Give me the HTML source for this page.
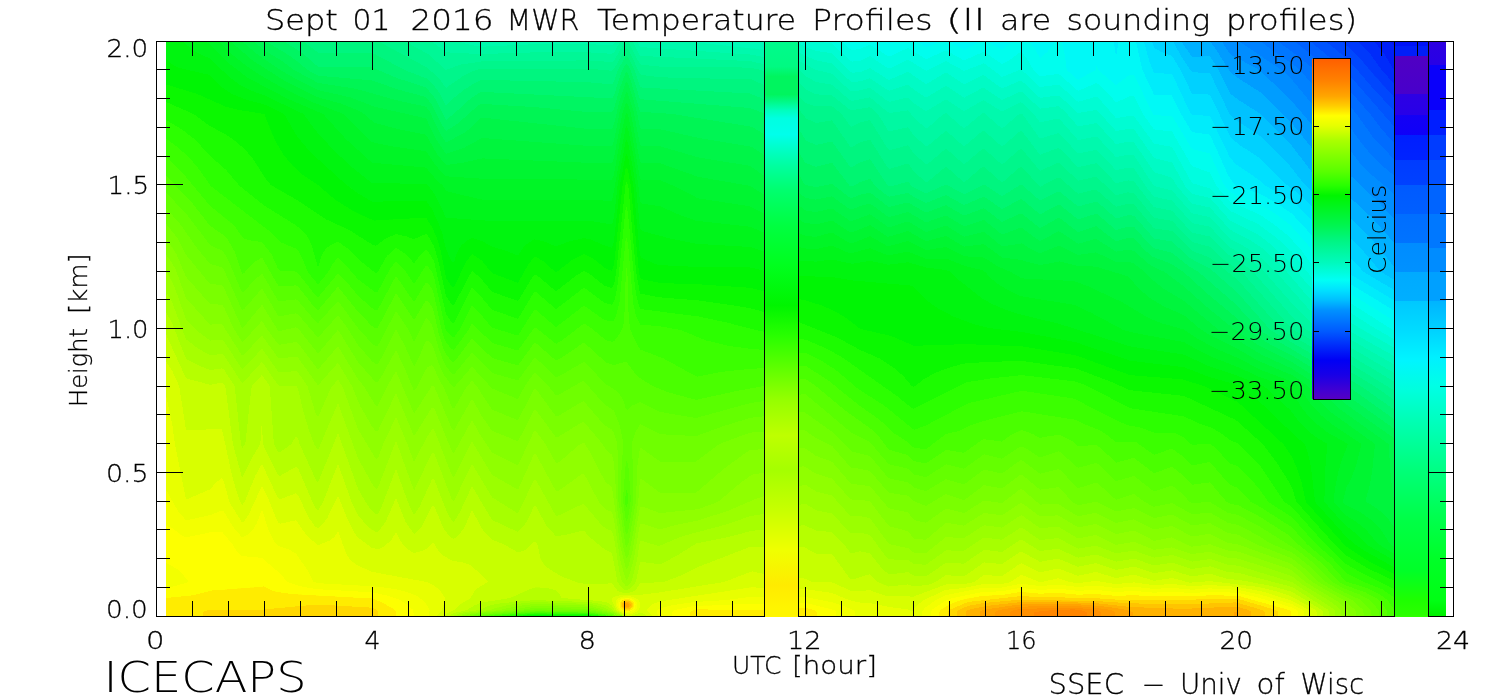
<!DOCTYPE html>
<html><head><meta charset="utf-8"><title>Sept 01 2016 MWR Temperature Profiles</title>
<style>
html,body{margin:0;padding:0;background:#fff;width:1500px;height:700px;overflow:hidden}
svg{display:block}
text{font-family:"DejaVu Sans","Liberation Sans",sans-serif;fill:#000}
</style></head><body>
<svg width="1500" height="700" viewBox="0 0 1500 700">
<defs>
<linearGradient id="g0" gradientUnits="userSpaceOnUse" x1="0" y1="42" x2="0" y2="616"><stop offset="0.0008711" stop-color="#00f50e"/><stop offset="0.08101" stop-color="#05f600"/><stop offset="0.2395" stop-color="#51ff00"/><stop offset="0.473" stop-color="#a9ff00"/><stop offset="0.6176" stop-color="#deff00"/><stop offset="0.8441" stop-color="#f8ff00"/><stop offset="0.8929" stop-color="#fcff00"/><stop offset="0.9469" stop-color="#f6ff00"/><stop offset="0.9678" stop-color="#fff800"/><stop offset="0.9991" stop-color="#ffe900"/></linearGradient>
<linearGradient id="g1" gradientUnits="userSpaceOnUse" x1="0" y1="42" x2="0" y2="616"><stop offset="0.0008711" stop-color="#00f512"/><stop offset="0.08449" stop-color="#05f600"/><stop offset="0.2535" stop-color="#51ff00"/><stop offset="0.574" stop-color="#c6ff00"/><stop offset="0.6333" stop-color="#d5ff00"/><stop offset="0.8389" stop-color="#f3ff00"/><stop offset="0.8929" stop-color="#fcff00"/><stop offset="0.9486" stop-color="#f9ff00"/><stop offset="0.9678" stop-color="#fff600"/><stop offset="0.9991" stop-color="#ffe700"/></linearGradient>
<linearGradient id="g2" gradientUnits="userSpaceOnUse" x1="0" y1="42" x2="0" y2="616"><stop offset="0.0008711" stop-color="#00f516"/><stop offset="0.08972" stop-color="#05f600"/><stop offset="0.2726" stop-color="#53ff00"/><stop offset="0.5758" stop-color="#b9ff00"/><stop offset="0.6298" stop-color="#c9ff00"/><stop offset="0.8214" stop-color="#e9ff00"/><stop offset="0.8911" stop-color="#fcff00"/><stop offset="0.9503" stop-color="#fcff00"/><stop offset="0.9991" stop-color="#ffe500"/></linearGradient>
<linearGradient id="g3" gradientUnits="userSpaceOnUse" x1="0" y1="42" x2="0" y2="616"><stop offset="0.0008711" stop-color="#00f51a"/><stop offset="0.09495" stop-color="#06f600"/><stop offset="0.2936" stop-color="#55ff00"/><stop offset="0.5688" stop-color="#b2ff00"/><stop offset="0.6193" stop-color="#c7ff00"/><stop offset="0.8214" stop-color="#eaff00"/><stop offset="0.8911" stop-color="#fdff00"/><stop offset="0.9591" stop-color="#fffb00"/><stop offset="0.9991" stop-color="#ffe400"/></linearGradient>
<linearGradient id="g4" gradientUnits="userSpaceOnUse" x1="0" y1="42" x2="0" y2="616"><stop offset="0.0008711" stop-color="#00f51e"/><stop offset="0.1002" stop-color="#05f600"/><stop offset="0.3197" stop-color="#59ff00"/><stop offset="0.5636" stop-color="#acff00"/><stop offset="0.6159" stop-color="#c5ff00"/><stop offset="0.8232" stop-color="#ecff00"/><stop offset="0.8911" stop-color="#feff00"/><stop offset="0.9573" stop-color="#fff900"/><stop offset="0.9991" stop-color="#ffe200"/></linearGradient>
<linearGradient id="g5" gradientUnits="userSpaceOnUse" x1="0" y1="42" x2="0" y2="616"><stop offset="0.0008711" stop-color="#00f521"/><stop offset="0.09669" stop-color="#01f500"/><stop offset="0.3249" stop-color="#53ff00"/><stop offset="0.5584" stop-color="#a6ff00"/><stop offset="0.6159" stop-color="#c4ff00"/><stop offset="0.8249" stop-color="#eeff00"/><stop offset="0.8929" stop-color="#ffff00"/><stop offset="0.9521" stop-color="#fff900"/><stop offset="0.9991" stop-color="#ffe000"/></linearGradient>
<linearGradient id="g6" gradientUnits="userSpaceOnUse" x1="0" y1="42" x2="0" y2="616"><stop offset="0.0008711" stop-color="#00f529"/><stop offset="0.1071" stop-color="#02f600"/><stop offset="0.3197" stop-color="#4cff00"/><stop offset="0.5671" stop-color="#acff00"/><stop offset="0.6141" stop-color="#c5ff00"/><stop offset="0.8423" stop-color="#f5ff00"/><stop offset="0.9068" stop-color="#feff00"/><stop offset="0.9556" stop-color="#fff700"/><stop offset="0.9991" stop-color="#ffe000"/></linearGradient>
<linearGradient id="g7" gradientUnits="userSpaceOnUse" x1="0" y1="42" x2="0" y2="616"><stop offset="0.0008711" stop-color="#00f531"/><stop offset="0.1159" stop-color="#04f600"/><stop offset="0.311" stop-color="#44ff00"/><stop offset="0.5723" stop-color="#abff00"/><stop offset="0.6141" stop-color="#c0ff00"/><stop offset="0.8179" stop-color="#ebff00"/><stop offset="0.9051" stop-color="#fdff00"/><stop offset="0.9573" stop-color="#fff600"/><stop offset="0.9991" stop-color="#ffe000"/></linearGradient>
<linearGradient id="g8" gradientUnits="userSpaceOnUse" x1="0" y1="42" x2="0" y2="616"><stop offset="0.0008711" stop-color="#00f539"/><stop offset="0.1193" stop-color="#05f600"/><stop offset="0.3005" stop-color="#3bff00"/><stop offset="0.5497" stop-color="#96ff00"/><stop offset="0.6176" stop-color="#b2ff00"/><stop offset="0.7517" stop-color="#cbff00"/><stop offset="0.9033" stop-color="#fcff00"/><stop offset="0.9573" stop-color="#fff500"/><stop offset="0.9991" stop-color="#ffe000"/></linearGradient>
<linearGradient id="g9" gradientUnits="userSpaceOnUse" x1="0" y1="42" x2="0" y2="616"><stop offset="0.0008711" stop-color="#00f541"/><stop offset="0.1211" stop-color="#04f600"/><stop offset="0.2883" stop-color="#32ff00"/><stop offset="0.473" stop-color="#6bff00"/><stop offset="0.6141" stop-color="#a5ff00"/><stop offset="0.7239" stop-color="#b3ff00"/><stop offset="0.8336" stop-color="#deff00"/><stop offset="0.9155" stop-color="#fcff00"/><stop offset="0.9747" stop-color="#ffec00"/><stop offset="0.9991" stop-color="#ffe000"/></linearGradient>
<linearGradient id="g10" gradientUnits="userSpaceOnUse" x1="0" y1="42" x2="0" y2="616"><stop offset="0.0008711" stop-color="#00f549"/><stop offset="0.1246" stop-color="#05f600"/><stop offset="0.2761" stop-color="#29ff00"/><stop offset="0.5549" stop-color="#95ff00"/><stop offset="0.6159" stop-color="#acff00"/><stop offset="0.7204" stop-color="#baff00"/><stop offset="0.8946" stop-color="#f8ff00"/><stop offset="0.9503" stop-color="#fff700"/><stop offset="0.9991" stop-color="#ffe000"/></linearGradient>
<linearGradient id="g11" gradientUnits="userSpaceOnUse" x1="0" y1="42" x2="0" y2="616"><stop offset="0.0008711" stop-color="#00f552"/><stop offset="0.128" stop-color="#04f600"/><stop offset="0.2726" stop-color="#23fe00"/><stop offset="0.5845" stop-color="#abff00"/><stop offset="0.6124" stop-color="#b8ff00"/><stop offset="0.7152" stop-color="#c2ff00"/><stop offset="0.8319" stop-color="#edff00"/><stop offset="0.9434" stop-color="#fffa00"/><stop offset="0.9991" stop-color="#ffe000"/></linearGradient>
<linearGradient id="g12" gradientUnits="userSpaceOnUse" x1="0" y1="42" x2="0" y2="616"><stop offset="0.0008711" stop-color="#00f55b"/><stop offset="0.1298" stop-color="#02f600"/><stop offset="0.2726" stop-color="#1efd00"/><stop offset="0.588" stop-color="#acff00"/><stop offset="0.6159" stop-color="#b6ff00"/><stop offset="0.7134" stop-color="#bfff00"/><stop offset="0.8249" stop-color="#ebff00"/><stop offset="0.9434" stop-color="#fffa00"/><stop offset="0.9991" stop-color="#ffe000"/></linearGradient>
<linearGradient id="g13" gradientUnits="userSpaceOnUse" x1="0" y1="42" x2="0" y2="616"><stop offset="0.0008711" stop-color="#00f561"/><stop offset="0.1315" stop-color="#00f503"/><stop offset="0.2744" stop-color="#1cfc00"/><stop offset="0.5148" stop-color="#7eff00"/><stop offset="0.6124" stop-color="#a8ff00"/><stop offset="0.7152" stop-color="#b4ff00"/><stop offset="0.8667" stop-color="#edff00"/><stop offset="0.9538" stop-color="#fff900"/><stop offset="0.9991" stop-color="#ffde00"/></linearGradient>
<linearGradient id="g14" gradientUnits="userSpaceOnUse" x1="0" y1="42" x2="0" y2="616"><stop offset="0.0008711" stop-color="#00f567"/><stop offset="0.1315" stop-color="#00f507"/><stop offset="0.2221" stop-color="#09f700"/><stop offset="0.4225" stop-color="#4fff00"/><stop offset="0.6141" stop-color="#a2ff00"/><stop offset="0.7204" stop-color="#b1ff00"/><stop offset="0.8929" stop-color="#f0ff00"/><stop offset="0.9573" stop-color="#fffa00"/><stop offset="0.9974" stop-color="#ffdd00"/><stop offset="0.9991" stop-color="#ffdd00"/></linearGradient>
<linearGradient id="g15" gradientUnits="userSpaceOnUse" x1="0" y1="42" x2="0" y2="616"><stop offset="0.0008711" stop-color="#00f56d"/><stop offset="0.1333" stop-color="#00f50c"/><stop offset="0.2274" stop-color="#07f700"/><stop offset="0.4207" stop-color="#4fff00"/><stop offset="0.6141" stop-color="#a3ff00"/><stop offset="0.7221" stop-color="#b5ff00"/><stop offset="0.8876" stop-color="#eeff00"/><stop offset="0.9591" stop-color="#fffa00"/><stop offset="0.9956" stop-color="#ffdc00"/><stop offset="0.9991" stop-color="#ffdc00"/></linearGradient>
<linearGradient id="g16" gradientUnits="userSpaceOnUse" x1="0" y1="42" x2="0" y2="616"><stop offset="0.0008711" stop-color="#00f573"/><stop offset="0.1333" stop-color="#00f510"/><stop offset="0.2361" stop-color="#06f600"/><stop offset="0.419" stop-color="#4dff00"/><stop offset="0.6159" stop-color="#a2ff00"/><stop offset="0.7326" stop-color="#bbff00"/><stop offset="0.8876" stop-color="#ecff00"/><stop offset="0.9503" stop-color="#faff00"/><stop offset="0.9643" stop-color="#fff500"/><stop offset="0.9956" stop-color="#ffdb00"/><stop offset="0.9991" stop-color="#ffdb00"/></linearGradient>
<linearGradient id="g17" gradientUnits="userSpaceOnUse" x1="0" y1="42" x2="0" y2="616"><stop offset="0.0008711" stop-color="#00f579"/><stop offset="0.07753" stop-color="#00f53f"/><stop offset="0.1333" stop-color="#00f515"/><stop offset="0.2448" stop-color="#05f600"/><stop offset="0.4172" stop-color="#40ff00"/><stop offset="0.5305" stop-color="#7aff00"/><stop offset="0.6246" stop-color="#9bff00"/><stop offset="0.7552" stop-color="#b8ff00"/><stop offset="0.8981" stop-color="#ebff00"/><stop offset="0.9486" stop-color="#f7ff00"/><stop offset="0.9625" stop-color="#fff900"/><stop offset="0.9922" stop-color="#ffd900"/><stop offset="0.9991" stop-color="#ffd900"/></linearGradient>
<linearGradient id="g18" gradientUnits="userSpaceOnUse" x1="0" y1="42" x2="0" y2="616"><stop offset="0.0008711" stop-color="#00f57f"/><stop offset="0.0601" stop-color="#00f556"/><stop offset="0.1315" stop-color="#00f51a"/><stop offset="0.2535" stop-color="#06f600"/><stop offset="0.4155" stop-color="#33ff00"/><stop offset="0.5148" stop-color="#6cff00"/><stop offset="0.6298" stop-color="#94ff00"/><stop offset="0.804" stop-color="#bdff00"/><stop offset="0.8981" stop-color="#e8ff00"/><stop offset="0.9469" stop-color="#f3ff00"/><stop offset="0.9625" stop-color="#fffa00"/><stop offset="0.9869" stop-color="#ffdc00"/><stop offset="0.9991" stop-color="#ffd800"/></linearGradient>
<linearGradient id="g19" gradientUnits="userSpaceOnUse" x1="0" y1="42" x2="0" y2="616"><stop offset="0.0008711" stop-color="#00f582"/><stop offset="0.0601" stop-color="#00f55b"/><stop offset="0.1315" stop-color="#00f51e"/><stop offset="0.2639" stop-color="#06f600"/><stop offset="0.4155" stop-color="#34ff00"/><stop offset="0.5148" stop-color="#6cff00"/><stop offset="0.6368" stop-color="#95ff00"/><stop offset="0.811" stop-color="#c1ff00"/><stop offset="0.8998" stop-color="#e7ff00"/><stop offset="0.9469" stop-color="#f1ff00"/><stop offset="0.9625" stop-color="#fffc00"/><stop offset="0.9817" stop-color="#ffe000"/><stop offset="0.9991" stop-color="#ffd800"/></linearGradient>
<linearGradient id="g20" gradientUnits="userSpaceOnUse" x1="0" y1="42" x2="0" y2="616"><stop offset="0.0008711" stop-color="#00f582"/><stop offset="0.06359" stop-color="#00f558"/><stop offset="0.1333" stop-color="#00f522"/><stop offset="0.2744" stop-color="#05f600"/><stop offset="0.4225" stop-color="#44ff00"/><stop offset="0.5375" stop-color="#7bff00"/><stop offset="0.6472" stop-color="#9eff00"/><stop offset="0.872" stop-color="#e2ff00"/><stop offset="0.9469" stop-color="#f0ff00"/><stop offset="0.9643" stop-color="#fffa00"/><stop offset="0.9904" stop-color="#ffd900"/><stop offset="0.9991" stop-color="#ffd800"/></linearGradient>
<linearGradient id="g21" gradientUnits="userSpaceOnUse" x1="0" y1="42" x2="0" y2="616"><stop offset="0.0008711" stop-color="#00f582"/><stop offset="0.06707" stop-color="#00f556"/><stop offset="0.135" stop-color="#00f526"/><stop offset="0.2848" stop-color="#05f600"/><stop offset="0.4486" stop-color="#5dff00"/><stop offset="0.6315" stop-color="#a1ff00"/><stop offset="0.8789" stop-color="#e5ff00"/><stop offset="0.9451" stop-color="#eeff00"/><stop offset="0.9643" stop-color="#fffb00"/><stop offset="0.9922" stop-color="#ffd900"/><stop offset="0.9991" stop-color="#ffd900"/></linearGradient>
<linearGradient id="g22" gradientUnits="userSpaceOnUse" x1="0" y1="42" x2="0" y2="616"><stop offset="0.0008711" stop-color="#00f582"/><stop offset="0.0723" stop-color="#00f552"/><stop offset="0.1385" stop-color="#00f529"/><stop offset="0.2936" stop-color="#05f600"/><stop offset="0.4608" stop-color="#5bff00"/><stop offset="0.6385" stop-color="#9aff00"/><stop offset="0.9207" stop-color="#e6ff00"/><stop offset="0.9486" stop-color="#f0ff00"/><stop offset="0.966" stop-color="#fff900"/><stop offset="0.9939" stop-color="#ffd900"/><stop offset="0.9991" stop-color="#ffd900"/></linearGradient>
<linearGradient id="g23" gradientUnits="userSpaceOnUse" x1="0" y1="42" x2="0" y2="616"><stop offset="0.0008711" stop-color="#00f582"/><stop offset="0.1402" stop-color="#00f52d"/><stop offset="0.3005" stop-color="#05f600"/><stop offset="0.4834" stop-color="#5cff00"/><stop offset="0.6507" stop-color="#94ff00"/><stop offset="0.8249" stop-color="#c4ff00"/><stop offset="0.9486" stop-color="#f0ff00"/><stop offset="0.966" stop-color="#fffb00"/><stop offset="0.9939" stop-color="#ffda00"/><stop offset="0.9991" stop-color="#ffda00"/></linearGradient>
<linearGradient id="g24" gradientUnits="userSpaceOnUse" x1="0" y1="42" x2="0" y2="616"><stop offset="0.0008711" stop-color="#00f582"/><stop offset="0.142" stop-color="#00f531"/><stop offset="0.3075" stop-color="#05f600"/><stop offset="0.5096" stop-color="#60ff00"/><stop offset="0.6768" stop-color="#93ff00"/><stop offset="0.8267" stop-color="#bbff00"/><stop offset="0.9486" stop-color="#efff00"/><stop offset="0.966" stop-color="#fffc00"/><stop offset="0.9939" stop-color="#ffda00"/><stop offset="0.9991" stop-color="#ffda00"/></linearGradient>
<linearGradient id="g25" gradientUnits="userSpaceOnUse" x1="0" y1="42" x2="0" y2="616"><stop offset="0.0008711" stop-color="#00f582"/><stop offset="0.142" stop-color="#00f535"/><stop offset="0.3145" stop-color="#05f600"/><stop offset="0.527" stop-color="#60ff00"/><stop offset="0.7117" stop-color="#96ff00"/><stop offset="0.8319" stop-color="#b7ff00"/><stop offset="0.9503" stop-color="#f0ff00"/><stop offset="0.9678" stop-color="#fffa00"/><stop offset="0.9939" stop-color="#ffdb00"/><stop offset="0.9991" stop-color="#ffdb00"/></linearGradient>
<linearGradient id="g26" gradientUnits="userSpaceOnUse" x1="0" y1="42" x2="0" y2="616"><stop offset="0.0008711" stop-color="#00f584"/><stop offset="0.1437" stop-color="#00f537"/><stop offset="0.3162" stop-color="#05f600"/><stop offset="0.5357" stop-color="#61ff00"/><stop offset="0.7866" stop-color="#a3ff00"/><stop offset="0.8615" stop-color="#c3ff00"/><stop offset="0.9521" stop-color="#f0ff00"/><stop offset="0.9713" stop-color="#fff900"/><stop offset="0.9956" stop-color="#ffe100"/><stop offset="0.9991" stop-color="#ffe100"/></linearGradient>
<linearGradient id="g27" gradientUnits="userSpaceOnUse" x1="0" y1="42" x2="0" y2="616"><stop offset="0.0008711" stop-color="#00f588"/><stop offset="0.1455" stop-color="#00f537"/><stop offset="0.3145" stop-color="#05f600"/><stop offset="0.4747" stop-color="#53ff00"/><stop offset="0.7152" stop-color="#9cff00"/><stop offset="0.8441" stop-color="#c2ff00"/><stop offset="0.9503" stop-color="#edff00"/><stop offset="0.9782" stop-color="#fff900"/><stop offset="0.9974" stop-color="#ffeb00"/><stop offset="0.9991" stop-color="#ffeb00"/></linearGradient>
<linearGradient id="g28" gradientUnits="userSpaceOnUse" x1="0" y1="42" x2="0" y2="616"><stop offset="0.0008711" stop-color="#00f68b"/><stop offset="0.1472" stop-color="#00f538"/><stop offset="0.3127" stop-color="#05f600"/><stop offset="0.4382" stop-color="#4eff00"/><stop offset="0.6803" stop-color="#9bff00"/><stop offset="0.9486" stop-color="#eaff00"/><stop offset="0.9852" stop-color="#fffa00"/><stop offset="0.9991" stop-color="#fff500"/></linearGradient>
<linearGradient id="g29" gradientUnits="userSpaceOnUse" x1="0" y1="42" x2="0" y2="616"><stop offset="0.0008711" stop-color="#00f68e"/><stop offset="0.08449" stop-color="#00f55c"/><stop offset="0.1524" stop-color="#00f537"/><stop offset="0.311" stop-color="#04f600"/><stop offset="0.4486" stop-color="#4fff00"/><stop offset="0.6768" stop-color="#95ff00"/><stop offset="0.9416" stop-color="#e4ff00"/><stop offset="0.9991" stop-color="#fffe00"/></linearGradient>
<linearGradient id="g30" gradientUnits="userSpaceOnUse" x1="0" y1="42" x2="0" y2="616"><stop offset="0.0008711" stop-color="#00f692"/><stop offset="0.07404" stop-color="#00f567"/><stop offset="0.1437" stop-color="#00f53c"/><stop offset="0.311" stop-color="#05f600"/><stop offset="0.4817" stop-color="#55ff00"/><stop offset="0.8371" stop-color="#b9ff00"/><stop offset="0.9991" stop-color="#faff00"/></linearGradient>
<linearGradient id="g31" gradientUnits="userSpaceOnUse" x1="0" y1="42" x2="0" y2="616"><stop offset="0.0008711" stop-color="#00f795"/><stop offset="0.06882" stop-color="#00f56f"/><stop offset="0.1385" stop-color="#00f53f"/><stop offset="0.311" stop-color="#05f600"/><stop offset="0.4834" stop-color="#56ff00"/><stop offset="0.8371" stop-color="#b7ff00"/><stop offset="0.9991" stop-color="#f6ff00"/></linearGradient>
<linearGradient id="g32" gradientUnits="userSpaceOnUse" x1="0" y1="42" x2="0" y2="616"><stop offset="0.0008711" stop-color="#00f799"/><stop offset="0.06707" stop-color="#00f574"/><stop offset="0.1368" stop-color="#00f541"/><stop offset="0.3092" stop-color="#05f600"/><stop offset="0.4451" stop-color="#4fff00"/><stop offset="0.5531" stop-color="#70ff00"/><stop offset="0.8406" stop-color="#c1ff00"/><stop offset="0.9991" stop-color="#f1ff00"/></linearGradient>
<linearGradient id="g33" gradientUnits="userSpaceOnUse" x1="0" y1="42" x2="0" y2="616"><stop offset="0.0008711" stop-color="#00f79c"/><stop offset="0.08624" stop-color="#00f570"/><stop offset="0.1838" stop-color="#00f538"/><stop offset="0.3267" stop-color="#01f500"/><stop offset="0.4556" stop-color="#4aff00"/><stop offset="0.7134" stop-color="#a0ff00"/><stop offset="0.9033" stop-color="#d5ff00"/><stop offset="0.9939" stop-color="#e9ff00"/><stop offset="0.9991" stop-color="#e7ff00"/></linearGradient>
<linearGradient id="g34" gradientUnits="userSpaceOnUse" x1="0" y1="42" x2="0" y2="616"><stop offset="0.0008711" stop-color="#00f8a0"/><stop offset="0.1315" stop-color="#00f564"/><stop offset="0.2674" stop-color="#00f51b"/><stop offset="0.3807" stop-color="#05f600"/><stop offset="0.5462" stop-color="#5cff00"/><stop offset="0.6559" stop-color="#86ff00"/><stop offset="0.858" stop-color="#c4ff00"/><stop offset="0.9834" stop-color="#e1ff00"/><stop offset="0.9991" stop-color="#d6ff00"/></linearGradient>
<linearGradient id="g35" gradientUnits="userSpaceOnUse" x1="0" y1="42" x2="0" y2="616"><stop offset="0.0008711" stop-color="#00f8a4"/><stop offset="0.1455" stop-color="#00f55f"/><stop offset="0.2674" stop-color="#00f51f"/><stop offset="0.426" stop-color="#05f600"/><stop offset="0.5444" stop-color="#4bff00"/><stop offset="0.6228" stop-color="#73ff00"/><stop offset="0.8458" stop-color="#b6ff00"/><stop offset="0.9416" stop-color="#daff00"/><stop offset="0.9834" stop-color="#d8ff00"/><stop offset="0.9922" stop-color="#d1ff00"/><stop offset="0.9991" stop-color="#bcff00"/></linearGradient>
<linearGradient id="g36" gradientUnits="userSpaceOnUse" x1="0" y1="42" x2="0" y2="616"><stop offset="0.0008711" stop-color="#00f8a6"/><stop offset="0.2622" stop-color="#00f521"/><stop offset="0.4172" stop-color="#05f600"/><stop offset="0.5566" stop-color="#56ff00"/><stop offset="0.6437" stop-color="#79ff00"/><stop offset="0.8476" stop-color="#b8ff00"/><stop offset="0.9434" stop-color="#d8ff00"/><stop offset="0.98" stop-color="#d1ff00"/><stop offset="0.9904" stop-color="#caff00"/><stop offset="0.9991" stop-color="#9fff00"/></linearGradient>
<linearGradient id="g37" gradientUnits="userSpaceOnUse" x1="0" y1="42" x2="0" y2="616"><stop offset="0.0008711" stop-color="#00f8a9"/><stop offset="0.1821" stop-color="#00f543"/><stop offset="0.3197" stop-color="#00f512"/><stop offset="0.3911" stop-color="#06f700"/><stop offset="0.5479" stop-color="#5bff00"/><stop offset="0.6681" stop-color="#87ff00"/><stop offset="0.9103" stop-color="#d0ff00"/><stop offset="0.9713" stop-color="#d2ff00"/><stop offset="0.9904" stop-color="#bfff00"/><stop offset="0.9991" stop-color="#89ff00"/></linearGradient>
<linearGradient id="g38" gradientUnits="userSpaceOnUse" x1="0" y1="42" x2="0" y2="616"><stop offset="0.0008711" stop-color="#00f8ac"/><stop offset="0.1263" stop-color="#00f556"/><stop offset="0.3754" stop-color="#05f600"/><stop offset="0.5218" stop-color="#53ff00"/><stop offset="0.6472" stop-color="#85ff00"/><stop offset="0.8859" stop-color="#cdff00"/><stop offset="0.9608" stop-color="#cfff00"/><stop offset="0.98" stop-color="#c1ff00"/><stop offset="0.9904" stop-color="#b4ff00"/><stop offset="0.9991" stop-color="#73ff00"/></linearGradient>
<linearGradient id="g39" gradientUnits="userSpaceOnUse" x1="0" y1="42" x2="0" y2="616"><stop offset="0.0008711" stop-color="#00f9ae"/><stop offset="0.09669" stop-color="#00f563"/><stop offset="0.1524" stop-color="#00f547"/><stop offset="0.3859" stop-color="#05f600"/><stop offset="0.5427" stop-color="#57ff00"/><stop offset="0.7099" stop-color="#90ff00"/><stop offset="0.9016" stop-color="#ccff00"/><stop offset="0.9556" stop-color="#ccff00"/><stop offset="0.9765" stop-color="#bfff00"/><stop offset="0.9904" stop-color="#a9ff00"/><stop offset="0.9991" stop-color="#5fff00"/></linearGradient>
<linearGradient id="g40" gradientUnits="userSpaceOnUse" x1="0" y1="42" x2="0" y2="616"><stop offset="0.0008711" stop-color="#00f9ad"/><stop offset="0.09843" stop-color="#00f562"/><stop offset="0.1577" stop-color="#00f546"/><stop offset="0.4016" stop-color="#04f600"/><stop offset="0.5566" stop-color="#56ff00"/><stop offset="0.7709" stop-color="#9cff00"/><stop offset="0.912" stop-color="#cbff00"/><stop offset="0.9573" stop-color="#c9ff00"/><stop offset="0.9747" stop-color="#bcff00"/><stop offset="0.9904" stop-color="#a0ff00"/><stop offset="0.9991" stop-color="#52ff00"/></linearGradient>
<linearGradient id="g41" gradientUnits="userSpaceOnUse" x1="0" y1="42" x2="0" y2="616"><stop offset="0.0008711" stop-color="#00f9ad"/><stop offset="0.1002" stop-color="#00f561"/><stop offset="0.1664" stop-color="#00f543"/><stop offset="0.4016" stop-color="#00f500"/><stop offset="0.5549" stop-color="#52ff00"/><stop offset="0.6838" stop-color="#80ff00"/><stop offset="0.858" stop-color="#b8ff00"/><stop offset="0.9416" stop-color="#ccff00"/><stop offset="0.973" stop-color="#bcff00"/><stop offset="0.9904" stop-color="#96ff00"/><stop offset="0.9974" stop-color="#59ff00"/><stop offset="0.9991" stop-color="#43ff00"/></linearGradient>
<linearGradient id="g42" gradientUnits="userSpaceOnUse" x1="0" y1="42" x2="0" y2="616"><stop offset="0.0008711" stop-color="#00f8ac"/><stop offset="0.1037" stop-color="#00f560"/><stop offset="0.1925" stop-color="#00f53b"/><stop offset="0.3929" stop-color="#00f504"/><stop offset="0.4434" stop-color="#13fa00"/><stop offset="0.6124" stop-color="#69ff00"/><stop offset="0.858" stop-color="#b5ff00"/><stop offset="0.9399" stop-color="#caff00"/><stop offset="0.9713" stop-color="#beff00"/><stop offset="0.9904" stop-color="#8dff00"/><stop offset="0.9974" stop-color="#4bff00"/><stop offset="0.9991" stop-color="#35ff00"/></linearGradient>
<linearGradient id="g43" gradientUnits="userSpaceOnUse" x1="0" y1="42" x2="0" y2="616"><stop offset="0.0008711" stop-color="#00f8ab"/><stop offset="0.1054" stop-color="#00f55f"/><stop offset="0.2274" stop-color="#00f52f"/><stop offset="0.4138" stop-color="#01f500"/><stop offset="0.5653" stop-color="#53ff00"/><stop offset="0.7343" stop-color="#8aff00"/><stop offset="0.8632" stop-color="#b5ff00"/><stop offset="0.9416" stop-color="#c8ff00"/><stop offset="0.9713" stop-color="#bbff00"/><stop offset="0.9904" stop-color="#84ff00"/><stop offset="0.9956" stop-color="#54ff00"/><stop offset="0.9991" stop-color="#26ff00"/></linearGradient>
<linearGradient id="g44" gradientUnits="userSpaceOnUse" x1="0" y1="42" x2="0" y2="616"><stop offset="0.0008711" stop-color="#00f8ab"/><stop offset="0.1089" stop-color="#00f55d"/><stop offset="0.3249" stop-color="#00f511"/><stop offset="0.4138" stop-color="#06f600"/><stop offset="0.5688" stop-color="#5aff00"/><stop offset="0.8667" stop-color="#b7ff00"/><stop offset="0.9469" stop-color="#c4ff00"/><stop offset="0.9713" stop-color="#b8ff00"/><stop offset="0.9904" stop-color="#7bff00"/><stop offset="0.9956" stop-color="#46ff00"/><stop offset="0.9991" stop-color="#16fb00"/></linearGradient>
<linearGradient id="g45" gradientUnits="userSpaceOnUse" x1="0" y1="42" x2="0" y2="616"><stop offset="0.0008711" stop-color="#00f8aa"/><stop offset="0.1124" stop-color="#00f55c"/><stop offset="0.3807" stop-color="#02f500"/><stop offset="0.5357" stop-color="#52ff00"/><stop offset="0.6629" stop-color="#81ff00"/><stop offset="0.9016" stop-color="#c0ff00"/><stop offset="0.9521" stop-color="#bfff00"/><stop offset="0.9713" stop-color="#b4ff00"/><stop offset="0.9904" stop-color="#72ff00"/><stop offset="0.9956" stop-color="#38ff00"/><stop offset="0.9991" stop-color="#06f600"/></linearGradient>
<linearGradient id="g46" gradientUnits="userSpaceOnUse" x1="0" y1="42" x2="0" y2="616"><stop offset="0.0008711" stop-color="#00f8aa"/><stop offset="0.1106" stop-color="#00f55d"/><stop offset="0.3789" stop-color="#04f600"/><stop offset="0.5322" stop-color="#54ff00"/><stop offset="0.6803" stop-color="#89ff00"/><stop offset="0.8981" stop-color="#bfff00"/><stop offset="0.9538" stop-color="#bdff00"/><stop offset="0.9713" stop-color="#b4ff00"/><stop offset="0.9904" stop-color="#6dff00"/><stop offset="0.9939" stop-color="#49ff00"/><stop offset="0.9991" stop-color="#00f502"/></linearGradient>
<linearGradient id="g47" gradientUnits="userSpaceOnUse" x1="0" y1="42" x2="0" y2="616"><stop offset="0.0008711" stop-color="#00f8aa"/><stop offset="0.1037" stop-color="#00f562"/><stop offset="0.2587" stop-color="#00f525"/><stop offset="0.3911" stop-color="#05f600"/><stop offset="0.5497" stop-color="#57ff00"/><stop offset="0.7517" stop-color="#96ff00"/><stop offset="0.912" stop-color="#beff00"/><stop offset="0.9643" stop-color="#bbff00"/><stop offset="0.9713" stop-color="#b7ff00"/><stop offset="0.9904" stop-color="#6fff00"/><stop offset="0.9939" stop-color="#4bff00"/><stop offset="0.9991" stop-color="#00f501"/></linearGradient>
<linearGradient id="g48" gradientUnits="userSpaceOnUse" x1="0" y1="42" x2="0" y2="616"><stop offset="0.0008711" stop-color="#00f8aa"/><stop offset="0.09669" stop-color="#00f567"/><stop offset="0.2152" stop-color="#00f534"/><stop offset="0.4033" stop-color="#05f600"/><stop offset="0.5601" stop-color="#55ff00"/><stop offset="0.7831" stop-color="#97ff00"/><stop offset="0.926" stop-color="#bfff00"/><stop offset="0.9713" stop-color="#b9ff00"/><stop offset="0.9904" stop-color="#70ff00"/><stop offset="0.9939" stop-color="#4cff00"/><stop offset="0.9991" stop-color="#01f500"/></linearGradient>
<linearGradient id="g49" gradientUnits="userSpaceOnUse" x1="0" y1="42" x2="0" y2="616"><stop offset="0.0008711" stop-color="#00f8aa"/><stop offset="0.09146" stop-color="#00f56b"/><stop offset="0.2082" stop-color="#00f537"/><stop offset="0.3998" stop-color="#05f600"/><stop offset="0.5566" stop-color="#55ff00"/><stop offset="0.7726" stop-color="#94ff00"/><stop offset="0.9312" stop-color="#beff00"/><stop offset="0.9713" stop-color="#bcff00"/><stop offset="0.9887" stop-color="#77ff00"/><stop offset="0.9922" stop-color="#63ff00"/><stop offset="0.9991" stop-color="#03f600"/></linearGradient>
<linearGradient id="g50" gradientUnits="userSpaceOnUse" x1="0" y1="42" x2="0" y2="616"><stop offset="0.0008711" stop-color="#00f8aa"/><stop offset="0.08798" stop-color="#00f56d"/><stop offset="0.2117" stop-color="#00f536"/><stop offset="0.3876" stop-color="#05f600"/><stop offset="0.5444" stop-color="#53ff00"/><stop offset="0.7622" stop-color="#94ff00"/><stop offset="0.9312" stop-color="#bdff00"/><stop offset="0.9713" stop-color="#bfff00"/><stop offset="0.9869" stop-color="#7fff00"/><stop offset="0.9904" stop-color="#73ff00"/><stop offset="0.9956" stop-color="#38ff00"/><stop offset="0.9991" stop-color="#05f600"/></linearGradient>
<linearGradient id="g51" gradientUnits="userSpaceOnUse" x1="0" y1="42" x2="0" y2="616"><stop offset="0.0008711" stop-color="#00f8aa"/><stop offset="0.08449" stop-color="#00f56f"/><stop offset="0.2152" stop-color="#00f535"/><stop offset="0.3772" stop-color="#05f600"/><stop offset="0.5287" stop-color="#50ff00"/><stop offset="0.7535" stop-color="#95ff00"/><stop offset="0.9312" stop-color="#bcff00"/><stop offset="0.9713" stop-color="#c2ff00"/><stop offset="0.9852" stop-color="#86ff00"/><stop offset="0.9904" stop-color="#74ff00"/><stop offset="0.9956" stop-color="#3aff00"/><stop offset="0.9991" stop-color="#07f700"/></linearGradient>
<linearGradient id="g52" gradientUnits="userSpaceOnUse" x1="0" y1="42" x2="0" y2="616"><stop offset="0.0008711" stop-color="#00f8aa"/><stop offset="0.08275" stop-color="#00f571"/><stop offset="0.2256" stop-color="#00f531"/><stop offset="0.3737" stop-color="#04f600"/><stop offset="0.52" stop-color="#4fff00"/><stop offset="0.75" stop-color="#94ff00"/><stop offset="0.9713" stop-color="#c5ff00"/><stop offset="0.9817" stop-color="#95ff00"/><stop offset="0.9904" stop-color="#75ff00"/><stop offset="0.9956" stop-color="#3cff00"/><stop offset="0.9991" stop-color="#09f700"/></linearGradient>
<linearGradient id="g53" gradientUnits="userSpaceOnUse" x1="0" y1="42" x2="0" y2="616"><stop offset="0.0008711" stop-color="#00f8aa"/><stop offset="0.08275" stop-color="#00f571"/><stop offset="0.2221" stop-color="#00f533"/><stop offset="0.3824" stop-color="#05f600"/><stop offset="0.534" stop-color="#4fff00"/><stop offset="0.7552" stop-color="#90ff00"/><stop offset="0.9713" stop-color="#c7ff00"/><stop offset="0.9852" stop-color="#91ff00"/><stop offset="0.9904" stop-color="#80ff00"/><stop offset="0.9956" stop-color="#4dff00"/><stop offset="0.9991" stop-color="#1efc00"/></linearGradient>
<linearGradient id="g54" gradientUnits="userSpaceOnUse" x1="0" y1="42" x2="0" y2="616"><stop offset="0.0008711" stop-color="#00f8ab"/><stop offset="0.08798" stop-color="#00f56f"/><stop offset="0.2221" stop-color="#00f533"/><stop offset="0.3946" stop-color="#05f600"/><stop offset="0.5444" stop-color="#4eff00"/><stop offset="0.757" stop-color="#8bff00"/><stop offset="0.9678" stop-color="#caff00"/><stop offset="0.973" stop-color="#c4ff00"/><stop offset="0.9904" stop-color="#91ff00"/><stop offset="0.9974" stop-color="#51ff00"/><stop offset="0.9991" stop-color="#3bff00"/></linearGradient>
<linearGradient id="g55" gradientUnits="userSpaceOnUse" x1="0" y1="42" x2="0" y2="616"><stop offset="0.0008711" stop-color="#00f8ab"/><stop offset="0.09321" stop-color="#00f56c"/><stop offset="0.2256" stop-color="#00f531"/><stop offset="0.4016" stop-color="#05f600"/><stop offset="0.5409" stop-color="#4aff00"/><stop offset="0.7552" stop-color="#87ff00"/><stop offset="0.9521" stop-color="#c3ff00"/><stop offset="0.973" stop-color="#cbff00"/><stop offset="0.9904" stop-color="#a3ff00"/><stop offset="0.9991" stop-color="#58ff00"/></linearGradient>
<linearGradient id="g56" gradientUnits="userSpaceOnUse" x1="0" y1="42" x2="0" y2="616"><stop offset="0.0008711" stop-color="#00f7a0"/><stop offset="0.1106" stop-color="#00f54e"/><stop offset="0.2848" stop-color="#00f509"/><stop offset="0.3423" stop-color="#08f700"/><stop offset="0.5723" stop-color="#54ff00"/><stop offset="0.7308" stop-color="#74ff00"/><stop offset="0.8179" stop-color="#7dff00"/><stop offset="0.9469" stop-color="#b2ff00"/><stop offset="0.9643" stop-color="#ceff00"/><stop offset="0.9747" stop-color="#efff00"/><stop offset="0.9834" stop-color="#f2ff00"/><stop offset="0.9904" stop-color="#daff00"/><stop offset="0.9974" stop-color="#95ff00"/><stop offset="0.9991" stop-color="#87ff00"/></linearGradient>
<linearGradient id="g57" gradientUnits="userSpaceOnUse" x1="0" y1="42" x2="0" y2="616"><stop offset="0.0008711" stop-color="#00f68d"/><stop offset="0.08101" stop-color="#00f546"/><stop offset="0.2134" stop-color="#00f500"/><stop offset="0.2709" stop-color="#20fd00"/><stop offset="0.419" stop-color="#45ff00"/><stop offset="0.534" stop-color="#4cff00"/><stop offset="0.7047" stop-color="#64ff00"/><stop offset="0.8057" stop-color="#4eff00"/><stop offset="0.9451" stop-color="#9dff00"/><stop offset="0.9573" stop-color="#b2ff00"/><stop offset="0.9643" stop-color="#d6ff00"/><stop offset="0.9695" stop-color="#fcff00"/><stop offset="0.9765" stop-color="#ffad00"/><stop offset="0.98" stop-color="#ff9f00"/><stop offset="0.9834" stop-color="#ffa200"/><stop offset="0.9887" stop-color="#ffcc00"/><stop offset="0.9922" stop-color="#fff900"/><stop offset="0.9991" stop-color="#d4ff00"/></linearGradient>
<linearGradient id="g58" gradientUnits="userSpaceOnUse" x1="0" y1="42" x2="0" y2="616"><stop offset="0.0008711" stop-color="#00f79e"/><stop offset="0.1263" stop-color="#00f541"/><stop offset="0.2814" stop-color="#00f505"/><stop offset="0.3476" stop-color="#0ef900"/><stop offset="0.6368" stop-color="#5fff00"/><stop offset="0.7413" stop-color="#6cff00"/><stop offset="0.8145" stop-color="#71ff00"/><stop offset="0.9469" stop-color="#afff00"/><stop offset="0.9625" stop-color="#ccff00"/><stop offset="0.9765" stop-color="#fffc00"/><stop offset="0.9817" stop-color="#fff000"/><stop offset="0.9887" stop-color="#f9ff00"/><stop offset="0.9991" stop-color="#cbff00"/></linearGradient>
<linearGradient id="g59" gradientUnits="userSpaceOnUse" x1="0" y1="42" x2="0" y2="616"><stop offset="0.0008711" stop-color="#00f9ad"/><stop offset="0.149" stop-color="#00f54f"/><stop offset="0.3023" stop-color="#00f51b"/><stop offset="0.4172" stop-color="#05f600"/><stop offset="0.5183" stop-color="#3dff00"/><stop offset="0.7709" stop-color="#81ff00"/><stop offset="0.9434" stop-color="#bfff00"/><stop offset="0.9817" stop-color="#ddff00"/><stop offset="0.9922" stop-color="#d7ff00"/><stop offset="0.9991" stop-color="#c3ff00"/></linearGradient>
<linearGradient id="g60" gradientUnits="userSpaceOnUse" x1="0" y1="42" x2="0" y2="616"><stop offset="0.0008711" stop-color="#00f9ae"/><stop offset="0.1524" stop-color="#00f54d"/><stop offset="0.297" stop-color="#00f51d"/><stop offset="0.419" stop-color="#04f600"/><stop offset="0.5166" stop-color="#3bff00"/><stop offset="0.7796" stop-color="#80ff00"/><stop offset="0.9416" stop-color="#beff00"/><stop offset="0.9922" stop-color="#e5ff00"/><stop offset="0.9991" stop-color="#dbff00"/></linearGradient>
<linearGradient id="g61" gradientUnits="userSpaceOnUse" x1="0" y1="42" x2="0" y2="616"><stop offset="0.0008711" stop-color="#00f9ae"/><stop offset="0.1507" stop-color="#00f54e"/><stop offset="0.2936" stop-color="#00f51e"/><stop offset="0.4225" stop-color="#05f600"/><stop offset="0.5148" stop-color="#3aff00"/><stop offset="0.7918" stop-color="#81ff00"/><stop offset="0.9416" stop-color="#beff00"/><stop offset="0.9939" stop-color="#efff00"/><stop offset="0.9991" stop-color="#eeff00"/></linearGradient>
<linearGradient id="g62" gradientUnits="userSpaceOnUse" x1="0" y1="42" x2="0" y2="616"><stop offset="0.0008711" stop-color="#00f9af"/><stop offset="0.1507" stop-color="#00f54f"/><stop offset="0.3023" stop-color="#00f51e"/><stop offset="0.4242" stop-color="#05f600"/><stop offset="0.5148" stop-color="#39ff00"/><stop offset="0.7831" stop-color="#7fff00"/><stop offset="0.9434" stop-color="#c2ff00"/><stop offset="0.9956" stop-color="#f4ff00"/><stop offset="0.9991" stop-color="#f4ff00"/></linearGradient>
<linearGradient id="g63" gradientUnits="userSpaceOnUse" x1="0" y1="42" x2="0" y2="616"><stop offset="0.0008711" stop-color="#00f9b0"/><stop offset="0.1507" stop-color="#00f550"/><stop offset="0.3214" stop-color="#00f51a"/><stop offset="0.4242" stop-color="#05f600"/><stop offset="0.5148" stop-color="#37ff00"/><stop offset="0.7744" stop-color="#7dff00"/><stop offset="0.8615" stop-color="#9fff00"/><stop offset="0.9503" stop-color="#cbff00"/><stop offset="0.9956" stop-color="#f9ff00"/><stop offset="0.9991" stop-color="#f9ff00"/></linearGradient>
<linearGradient id="g64" gradientUnits="userSpaceOnUse" x1="0" y1="42" x2="0" y2="616"><stop offset="0.0008711" stop-color="#00f9b1"/><stop offset="0.135" stop-color="#00f558"/><stop offset="0.3249" stop-color="#00f51b"/><stop offset="0.4242" stop-color="#05f600"/><stop offset="0.5148" stop-color="#36ff00"/><stop offset="0.6315" stop-color="#57ff00"/><stop offset="0.7866" stop-color="#7fff00"/><stop offset="0.9503" stop-color="#cdff00"/><stop offset="0.9939" stop-color="#feff00"/><stop offset="0.9991" stop-color="#feff00"/></linearGradient>
<linearGradient id="g65" gradientUnits="userSpaceOnUse" x1="0" y1="42" x2="0" y2="616"><stop offset="0.0008711" stop-color="#00f9b2"/><stop offset="0.1246" stop-color="#00f55e"/><stop offset="0.3441" stop-color="#00f516"/><stop offset="0.426" stop-color="#05f600"/><stop offset="0.5148" stop-color="#35ff00"/><stop offset="0.628" stop-color="#54ff00"/><stop offset="0.757" stop-color="#79ff00"/><stop offset="0.8214" stop-color="#8dff00"/><stop offset="0.9503" stop-color="#d0ff00"/><stop offset="0.9887" stop-color="#fffe00"/><stop offset="0.9991" stop-color="#fff800"/></linearGradient>
<linearGradient id="g66" gradientUnits="userSpaceOnUse" x1="0" y1="42" x2="0" y2="616"><stop offset="0.0008711" stop-color="#00f9b3"/><stop offset="0.08972" stop-color="#00f575"/><stop offset="0.1751" stop-color="#00f54b"/><stop offset="0.426" stop-color="#05f600"/><stop offset="0.5166" stop-color="#34ff00"/><stop offset="0.6246" stop-color="#52ff00"/><stop offset="0.7448" stop-color="#77ff00"/><stop offset="0.8162" stop-color="#8bff00"/><stop offset="0.9085" stop-color="#bcff00"/><stop offset="0.9503" stop-color="#d2ff00"/><stop offset="0.9834" stop-color="#fbff00"/><stop offset="0.9939" stop-color="#fff000"/><stop offset="0.9991" stop-color="#fff000"/></linearGradient>
<linearGradient id="g67" gradientUnits="userSpaceOnUse" x1="0" y1="42" x2="0" y2="616"><stop offset="0.0008711" stop-color="#00f9b4"/><stop offset="0.07404" stop-color="#00f57f"/><stop offset="0.1664" stop-color="#00f54f"/><stop offset="0.426" stop-color="#04f600"/><stop offset="0.52" stop-color="#33ff00"/><stop offset="0.6263" stop-color="#54ff00"/><stop offset="0.7465" stop-color="#7aff00"/><stop offset="0.8197" stop-color="#90ff00"/><stop offset="0.9138" stop-color="#c0ff00"/><stop offset="0.9521" stop-color="#d6ff00"/><stop offset="0.9869" stop-color="#fffc00"/><stop offset="0.9939" stop-color="#fff000"/><stop offset="0.9991" stop-color="#fff000"/></linearGradient>
<linearGradient id="g68" gradientUnits="userSpaceOnUse" x1="0" y1="42" x2="0" y2="616"><stop offset="0.0008711" stop-color="#00f9b6"/><stop offset="0.06707" stop-color="#00f583"/><stop offset="0.1681" stop-color="#00f54f"/><stop offset="0.4277" stop-color="#05f600"/><stop offset="0.5253" stop-color="#34ff00"/><stop offset="0.6298" stop-color="#58ff00"/><stop offset="0.7535" stop-color="#7eff00"/><stop offset="0.8232" stop-color="#94ff00"/><stop offset="0.919" stop-color="#c4ff00"/><stop offset="0.9538" stop-color="#daff00"/><stop offset="0.9869" stop-color="#fffc00"/><stop offset="0.9939" stop-color="#fff100"/><stop offset="0.9991" stop-color="#fff100"/></linearGradient>
<linearGradient id="g69" gradientUnits="userSpaceOnUse" x1="0" y1="42" x2="0" y2="616"><stop offset="0.0008711" stop-color="#00f9b7"/><stop offset="0.06533" stop-color="#00f584"/><stop offset="0.1716" stop-color="#00f54e"/><stop offset="0.4277" stop-color="#04f600"/><stop offset="0.5322" stop-color="#35ff00"/><stop offset="0.7378" stop-color="#7dff00"/><stop offset="0.8232" stop-color="#97ff00"/><stop offset="0.9225" stop-color="#c8ff00"/><stop offset="0.9556" stop-color="#deff00"/><stop offset="0.9869" stop-color="#fffc00"/><stop offset="0.9939" stop-color="#fff200"/><stop offset="0.9991" stop-color="#fff200"/></linearGradient>
<linearGradient id="g70" gradientUnits="userSpaceOnUse" x1="0" y1="42" x2="0" y2="616"><stop offset="0.0008711" stop-color="#00fab9"/><stop offset="0.06359" stop-color="#00f585"/><stop offset="0.1768" stop-color="#00f54d"/><stop offset="0.4294" stop-color="#05f600"/><stop offset="0.5497" stop-color="#3aff00"/><stop offset="0.7343" stop-color="#7fff00"/><stop offset="0.8267" stop-color="#9bff00"/><stop offset="0.9294" stop-color="#cdff00"/><stop offset="0.9782" stop-color="#f6ff00"/><stop offset="0.9887" stop-color="#fff800"/><stop offset="0.9991" stop-color="#fff300"/></linearGradient>
<linearGradient id="g71" gradientUnits="userSpaceOnUse" x1="0" y1="42" x2="0" y2="616"><stop offset="0.0008711" stop-color="#00faba"/><stop offset="0.06185" stop-color="#00f586"/><stop offset="0.1821" stop-color="#00f54c"/><stop offset="0.4312" stop-color="#05f600"/><stop offset="0.5967" stop-color="#4cff00"/><stop offset="0.7308" stop-color="#80ff00"/><stop offset="0.8319" stop-color="#a0ff00"/><stop offset="0.9364" stop-color="#d2ff00"/><stop offset="0.9869" stop-color="#fffc00"/><stop offset="0.9974" stop-color="#fff300"/><stop offset="0.9991" stop-color="#fff300"/></linearGradient>
<linearGradient id="g72" gradientUnits="userSpaceOnUse" x1="0" y1="42" x2="0" y2="616"><stop offset="0.0008711" stop-color="#00fabb"/><stop offset="0.0601" stop-color="#00f587"/><stop offset="0.1873" stop-color="#00f54b"/><stop offset="0.4329" stop-color="#05f600"/><stop offset="0.6037" stop-color="#50ff00"/><stop offset="0.7326" stop-color="#83ff00"/><stop offset="0.8389" stop-color="#a5ff00"/><stop offset="0.9503" stop-color="#e0ff00"/><stop offset="0.9869" stop-color="#fffc00"/><stop offset="0.9991" stop-color="#fff400"/></linearGradient>
<linearGradient id="g73" gradientUnits="userSpaceOnUse" x1="0" y1="42" x2="0" y2="616"><stop offset="0.0008711" stop-color="#00fabd"/><stop offset="0.0601" stop-color="#00f688"/><stop offset="0.1908" stop-color="#00f54c"/><stop offset="0.4347" stop-color="#05f600"/><stop offset="0.6089" stop-color="#55ff00"/><stop offset="0.7395" stop-color="#87ff00"/><stop offset="0.8493" stop-color="#acff00"/><stop offset="0.9486" stop-color="#dfff00"/><stop offset="0.9869" stop-color="#fffc00"/><stop offset="0.9991" stop-color="#fff400"/></linearGradient>
<linearGradient id="g74" gradientUnits="userSpaceOnUse" x1="0" y1="42" x2="0" y2="616"><stop offset="0.0008711" stop-color="#00fabe"/><stop offset="0.06185" stop-color="#00f68b"/><stop offset="0.1908" stop-color="#00f54f"/><stop offset="0.4382" stop-color="#05f600"/><stop offset="0.6106" stop-color="#57ff00"/><stop offset="0.7535" stop-color="#8bff00"/><stop offset="0.8598" stop-color="#b3ff00"/><stop offset="0.9486" stop-color="#deff00"/><stop offset="0.9869" stop-color="#fffb00"/><stop offset="0.9991" stop-color="#fff300"/></linearGradient>
<linearGradient id="g75" gradientUnits="userSpaceOnUse" x1="0" y1="42" x2="0" y2="616"><stop offset="0.0008711" stop-color="#00fabf"/><stop offset="0.06533" stop-color="#00f68c"/><stop offset="0.1873" stop-color="#00f553"/><stop offset="0.4416" stop-color="#05f600"/><stop offset="0.6106" stop-color="#59ff00"/><stop offset="0.7761" stop-color="#92ff00"/><stop offset="0.8737" stop-color="#bcff00"/><stop offset="0.9469" stop-color="#dbff00"/><stop offset="0.9869" stop-color="#fffa00"/><stop offset="0.9974" stop-color="#fff200"/><stop offset="0.9991" stop-color="#fff200"/></linearGradient>
<linearGradient id="g76" gradientUnits="userSpaceOnUse" x1="0" y1="42" x2="0" y2="616"><stop offset="0.0008711" stop-color="#00fac0"/><stop offset="0.06882" stop-color="#00f68e"/><stop offset="0.1803" stop-color="#00f55a"/><stop offset="0.4451" stop-color="#05f600"/><stop offset="0.6106" stop-color="#5aff00"/><stop offset="0.865" stop-color="#b7ff00"/><stop offset="0.9469" stop-color="#daff00"/><stop offset="0.9852" stop-color="#fffd00"/><stop offset="0.9939" stop-color="#fff000"/><stop offset="0.9991" stop-color="#fff000"/></linearGradient>
<linearGradient id="g77" gradientUnits="userSpaceOnUse" x1="0" y1="42" x2="0" y2="616"><stop offset="0.0008711" stop-color="#00fac3"/><stop offset="0.0723" stop-color="#00f690"/><stop offset="0.1855" stop-color="#00f55d"/><stop offset="0.4469" stop-color="#04f600"/><stop offset="0.6071" stop-color="#59ff00"/><stop offset="0.8685" stop-color="#b9ff00"/><stop offset="0.9469" stop-color="#d9ff00"/><stop offset="0.9852" stop-color="#fffc00"/><stop offset="0.9939" stop-color="#ffef00"/><stop offset="0.9991" stop-color="#ffef00"/></linearGradient>
<linearGradient id="g78" gradientUnits="userSpaceOnUse" x1="0" y1="42" x2="0" y2="616"><stop offset="0.0008711" stop-color="#00fbc9"/><stop offset="0.0723" stop-color="#00f797"/><stop offset="0.2308" stop-color="#00f556"/><stop offset="0.4399" stop-color="#00f500"/><stop offset="0.5427" stop-color="#35ff00"/><stop offset="0.6385" stop-color="#66ff00"/><stop offset="0.8737" stop-color="#bcff00"/><stop offset="0.9469" stop-color="#d9ff00"/><stop offset="0.9852" stop-color="#fffa00"/><stop offset="0.9939" stop-color="#ffed00"/><stop offset="0.9991" stop-color="#ffed00"/></linearGradient>
<linearGradient id="g79" gradientUnits="userSpaceOnUse" x1="0" y1="42" x2="0" y2="616"><stop offset="0.0008711" stop-color="#00fcd0"/><stop offset="0.0723" stop-color="#00f79e"/><stop offset="0.297" stop-color="#00f53f"/><stop offset="0.4294" stop-color="#00f504"/><stop offset="0.5113" stop-color="#20fd00"/><stop offset="0.6211" stop-color="#61ff00"/><stop offset="0.9451" stop-color="#d7ff00"/><stop offset="0.9834" stop-color="#fffd00"/><stop offset="0.9939" stop-color="#ffeb00"/><stop offset="0.9991" stop-color="#ffeb00"/></linearGradient>
<linearGradient id="g80" gradientUnits="userSpaceOnUse" x1="0" y1="42" x2="0" y2="616"><stop offset="0.0008711" stop-color="#00fcd5"/><stop offset="0.07578" stop-color="#00f8a1"/><stop offset="0.2169" stop-color="#00f568"/><stop offset="0.4225" stop-color="#00f506"/><stop offset="0.4765" stop-color="#0cf800"/><stop offset="0.588" stop-color="#4eff00"/><stop offset="0.9469" stop-color="#d7ff00"/><stop offset="0.9852" stop-color="#fffd00"/><stop offset="0.9939" stop-color="#fff000"/><stop offset="0.9991" stop-color="#fff000"/></linearGradient>
<linearGradient id="g81" gradientUnits="userSpaceOnUse" x1="0" y1="42" x2="0" y2="616"><stop offset="0.0008711" stop-color="#00fcd8"/><stop offset="0.08624" stop-color="#00f79f"/><stop offset="0.2064" stop-color="#00f56d"/><stop offset="0.3145" stop-color="#00f538"/><stop offset="0.4207" stop-color="#00f507"/><stop offset="0.4782" stop-color="#0af800"/><stop offset="0.6437" stop-color="#62ff00"/><stop offset="0.9469" stop-color="#d5ff00"/><stop offset="0.9904" stop-color="#fffa00"/><stop offset="0.9991" stop-color="#fff900"/></linearGradient>
<linearGradient id="g82" gradientUnits="userSpaceOnUse" x1="0" y1="42" x2="0" y2="616"><stop offset="0.0008711" stop-color="#00fdda"/><stop offset="0.1071" stop-color="#00f693"/><stop offset="0.2726" stop-color="#00f54d"/><stop offset="0.4172" stop-color="#00f508"/><stop offset="0.48" stop-color="#08f700"/><stop offset="0.6455" stop-color="#5fff00"/><stop offset="0.9486" stop-color="#d7ff00"/><stop offset="0.9956" stop-color="#feff00"/><stop offset="0.9991" stop-color="#feff00"/></linearGradient>
<linearGradient id="g83" gradientUnits="userSpaceOnUse" x1="0" y1="42" x2="0" y2="616"><stop offset="0.0008711" stop-color="#00fddd"/><stop offset="0.1298" stop-color="#00f689"/><stop offset="0.2692" stop-color="#00f54f"/><stop offset="0.4155" stop-color="#00f509"/><stop offset="0.4869" stop-color="#08f700"/><stop offset="0.649" stop-color="#5cff00"/><stop offset="0.9486" stop-color="#d5ff00"/><stop offset="0.9974" stop-color="#f9ff00"/><stop offset="0.9991" stop-color="#f9ff00"/></linearGradient>
<linearGradient id="g84" gradientUnits="userSpaceOnUse" x1="0" y1="42" x2="0" y2="616"><stop offset="0.0008711" stop-color="#00fee6"/><stop offset="0.1385" stop-color="#00f68d"/><stop offset="0.2674" stop-color="#00f557"/><stop offset="0.4138" stop-color="#00f509"/><stop offset="0.4956" stop-color="#08f700"/><stop offset="0.6559" stop-color="#5bff00"/><stop offset="0.9486" stop-color="#ceff00"/><stop offset="0.9956" stop-color="#f5ff00"/><stop offset="0.9991" stop-color="#f5ff00"/></linearGradient>
<linearGradient id="g85" gradientUnits="userSpaceOnUse" x1="0" y1="42" x2="0" y2="616"><stop offset="0.0008711" stop-color="#00feef"/><stop offset="0.1385" stop-color="#00f693"/><stop offset="0.2657" stop-color="#00f55f"/><stop offset="0.412" stop-color="#00f50a"/><stop offset="0.5026" stop-color="#07f700"/><stop offset="0.6681" stop-color="#5bff00"/><stop offset="0.9486" stop-color="#c8ff00"/><stop offset="0.9939" stop-color="#f0ff00"/><stop offset="0.9991" stop-color="#f0ff00"/></linearGradient>
<linearGradient id="g86" gradientUnits="userSpaceOnUse" x1="0" y1="42" x2="0" y2="616"><stop offset="0.0008711" stop-color="#00feef"/><stop offset="0.1385" stop-color="#00f692"/><stop offset="0.2657" stop-color="#00f55d"/><stop offset="0.4103" stop-color="#00f50a"/><stop offset="0.5061" stop-color="#06f600"/><stop offset="0.6821" stop-color="#5cff00"/><stop offset="0.9521" stop-color="#cbff00"/><stop offset="0.9956" stop-color="#ecff00"/><stop offset="0.9991" stop-color="#ecff00"/></linearGradient>
<linearGradient id="g87" gradientUnits="userSpaceOnUse" x1="0" y1="42" x2="0" y2="616"><stop offset="0.0008711" stop-color="#00feec"/><stop offset="0.1385" stop-color="#00f690"/><stop offset="0.2657" stop-color="#00f55a"/><stop offset="0.4103" stop-color="#00f50a"/><stop offset="0.5096" stop-color="#06f600"/><stop offset="0.6995" stop-color="#61ff00"/><stop offset="0.9538" stop-color="#ceff00"/><stop offset="0.9974" stop-color="#eaff00"/><stop offset="0.9991" stop-color="#eaff00"/></linearGradient>
<linearGradient id="g88" gradientUnits="userSpaceOnUse" x1="0" y1="42" x2="0" y2="616"><stop offset="0.0008711" stop-color="#00feed"/><stop offset="0.1402" stop-color="#00f693"/><stop offset="0.2639" stop-color="#00f55e"/><stop offset="0.4085" stop-color="#00f50b"/><stop offset="0.5113" stop-color="#05f600"/><stop offset="0.6803" stop-color="#52ff00"/><stop offset="0.9451" stop-color="#c5ff00"/><stop offset="0.9956" stop-color="#e9ff00"/><stop offset="0.9991" stop-color="#e9ff00"/></linearGradient>
<linearGradient id="g89" gradientUnits="userSpaceOnUse" x1="0" y1="42" x2="0" y2="616"><stop offset="0.0008711" stop-color="#00fff2"/><stop offset="0.1402" stop-color="#00f79b"/><stop offset="0.2605" stop-color="#00f56a"/><stop offset="0.4085" stop-color="#00f50b"/><stop offset="0.5166" stop-color="#06f600"/><stop offset="0.696" stop-color="#52ff00"/><stop offset="0.9416" stop-color="#bcff00"/><stop offset="0.9956" stop-color="#e7ff00"/><stop offset="0.9991" stop-color="#e8ff00"/></linearGradient>
<linearGradient id="g90" gradientUnits="userSpaceOnUse" x1="0" y1="42" x2="0" y2="616"><stop offset="0.0008711" stop-color="#00fef5"/><stop offset="0.142" stop-color="#00f8a1"/><stop offset="0.2605" stop-color="#00f571"/><stop offset="0.4085" stop-color="#00f50b"/><stop offset="0.5218" stop-color="#06f700"/><stop offset="0.703" stop-color="#4dff00"/><stop offset="0.9416" stop-color="#b7ff00"/><stop offset="0.9956" stop-color="#e6ff00"/><stop offset="0.9991" stop-color="#e6ff00"/></linearGradient>
<linearGradient id="g91" gradientUnits="userSpaceOnUse" x1="0" y1="42" x2="0" y2="616"><stop offset="0.0008711" stop-color="#00fff2"/><stop offset="0.135" stop-color="#00f8a2"/><stop offset="0.2587" stop-color="#00f570"/><stop offset="0.4016" stop-color="#00f50c"/><stop offset="0.527" stop-color="#06f600"/><stop offset="0.649" stop-color="#32ff00"/><stop offset="0.8528" stop-color="#8cff00"/><stop offset="0.9416" stop-color="#b9ff00"/><stop offset="0.9956" stop-color="#e4ff00"/><stop offset="0.9991" stop-color="#e4ff00"/></linearGradient>
<linearGradient id="g92" gradientUnits="userSpaceOnUse" x1="0" y1="42" x2="0" y2="616"><stop offset="0.0008711" stop-color="#00feef"/><stop offset="0.1298" stop-color="#00f8a3"/><stop offset="0.2587" stop-color="#00f56d"/><stop offset="0.3824" stop-color="#00f516"/><stop offset="0.4172" stop-color="#00f50a"/><stop offset="0.5357" stop-color="#06f700"/><stop offset="0.6402" stop-color="#29ff00"/><stop offset="0.8267" stop-color="#82ff00"/><stop offset="0.9225" stop-color="#adff00"/><stop offset="0.9956" stop-color="#e2ff00"/><stop offset="0.9991" stop-color="#e2ff00"/></linearGradient>
<linearGradient id="g93" gradientUnits="userSpaceOnUse" x1="0" y1="42" x2="0" y2="616"><stop offset="0.0008711" stop-color="#00fff2"/><stop offset="0.1298" stop-color="#00f8a8"/><stop offset="0.2587" stop-color="#00f573"/><stop offset="0.3807" stop-color="#00f519"/><stop offset="0.4138" stop-color="#00f50b"/><stop offset="0.5444" stop-color="#06f700"/><stop offset="0.642" stop-color="#25fe00"/><stop offset="0.7343" stop-color="#54ff00"/><stop offset="0.858" stop-color="#87ff00"/><stop offset="0.9434" stop-color="#b9ff00"/><stop offset="0.9956" stop-color="#e2ff00"/><stop offset="0.9991" stop-color="#e2ff00"/></linearGradient>
<linearGradient id="g94" gradientUnits="userSpaceOnUse" x1="0" y1="42" x2="0" y2="616"><stop offset="0.0008711" stop-color="#00fdf6"/><stop offset="0.1385" stop-color="#00f8a9"/><stop offset="0.2605" stop-color="#00f578"/><stop offset="0.4016" stop-color="#00f50e"/><stop offset="0.5392" stop-color="#06f600"/><stop offset="0.7047" stop-color="#40ff00"/><stop offset="0.8197" stop-color="#79ff00"/><stop offset="0.9207" stop-color="#a7ff00"/><stop offset="0.9608" stop-color="#d0ff00"/><stop offset="0.9922" stop-color="#edff00"/><stop offset="0.9991" stop-color="#eeff00"/></linearGradient>
<linearGradient id="g95" gradientUnits="userSpaceOnUse" x1="0" y1="42" x2="0" y2="616"><stop offset="0.0008711" stop-color="#00fbf6"/><stop offset="0.1385" stop-color="#00f8aa"/><stop offset="0.2605" stop-color="#00f579"/><stop offset="0.4033" stop-color="#00f510"/><stop offset="0.5375" stop-color="#06f600"/><stop offset="0.7256" stop-color="#4eff00"/><stop offset="0.926" stop-color="#adff00"/><stop offset="0.9556" stop-color="#d0ff00"/><stop offset="0.9852" stop-color="#f3ff00"/><stop offset="0.9991" stop-color="#f7ff00"/></linearGradient>
<linearGradient id="g96" gradientUnits="userSpaceOnUse" x1="0" y1="42" x2="0" y2="616"><stop offset="0.0008711" stop-color="#00fff5"/><stop offset="0.1176" stop-color="#00f9ae"/><stop offset="0.2605" stop-color="#00f573"/><stop offset="0.3929" stop-color="#00f516"/><stop offset="0.5357" stop-color="#06f600"/><stop offset="0.7274" stop-color="#55ff00"/><stop offset="0.919" stop-color="#afff00"/><stop offset="0.9486" stop-color="#ceff00"/><stop offset="0.9782" stop-color="#f5ff00"/><stop offset="0.9991" stop-color="#fffb00"/></linearGradient>
<linearGradient id="g97" gradientUnits="userSpaceOnUse" x1="0" y1="42" x2="0" y2="616"><stop offset="0.0008711" stop-color="#00fff2"/><stop offset="0.09843" stop-color="#00f9b3"/><stop offset="0.2605" stop-color="#00f56e"/><stop offset="0.3772" stop-color="#00f520"/><stop offset="0.4207" stop-color="#00f511"/><stop offset="0.534" stop-color="#05f600"/><stop offset="0.7204" stop-color="#57ff00"/><stop offset="0.912" stop-color="#b1ff00"/><stop offset="0.9451" stop-color="#d0ff00"/><stop offset="0.973" stop-color="#f8ff00"/><stop offset="0.9834" stop-color="#fff700"/><stop offset="0.9939" stop-color="#ffe700"/><stop offset="0.9991" stop-color="#ffe700"/></linearGradient>
<linearGradient id="g98" gradientUnits="userSpaceOnUse" x1="0" y1="42" x2="0" y2="616"><stop offset="0.0008711" stop-color="#00fdf6"/><stop offset="0.1193" stop-color="#00f9ae"/><stop offset="0.2605" stop-color="#00f574"/><stop offset="0.3998" stop-color="#00f516"/><stop offset="0.5322" stop-color="#05f600"/><stop offset="0.7186" stop-color="#54ff00"/><stop offset="0.9155" stop-color="#b3ff00"/><stop offset="0.9434" stop-color="#cdff00"/><stop offset="0.9695" stop-color="#faff00"/><stop offset="0.9782" stop-color="#fff300"/><stop offset="0.9922" stop-color="#ffd300"/><stop offset="0.9991" stop-color="#ffd300"/></linearGradient>
<linearGradient id="g99" gradientUnits="userSpaceOnUse" x1="0" y1="42" x2="0" y2="616"><stop offset="0.0008711" stop-color="#00f8f7"/><stop offset="0.03223" stop-color="#00fee6"/><stop offset="0.1385" stop-color="#00f8ab"/><stop offset="0.2622" stop-color="#00f579"/><stop offset="0.4068" stop-color="#00f517"/><stop offset="0.5322" stop-color="#05f600"/><stop offset="0.7047" stop-color="#4cff00"/><stop offset="0.9138" stop-color="#b1ff00"/><stop offset="0.9434" stop-color="#cdff00"/><stop offset="0.966" stop-color="#faff00"/><stop offset="0.973" stop-color="#fff400"/><stop offset="0.9922" stop-color="#ffc300"/><stop offset="0.9991" stop-color="#ffc200"/></linearGradient>
<linearGradient id="g100" gradientUnits="userSpaceOnUse" x1="0" y1="42" x2="0" y2="616"><stop offset="0.0008711" stop-color="#00f9f7"/><stop offset="0.04443" stop-color="#00fddb"/><stop offset="0.1559" stop-color="#00f8a3"/><stop offset="0.2639" stop-color="#00f575"/><stop offset="0.4051" stop-color="#00f51a"/><stop offset="0.5305" stop-color="#05f600"/><stop offset="0.6751" stop-color="#45ff00"/><stop offset="0.8632" stop-color="#99ff00"/><stop offset="0.9399" stop-color="#cbff00"/><stop offset="0.966" stop-color="#ffff00"/><stop offset="0.9904" stop-color="#ffb600"/><stop offset="0.9991" stop-color="#ffb500"/></linearGradient>
<linearGradient id="g101" gradientUnits="userSpaceOnUse" x1="0" y1="42" x2="0" y2="616"><stop offset="0.0008711" stop-color="#00fef5"/><stop offset="0.128" stop-color="#00f8a8"/><stop offset="0.2622" stop-color="#00f571"/><stop offset="0.3946" stop-color="#00f521"/><stop offset="0.5322" stop-color="#05f600"/><stop offset="0.6733" stop-color="#46ff00"/><stop offset="0.8772" stop-color="#a5ff00"/><stop offset="0.9434" stop-color="#daff00"/><stop offset="0.9643" stop-color="#fffd00"/><stop offset="0.9904" stop-color="#ffad00"/><stop offset="0.9991" stop-color="#ffac00"/></linearGradient>
<linearGradient id="g102" gradientUnits="userSpaceOnUse" x1="0" y1="42" x2="0" y2="616"><stop offset="0.0008711" stop-color="#00fff3"/><stop offset="0.1333" stop-color="#00f8a5"/><stop offset="0.2639" stop-color="#00f56f"/><stop offset="0.3911" stop-color="#00f525"/><stop offset="0.5322" stop-color="#05f600"/><stop offset="0.6559" stop-color="#41ff00"/><stop offset="0.8789" stop-color="#a9ff00"/><stop offset="0.9434" stop-color="#dfff00"/><stop offset="0.9625" stop-color="#fffd00"/><stop offset="0.9904" stop-color="#ffa400"/><stop offset="0.9991" stop-color="#ffa400"/></linearGradient>
<linearGradient id="g103" gradientUnits="userSpaceOnUse" x1="0" y1="42" x2="0" y2="616"><stop offset="0.0008711" stop-color="#00fdf6"/><stop offset="0.1472" stop-color="#00f8a4"/><stop offset="0.2674" stop-color="#00f572"/><stop offset="0.4085" stop-color="#00f522"/><stop offset="0.5322" stop-color="#05f600"/><stop offset="0.6472" stop-color="#3fff00"/><stop offset="0.8598" stop-color="#9eff00"/><stop offset="0.9416" stop-color="#dbff00"/><stop offset="0.9625" stop-color="#fffc00"/><stop offset="0.9904" stop-color="#ff9f00"/><stop offset="0.9991" stop-color="#ff9e00"/></linearGradient>
<linearGradient id="g104" gradientUnits="userSpaceOnUse" x1="0" y1="42" x2="0" y2="616"><stop offset="0.0008711" stop-color="#00f9f7"/><stop offset="0.05836" stop-color="#00fddb"/><stop offset="0.149" stop-color="#00f8a8"/><stop offset="0.2726" stop-color="#00f575"/><stop offset="0.4207" stop-color="#00f522"/><stop offset="0.5322" stop-color="#05f600"/><stop offset="0.6402" stop-color="#3eff00"/><stop offset="0.851" stop-color="#98ff00"/><stop offset="0.9242" stop-color="#caff00"/><stop offset="0.9434" stop-color="#dfff00"/><stop offset="0.9625" stop-color="#fffa00"/><stop offset="0.9887" stop-color="#ff9e00"/><stop offset="0.9991" stop-color="#ff9900"/></linearGradient>
<linearGradient id="g105" gradientUnits="userSpaceOnUse" x1="0" y1="42" x2="0" y2="616"><stop offset="0.0008711" stop-color="#00fef5"/><stop offset="0.09321" stop-color="#00fabf"/><stop offset="0.2047" stop-color="#00f690"/><stop offset="0.2918" stop-color="#00f565"/><stop offset="0.4312" stop-color="#00f521"/><stop offset="0.5322" stop-color="#04f600"/><stop offset="0.635" stop-color="#3dff00"/><stop offset="0.8598" stop-color="#a2ff00"/><stop offset="0.9434" stop-color="#e6ff00"/><stop offset="0.9591" stop-color="#fffe00"/><stop offset="0.9817" stop-color="#ffab00"/><stop offset="0.9922" stop-color="#ff9400"/><stop offset="0.9991" stop-color="#ff9400"/></linearGradient>
<linearGradient id="g106" gradientUnits="userSpaceOnUse" x1="0" y1="42" x2="0" y2="616"><stop offset="0.0008711" stop-color="#00fff1"/><stop offset="0.08275" stop-color="#00fac2"/><stop offset="0.1629" stop-color="#00f79a"/><stop offset="0.2814" stop-color="#00f567"/><stop offset="0.4207" stop-color="#00f527"/><stop offset="0.534" stop-color="#05f600"/><stop offset="0.6315" stop-color="#3dff00"/><stop offset="0.8685" stop-color="#acff00"/><stop offset="0.9486" stop-color="#f3ff00"/><stop offset="0.9573" stop-color="#fffc00"/><stop offset="0.9765" stop-color="#ffba00"/><stop offset="0.9887" stop-color="#ff9400"/><stop offset="0.9991" stop-color="#ff8e00"/></linearGradient>
<linearGradient id="g107" gradientUnits="userSpaceOnUse" x1="0" y1="42" x2="0" y2="616"><stop offset="0.0008711" stop-color="#00fff2"/><stop offset="0.0723" stop-color="#00fbcd"/><stop offset="0.1507" stop-color="#00f8a1"/><stop offset="0.2814" stop-color="#00f569"/><stop offset="0.4225" stop-color="#00f528"/><stop offset="0.534" stop-color="#04f600"/><stop offset="0.6298" stop-color="#3cff00"/><stop offset="0.865" stop-color="#a8ff00"/><stop offset="0.9486" stop-color="#f3ff00"/><stop offset="0.9573" stop-color="#fffb00"/><stop offset="0.9747" stop-color="#ffc000"/><stop offset="0.9869" stop-color="#ff9500"/><stop offset="0.9956" stop-color="#ff8b00"/><stop offset="0.9991" stop-color="#ff8b00"/></linearGradient>
<linearGradient id="g108" gradientUnits="userSpaceOnUse" x1="0" y1="42" x2="0" y2="616"><stop offset="0.0008711" stop-color="#00fdf6"/><stop offset="0.06359" stop-color="#00fddd"/><stop offset="0.1455" stop-color="#00f8ab"/><stop offset="0.2831" stop-color="#00f56f"/><stop offset="0.4347" stop-color="#00f524"/><stop offset="0.5375" stop-color="#05f600"/><stop offset="0.628" stop-color="#3bff00"/><stop offset="0.8441" stop-color="#98ff00"/><stop offset="0.9016" stop-color="#c0ff00"/><stop offset="0.9469" stop-color="#eeff00"/><stop offset="0.9591" stop-color="#fffb00"/><stop offset="0.9747" stop-color="#ffc100"/><stop offset="0.9852" stop-color="#ff9900"/><stop offset="0.9939" stop-color="#ff8a00"/><stop offset="0.9991" stop-color="#ff8a00"/></linearGradient>
<linearGradient id="g109" gradientUnits="userSpaceOnUse" x1="0" y1="42" x2="0" y2="616"><stop offset="0.0008711" stop-color="#00f9f7"/><stop offset="0.05836" stop-color="#00fee8"/><stop offset="0.1437" stop-color="#00f9b1"/><stop offset="0.2918" stop-color="#00f56e"/><stop offset="0.4294" stop-color="#00f526"/><stop offset="0.5392" stop-color="#05f600"/><stop offset="0.6263" stop-color="#39ff00"/><stop offset="0.8371" stop-color="#90ff00"/><stop offset="0.9016" stop-color="#bbff00"/><stop offset="0.9451" stop-color="#e9ff00"/><stop offset="0.9591" stop-color="#fffd00"/><stop offset="0.973" stop-color="#ffcb00"/><stop offset="0.9834" stop-color="#ff9d00"/><stop offset="0.9922" stop-color="#ff8800"/><stop offset="0.9991" stop-color="#ff8800"/></linearGradient>
<linearGradient id="g110" gradientUnits="userSpaceOnUse" x1="0" y1="42" x2="0" y2="616"><stop offset="0.0008711" stop-color="#00fdf6"/><stop offset="0.0601" stop-color="#00fee5"/><stop offset="0.1455" stop-color="#00f9af"/><stop offset="0.2883" stop-color="#00f56b"/><stop offset="0.4225" stop-color="#00f529"/><stop offset="0.5409" stop-color="#04f600"/><stop offset="0.6263" stop-color="#38ff00"/><stop offset="0.8354" stop-color="#90ff00"/><stop offset="0.8981" stop-color="#baff00"/><stop offset="0.9486" stop-color="#f1ff00"/><stop offset="0.9591" stop-color="#fffb00"/><stop offset="0.973" stop-color="#ffca00"/><stop offset="0.9834" stop-color="#ff9c00"/><stop offset="0.9922" stop-color="#ff8700"/><stop offset="0.9991" stop-color="#ff8700"/></linearGradient>
<linearGradient id="g111" gradientUnits="userSpaceOnUse" x1="0" y1="42" x2="0" y2="616"><stop offset="0.0008711" stop-color="#00fff3"/><stop offset="0.0601" stop-color="#00fde4"/><stop offset="0.1472" stop-color="#00f9ac"/><stop offset="0.2883" stop-color="#00f567"/><stop offset="0.4068" stop-color="#00f52e"/><stop offset="0.5444" stop-color="#05f600"/><stop offset="0.6246" stop-color="#36ff00"/><stop offset="0.8354" stop-color="#90ff00"/><stop offset="0.8946" stop-color="#b9ff00"/><stop offset="0.9521" stop-color="#f7ff00"/><stop offset="0.9591" stop-color="#fff900"/><stop offset="0.973" stop-color="#ffc900"/><stop offset="0.9834" stop-color="#ff9b00"/><stop offset="0.9922" stop-color="#ff8500"/><stop offset="0.9991" stop-color="#ff8500"/></linearGradient>
<linearGradient id="g112" gradientUnits="userSpaceOnUse" x1="0" y1="42" x2="0" y2="616"><stop offset="0.0008711" stop-color="#00fcf6"/><stop offset="0.05662" stop-color="#00feef"/><stop offset="0.149" stop-color="#00f9b2"/><stop offset="0.2953" stop-color="#00f568"/><stop offset="0.419" stop-color="#00f52b"/><stop offset="0.5357" stop-color="#00f502"/><stop offset="0.6263" stop-color="#36ff00"/><stop offset="0.8301" stop-color="#89ff00"/><stop offset="0.8998" stop-color="#b9ff00"/><stop offset="0.9503" stop-color="#f3ff00"/><stop offset="0.9591" stop-color="#fffd00"/><stop offset="0.9713" stop-color="#ffd600"/><stop offset="0.9817" stop-color="#ffa000"/><stop offset="0.9922" stop-color="#ff8400"/><stop offset="0.9991" stop-color="#ff8400"/></linearGradient>
<linearGradient id="g113" gradientUnits="userSpaceOnUse" x1="0" y1="42" x2="0" y2="616"><stop offset="0.0008711" stop-color="#00f7f8"/><stop offset="0.05836" stop-color="#00fdf6"/><stop offset="0.1646" stop-color="#00f9b2"/><stop offset="0.3127" stop-color="#00f563"/><stop offset="0.4207" stop-color="#00f52a"/><stop offset="0.5305" stop-color="#00f506"/><stop offset="0.5618" stop-color="#0ff900"/><stop offset="0.628" stop-color="#36ff00"/><stop offset="0.8267" stop-color="#81ff00"/><stop offset="0.9051" stop-color="#b8ff00"/><stop offset="0.9451" stop-color="#e8ff00"/><stop offset="0.9608" stop-color="#fffc00"/><stop offset="0.9713" stop-color="#ffd900"/><stop offset="0.9817" stop-color="#ffa000"/><stop offset="0.9922" stop-color="#ff8200"/><stop offset="0.9991" stop-color="#ff8200"/></linearGradient>
<linearGradient id="g114" gradientUnits="userSpaceOnUse" x1="0" y1="42" x2="0" y2="616"><stop offset="0.0008711" stop-color="#00f6f8"/><stop offset="0.05836" stop-color="#00fcf6"/><stop offset="0.196" stop-color="#00f8a6"/><stop offset="0.3267" stop-color="#00f55d"/><stop offset="0.4207" stop-color="#00f52c"/><stop offset="0.5305" stop-color="#00f508"/><stop offset="0.5584" stop-color="#09f700"/><stop offset="0.628" stop-color="#33ff00"/><stop offset="0.8284" stop-color="#81ff00"/><stop offset="0.9051" stop-color="#b6ff00"/><stop offset="0.9451" stop-color="#e7ff00"/><stop offset="0.9608" stop-color="#fffd00"/><stop offset="0.9713" stop-color="#ffdb00"/><stop offset="0.9834" stop-color="#ff9d00"/><stop offset="0.9922" stop-color="#ff8700"/><stop offset="0.9991" stop-color="#ff8700"/></linearGradient>
<linearGradient id="g115" gradientUnits="userSpaceOnUse" x1="0" y1="42" x2="0" y2="616"><stop offset="0.0008711" stop-color="#00faf7"/><stop offset="0.06359" stop-color="#00fff0"/><stop offset="0.2134" stop-color="#00f79c"/><stop offset="0.4068" stop-color="#00f531"/><stop offset="0.5287" stop-color="#00f50b"/><stop offset="0.5601" stop-color="#07f700"/><stop offset="0.635" stop-color="#33ff00"/><stop offset="0.7901" stop-color="#6fff00"/><stop offset="0.8963" stop-color="#afff00"/><stop offset="0.9503" stop-color="#f1ff00"/><stop offset="0.9608" stop-color="#fffb00"/><stop offset="0.973" stop-color="#ffd000"/><stop offset="0.9852" stop-color="#ff9c00"/><stop offset="0.9922" stop-color="#ff8c00"/><stop offset="0.9991" stop-color="#ff8c00"/></linearGradient>
<linearGradient id="g116" gradientUnits="userSpaceOnUse" x1="0" y1="42" x2="0" y2="616"><stop offset="0.0008711" stop-color="#00fcf6"/><stop offset="0.0601" stop-color="#00feef"/><stop offset="0.3075" stop-color="#00f565"/><stop offset="0.4103" stop-color="#00f531"/><stop offset="0.5287" stop-color="#00f50d"/><stop offset="0.5653" stop-color="#07f700"/><stop offset="0.649" stop-color="#36ff00"/><stop offset="0.7692" stop-color="#69ff00"/><stop offset="0.8528" stop-color="#91ff00"/><stop offset="0.9051" stop-color="#bbff00"/><stop offset="0.9573" stop-color="#fcff00"/><stop offset="0.9713" stop-color="#ffdb00"/><stop offset="0.9852" stop-color="#ffa000"/><stop offset="0.9939" stop-color="#ff9200"/><stop offset="0.9991" stop-color="#ff9200"/></linearGradient>
<linearGradient id="g117" gradientUnits="userSpaceOnUse" x1="0" y1="42" x2="0" y2="616"><stop offset="0.0008711" stop-color="#00f7f8"/><stop offset="0.07056" stop-color="#00feef"/><stop offset="0.3145" stop-color="#00f569"/><stop offset="0.4155" stop-color="#00f531"/><stop offset="0.5287" stop-color="#00f50f"/><stop offset="0.5688" stop-color="#06f600"/><stop offset="0.6751" stop-color="#3fff00"/><stop offset="0.8371" stop-color="#84ff00"/><stop offset="0.9051" stop-color="#b4ff00"/><stop offset="0.9486" stop-color="#edff00"/><stop offset="0.9625" stop-color="#fffa00"/><stop offset="0.9765" stop-color="#ffc600"/><stop offset="0.9887" stop-color="#ff9c00"/><stop offset="0.9991" stop-color="#ff9700"/></linearGradient>
<linearGradient id="g118" gradientUnits="userSpaceOnUse" x1="0" y1="42" x2="0" y2="616"><stop offset="0.0008711" stop-color="#00f2f9"/><stop offset="0.06707" stop-color="#00fdf6"/><stop offset="0.3023" stop-color="#00f57a"/><stop offset="0.412" stop-color="#00f534"/><stop offset="0.5287" stop-color="#00f511"/><stop offset="0.574" stop-color="#06f600"/><stop offset="0.6908" stop-color="#41ff00"/><stop offset="0.8389" stop-color="#80ff00"/><stop offset="0.9085" stop-color="#b2ff00"/><stop offset="0.9451" stop-color="#e3ff00"/><stop offset="0.9625" stop-color="#fffe00"/><stop offset="0.9904" stop-color="#ff9e00"/><stop offset="0.9991" stop-color="#ff9d00"/></linearGradient>
<linearGradient id="g119" gradientUnits="userSpaceOnUse" x1="0" y1="42" x2="0" y2="616"><stop offset="0.0008711" stop-color="#00f4f9"/><stop offset="0.08449" stop-color="#00feee"/><stop offset="0.3075" stop-color="#00f576"/><stop offset="0.4085" stop-color="#00f536"/><stop offset="0.5287" stop-color="#00f513"/><stop offset="0.5793" stop-color="#05f600"/><stop offset="0.7221" stop-color="#4dff00"/><stop offset="0.8441" stop-color="#84ff00"/><stop offset="0.9085" stop-color="#b4ff00"/><stop offset="0.9451" stop-color="#e5ff00"/><stop offset="0.9625" stop-color="#fffe00"/><stop offset="0.9904" stop-color="#ffa300"/><stop offset="0.9991" stop-color="#ffa200"/></linearGradient>
<linearGradient id="g120" gradientUnits="userSpaceOnUse" x1="0" y1="42" x2="0" y2="616"><stop offset="0.0008711" stop-color="#00f7f8"/><stop offset="0.07753" stop-color="#00feed"/><stop offset="0.1594" stop-color="#00fbc7"/><stop offset="0.3214" stop-color="#00f569"/><stop offset="0.4103" stop-color="#00f537"/><stop offset="0.5287" stop-color="#00f516"/><stop offset="0.5845" stop-color="#05f600"/><stop offset="0.7291" stop-color="#52ff00"/><stop offset="0.8441" stop-color="#85ff00"/><stop offset="0.9051" stop-color="#b2ff00"/><stop offset="0.9573" stop-color="#f9ff00"/><stop offset="0.9643" stop-color="#fff700"/><stop offset="0.9922" stop-color="#ffa900"/><stop offset="0.9991" stop-color="#ffa900"/></linearGradient>
<linearGradient id="g121" gradientUnits="userSpaceOnUse" x1="0" y1="42" x2="0" y2="616"><stop offset="0.0008711" stop-color="#00f0fa"/><stop offset="0.09146" stop-color="#00feed"/><stop offset="0.2831" stop-color="#00f68a"/><stop offset="0.4033" stop-color="#00f53d"/><stop offset="0.5322" stop-color="#00f515"/><stop offset="0.5862" stop-color="#06f600"/><stop offset="0.7343" stop-color="#54ff00"/><stop offset="0.8441" stop-color="#84ff00"/><stop offset="0.9051" stop-color="#b1ff00"/><stop offset="0.9538" stop-color="#f4ff00"/><stop offset="0.9625" stop-color="#fffc00"/><stop offset="0.9904" stop-color="#ffac00"/><stop offset="0.9991" stop-color="#ffab00"/></linearGradient>
<linearGradient id="g122" gradientUnits="userSpaceOnUse" x1="0" y1="42" x2="0" y2="616"><stop offset="0.0008711" stop-color="#00e3fe"/><stop offset="0.1193" stop-color="#00feee"/><stop offset="0.3284" stop-color="#00f577"/><stop offset="0.4103" stop-color="#00f540"/><stop offset="0.5409" stop-color="#00f512"/><stop offset="0.588" stop-color="#06f700"/><stop offset="0.7395" stop-color="#51ff00"/><stop offset="0.8545" stop-color="#86ff00"/><stop offset="0.9138" stop-color="#b6ff00"/><stop offset="0.9451" stop-color="#e2ff00"/><stop offset="0.9643" stop-color="#fffa00"/><stop offset="0.9904" stop-color="#ffae00"/><stop offset="0.9991" stop-color="#ffad00"/></linearGradient>
<linearGradient id="g123" gradientUnits="userSpaceOnUse" x1="0" y1="42" x2="0" y2="616"><stop offset="0.0008711" stop-color="#00d6ff"/><stop offset="0.1385" stop-color="#00feef"/><stop offset="0.3389" stop-color="#00f57b"/><stop offset="0.4103" stop-color="#00f545"/><stop offset="0.5531" stop-color="#00f50d"/><stop offset="0.5897" stop-color="#07f700"/><stop offset="0.7465" stop-color="#4fff00"/><stop offset="0.872" stop-color="#8cff00"/><stop offset="0.9242" stop-color="#bdff00"/><stop offset="0.9451" stop-color="#ddff00"/><stop offset="0.9643" stop-color="#fffd00"/><stop offset="0.9904" stop-color="#ffb000"/><stop offset="0.9991" stop-color="#ffae00"/></linearGradient>
<linearGradient id="g124" gradientUnits="userSpaceOnUse" x1="0" y1="42" x2="0" y2="616"><stop offset="0.0008711" stop-color="#00d1ff"/><stop offset="0.1385" stop-color="#00feef"/><stop offset="0.3267" stop-color="#00f585"/><stop offset="0.412" stop-color="#00f548"/><stop offset="0.5706" stop-color="#00f505"/><stop offset="0.642" stop-color="#22fe00"/><stop offset="0.8545" stop-color="#83ff00"/><stop offset="0.9155" stop-color="#b5ff00"/><stop offset="0.9451" stop-color="#e0ff00"/><stop offset="0.9643" stop-color="#fffb00"/><stop offset="0.9904" stop-color="#ffb100"/><stop offset="0.9991" stop-color="#ffb000"/></linearGradient>
<linearGradient id="g125" gradientUnits="userSpaceOnUse" x1="0" y1="42" x2="0" y2="616"><stop offset="0.0008711" stop-color="#00cdff"/><stop offset="0.135" stop-color="#00fff2"/><stop offset="0.3023" stop-color="#00f796"/><stop offset="0.4172" stop-color="#00f54a"/><stop offset="0.588" stop-color="#04f600"/><stop offset="0.7413" stop-color="#51ff00"/><stop offset="0.8545" stop-color="#85ff00"/><stop offset="0.912" stop-color="#b3ff00"/><stop offset="0.9451" stop-color="#e3ff00"/><stop offset="0.9625" stop-color="#fffe00"/><stop offset="0.9904" stop-color="#ffb200"/><stop offset="0.9991" stop-color="#ffb100"/></linearGradient>
<linearGradient id="g126" gradientUnits="userSpaceOnUse" x1="0" y1="42" x2="0" y2="616"><stop offset="0.0008711" stop-color="#00c2ff"/><stop offset="0.1019" stop-color="#00eefb"/><stop offset="0.1594" stop-color="#00feee"/><stop offset="0.2918" stop-color="#00f8a5"/><stop offset="0.4242" stop-color="#00f54b"/><stop offset="0.5897" stop-color="#05f600"/><stop offset="0.7483" stop-color="#51ff00"/><stop offset="0.865" stop-color="#88ff00"/><stop offset="0.9207" stop-color="#bbff00"/><stop offset="0.9451" stop-color="#e0ff00"/><stop offset="0.9643" stop-color="#fffa00"/><stop offset="0.9904" stop-color="#ffb400"/><stop offset="0.9991" stop-color="#ffb300"/></linearGradient>
<linearGradient id="g127" gradientUnits="userSpaceOnUse" x1="0" y1="42" x2="0" y2="616"><stop offset="0.0008711" stop-color="#00b2ff"/><stop offset="0.08449" stop-color="#00deff"/><stop offset="0.1821" stop-color="#00feef"/><stop offset="0.2692" stop-color="#00fabf"/><stop offset="0.3929" stop-color="#00f564"/><stop offset="0.5915" stop-color="#04f600"/><stop offset="0.7517" stop-color="#4dff00"/><stop offset="0.8789" stop-color="#8dff00"/><stop offset="0.9294" stop-color="#c0ff00"/><stop offset="0.9451" stop-color="#dbff00"/><stop offset="0.9643" stop-color="#fffc00"/><stop offset="0.9887" stop-color="#ffb900"/><stop offset="0.9991" stop-color="#ffb400"/></linearGradient>
<linearGradient id="g128" gradientUnits="userSpaceOnUse" x1="0" y1="42" x2="0" y2="616"><stop offset="0.0008711" stop-color="#00a9ff"/><stop offset="0.07927" stop-color="#00d4ff"/><stop offset="0.1995" stop-color="#00feef"/><stop offset="0.2692" stop-color="#00fbc9"/><stop offset="0.4382" stop-color="#00f54f"/><stop offset="0.5967" stop-color="#05f600"/><stop offset="0.7657" stop-color="#4fff00"/><stop offset="0.8876" stop-color="#92ff00"/><stop offset="0.9347" stop-color="#c4ff00"/><stop offset="0.9643" stop-color="#fffd00"/><stop offset="0.9869" stop-color="#ffbb00"/><stop offset="0.9974" stop-color="#ffb200"/><stop offset="0.9991" stop-color="#ffb200"/></linearGradient>
<linearGradient id="g129" gradientUnits="userSpaceOnUse" x1="0" y1="42" x2="0" y2="616"><stop offset="0.0008711" stop-color="#00a8ff"/><stop offset="0.07578" stop-color="#00d2ff"/><stop offset="0.203" stop-color="#00fff0"/><stop offset="0.2674" stop-color="#00fbcd"/><stop offset="0.4486" stop-color="#00f550"/><stop offset="0.6019" stop-color="#05f600"/><stop offset="0.7709" stop-color="#52ff00"/><stop offset="0.8841" stop-color="#90ff00"/><stop offset="0.9312" stop-color="#c2ff00"/><stop offset="0.9451" stop-color="#dbff00"/><stop offset="0.9625" stop-color="#ffff00"/><stop offset="0.9817" stop-color="#ffc500"/><stop offset="0.9939" stop-color="#ffb000"/><stop offset="0.9991" stop-color="#ffb000"/></linearGradient>
<linearGradient id="g130" gradientUnits="userSpaceOnUse" x1="0" y1="42" x2="0" y2="616"><stop offset="0.0008711" stop-color="#00a8ff"/><stop offset="0.0723" stop-color="#00d1ff"/><stop offset="0.2064" stop-color="#00fff0"/><stop offset="0.2674" stop-color="#00fccf"/><stop offset="0.4625" stop-color="#00f54f"/><stop offset="0.6071" stop-color="#04f600"/><stop offset="0.7674" stop-color="#51ff00"/><stop offset="0.8754" stop-color="#8aff00"/><stop offset="0.926" stop-color="#beff00"/><stop offset="0.9434" stop-color="#d9ff00"/><stop offset="0.9625" stop-color="#fffc00"/><stop offset="0.98" stop-color="#ffc700"/><stop offset="0.9922" stop-color="#ffaf00"/><stop offset="0.9991" stop-color="#ffaf00"/></linearGradient>
<linearGradient id="g131" gradientUnits="userSpaceOnUse" x1="0" y1="42" x2="0" y2="616"><stop offset="0.0008711" stop-color="#009bff"/><stop offset="0.07753" stop-color="#00c7ff"/><stop offset="0.2291" stop-color="#00fff3"/><stop offset="0.2761" stop-color="#00fcd5"/><stop offset="0.4625" stop-color="#00f556"/><stop offset="0.6106" stop-color="#03f600"/><stop offset="0.7726" stop-color="#4dff00"/><stop offset="0.8859" stop-color="#8fff00"/><stop offset="0.9329" stop-color="#c2ff00"/><stop offset="0.9451" stop-color="#daff00"/><stop offset="0.9625" stop-color="#fffe00"/><stop offset="0.9782" stop-color="#ffca00"/><stop offset="0.9922" stop-color="#ffad00"/><stop offset="0.9991" stop-color="#ffad00"/></linearGradient>
<linearGradient id="g132" gradientUnits="userSpaceOnUse" x1="0" y1="42" x2="0" y2="616"><stop offset="0.0008711" stop-color="#008fff"/><stop offset="0.1246" stop-color="#00ceff"/><stop offset="0.2587" stop-color="#00fff1"/><stop offset="0.4207" stop-color="#00f577"/><stop offset="0.6141" stop-color="#01f500"/><stop offset="0.7848" stop-color="#4bff00"/><stop offset="0.8946" stop-color="#93ff00"/><stop offset="0.9382" stop-color="#c3ff00"/><stop offset="0.9625" stop-color="#feff00"/><stop offset="0.98" stop-color="#ffc500"/><stop offset="0.9922" stop-color="#ffac00"/><stop offset="0.9991" stop-color="#ffab00"/></linearGradient>
<linearGradient id="g133" gradientUnits="userSpaceOnUse" x1="0" y1="42" x2="0" y2="616"><stop offset="0.0008711" stop-color="#008aff"/><stop offset="0.1681" stop-color="#00d7ff"/><stop offset="0.2622" stop-color="#00fdf6"/><stop offset="0.4294" stop-color="#00f579"/><stop offset="0.6159" stop-color="#00f501"/><stop offset="0.797" stop-color="#4bff00"/><stop offset="0.9016" stop-color="#97ff00"/><stop offset="0.9399" stop-color="#c3ff00"/><stop offset="0.9591" stop-color="#f7ff00"/><stop offset="0.9643" stop-color="#fff900"/><stop offset="0.9782" stop-color="#ffc800"/><stop offset="0.9922" stop-color="#ffaa00"/><stop offset="0.9991" stop-color="#ffaa00"/></linearGradient>
<linearGradient id="g134" gradientUnits="userSpaceOnUse" x1="0" y1="42" x2="0" y2="616"><stop offset="0.0008711" stop-color="#0087ff"/><stop offset="0.1768" stop-color="#00d6ff"/><stop offset="0.2639" stop-color="#00faf7"/><stop offset="0.3197" stop-color="#00fbcd"/><stop offset="0.4294" stop-color="#00f582"/><stop offset="0.5706" stop-color="#00f520"/><stop offset="0.6211" stop-color="#00f502"/><stop offset="0.811" stop-color="#51ff00"/><stop offset="0.9033" stop-color="#96ff00"/><stop offset="0.9399" stop-color="#c0ff00"/><stop offset="0.9591" stop-color="#f4ff00"/><stop offset="0.966" stop-color="#fff800"/><stop offset="0.9852" stop-color="#ffbd00"/><stop offset="0.9939" stop-color="#ffaf00"/><stop offset="0.9991" stop-color="#ffaf00"/></linearGradient>
<linearGradient id="g135" gradientUnits="userSpaceOnUse" x1="0" y1="42" x2="0" y2="616"><stop offset="0.0008711" stop-color="#0083ff"/><stop offset="0.1838" stop-color="#00d6ff"/><stop offset="0.2657" stop-color="#00f8f7"/><stop offset="0.2936" stop-color="#00fee7"/><stop offset="0.419" stop-color="#00f68f"/><stop offset="0.5131" stop-color="#00f553"/><stop offset="0.6124" stop-color="#00f50a"/><stop offset="0.6559" stop-color="#08f700"/><stop offset="0.811" stop-color="#4bff00"/><stop offset="0.9033" stop-color="#92ff00"/><stop offset="0.9399" stop-color="#bbff00"/><stop offset="0.9625" stop-color="#f5ff00"/><stop offset="0.9695" stop-color="#fff800"/><stop offset="0.9904" stop-color="#ffba00"/><stop offset="0.9991" stop-color="#ffb900"/></linearGradient>
<linearGradient id="g136" gradientUnits="userSpaceOnUse" x1="0" y1="42" x2="0" y2="616"><stop offset="0.0008711" stop-color="#007fff"/><stop offset="0.1908" stop-color="#00d5ff"/><stop offset="0.2692" stop-color="#00f7f8"/><stop offset="0.2953" stop-color="#00feea"/><stop offset="0.4172" stop-color="#00f798"/><stop offset="0.5096" stop-color="#00f560"/><stop offset="0.6106" stop-color="#00f50e"/><stop offset="0.6664" stop-color="#06f700"/><stop offset="0.811" stop-color="#45ff00"/><stop offset="0.9033" stop-color="#8eff00"/><stop offset="0.9416" stop-color="#baff00"/><stop offset="0.9643" stop-color="#f2ff00"/><stop offset="0.973" stop-color="#fffb00"/><stop offset="0.9922" stop-color="#ffc400"/><stop offset="0.9991" stop-color="#ffc400"/></linearGradient>
<linearGradient id="g137" gradientUnits="userSpaceOnUse" x1="0" y1="42" x2="0" y2="616"><stop offset="0.0008711" stop-color="#007aff"/><stop offset="0.2117" stop-color="#00d8ff"/><stop offset="0.2779" stop-color="#00f8f7"/><stop offset="0.3092" stop-color="#00fee6"/><stop offset="0.426" stop-color="#00f79c"/><stop offset="0.5078" stop-color="#00f56c"/><stop offset="0.6054" stop-color="#00f514"/><stop offset="0.6786" stop-color="#06f700"/><stop offset="0.811" stop-color="#3eff00"/><stop offset="0.9051" stop-color="#8bff00"/><stop offset="0.9416" stop-color="#b4ff00"/><stop offset="0.9678" stop-color="#f1ff00"/><stop offset="0.9782" stop-color="#fff800"/><stop offset="0.9922" stop-color="#ffce00"/><stop offset="0.9991" stop-color="#ffce00"/></linearGradient>
<linearGradient id="g138" gradientUnits="userSpaceOnUse" x1="0" y1="42" x2="0" y2="616"><stop offset="0.0008711" stop-color="#0074ff"/><stop offset="0.2308" stop-color="#00daff"/><stop offset="0.3057" stop-color="#00feef"/><stop offset="0.4294" stop-color="#00f8a2"/><stop offset="0.5078" stop-color="#00f575"/><stop offset="0.6002" stop-color="#00f51a"/><stop offset="0.6908" stop-color="#06f600"/><stop offset="0.811" stop-color="#36ff00"/><stop offset="0.9068" stop-color="#87ff00"/><stop offset="0.9434" stop-color="#b2ff00"/><stop offset="0.973" stop-color="#f2ff00"/><stop offset="0.9817" stop-color="#fffa00"/><stop offset="0.9922" stop-color="#ffdb00"/><stop offset="0.9991" stop-color="#ffdb00"/></linearGradient>
<linearGradient id="g139" gradientUnits="userSpaceOnUse" x1="0" y1="42" x2="0" y2="616"><stop offset="0.0008711" stop-color="#006fff"/><stop offset="0.2779" stop-color="#00edfb"/><stop offset="0.3162" stop-color="#00feef"/><stop offset="0.4486" stop-color="#00f8a1"/><stop offset="0.5096" stop-color="#00f57d"/><stop offset="0.5949" stop-color="#00f523"/><stop offset="0.7064" stop-color="#06f600"/><stop offset="0.811" stop-color="#2fff00"/><stop offset="0.9085" stop-color="#84ff00"/><stop offset="0.9469" stop-color="#b3ff00"/><stop offset="0.9834" stop-color="#feff00"/><stop offset="0.9922" stop-color="#ffe700"/><stop offset="0.9991" stop-color="#ffe700"/></linearGradient>
<linearGradient id="g140" gradientUnits="userSpaceOnUse" x1="0" y1="42" x2="0" y2="616"><stop offset="0.0008711" stop-color="#006aff"/><stop offset="0.08798" stop-color="#008fff"/><stop offset="0.2848" stop-color="#00ecfb"/><stop offset="0.3284" stop-color="#00feef"/><stop offset="0.4869" stop-color="#00f796"/><stop offset="0.5235" stop-color="#00f575"/><stop offset="0.6019" stop-color="#00f521"/><stop offset="0.7256" stop-color="#05f600"/><stop offset="0.8092" stop-color="#26fe00"/><stop offset="0.9103" stop-color="#81ff00"/><stop offset="0.9521" stop-color="#b6ff00"/><stop offset="0.9887" stop-color="#fffc00"/><stop offset="0.9974" stop-color="#fff400"/><stop offset="0.9991" stop-color="#fff400"/></linearGradient>
<linearGradient id="g141" gradientUnits="userSpaceOnUse" x1="0" y1="42" x2="0" y2="616"><stop offset="0.0008711" stop-color="#0064ff"/><stop offset="0.09321" stop-color="#008cff"/><stop offset="0.2831" stop-color="#00e4fe"/><stop offset="0.3423" stop-color="#00feef"/><stop offset="0.5131" stop-color="#00f689"/><stop offset="0.6002" stop-color="#00f52a"/><stop offset="0.7343" stop-color="#00f500"/><stop offset="0.8075" stop-color="#17fb00"/><stop offset="0.912" stop-color="#79ff00"/><stop offset="0.9573" stop-color="#afff00"/><stop offset="0.9904" stop-color="#f7ff00"/><stop offset="0.9991" stop-color="#f8ff00"/></linearGradient>
<linearGradient id="g142" gradientUnits="userSpaceOnUse" x1="0" y1="42" x2="0" y2="616"><stop offset="0.0008711" stop-color="#005fff"/><stop offset="0.1037" stop-color="#008aff"/><stop offset="0.2866" stop-color="#00dfff"/><stop offset="0.358" stop-color="#00fff0"/><stop offset="0.5148" stop-color="#00f68f"/><stop offset="0.6037" stop-color="#00f532"/><stop offset="0.7204" stop-color="#00f508"/><stop offset="0.804" stop-color="#05f600"/><stop offset="0.8894" stop-color="#57ff00"/><stop offset="0.9538" stop-color="#9cff00"/><stop offset="0.9765" stop-color="#c8ff00"/><stop offset="0.9922" stop-color="#eaff00"/><stop offset="0.9991" stop-color="#eaff00"/></linearGradient>
<linearGradient id="g143" gradientUnits="userSpaceOnUse" x1="0" y1="42" x2="0" y2="616"><stop offset="0.0008711" stop-color="#0059ff"/><stop offset="0.1176" stop-color="#008aff"/><stop offset="0.3005" stop-color="#00deff"/><stop offset="0.3772" stop-color="#00fff0"/><stop offset="0.5183" stop-color="#00f693"/><stop offset="0.6054" stop-color="#00f53b"/><stop offset="0.7134" stop-color="#00f50d"/><stop offset="0.8092" stop-color="#00f503"/><stop offset="0.8894" stop-color="#49ff00"/><stop offset="0.9538" stop-color="#8fff00"/><stop offset="0.98" stop-color="#bdff00"/><stop offset="0.9922" stop-color="#d7ff00"/><stop offset="0.9991" stop-color="#d7ff00"/></linearGradient>
<linearGradient id="g144" gradientUnits="userSpaceOnUse" x1="0" y1="42" x2="0" y2="616"><stop offset="0.0008711" stop-color="#0052fe"/><stop offset="0.1141" stop-color="#0084ff"/><stop offset="0.2343" stop-color="#00b3ff"/><stop offset="0.3754" stop-color="#00f9f7"/><stop offset="0.4242" stop-color="#00fddd"/><stop offset="0.5322" stop-color="#00f68d"/><stop offset="0.6089" stop-color="#00f542"/><stop offset="0.7099" stop-color="#00f512"/><stop offset="0.8075" stop-color="#00f50e"/><stop offset="0.8371" stop-color="#07f700"/><stop offset="0.9294" stop-color="#65ff00"/><stop offset="0.9643" stop-color="#93ff00"/><stop offset="0.9939" stop-color="#c1ff00"/><stop offset="0.9991" stop-color="#c1ff00"/></linearGradient>
<linearGradient id="g145" gradientUnits="userSpaceOnUse" x1="0" y1="42" x2="0" y2="616"><stop offset="0.0008711" stop-color="#004bfd"/><stop offset="0.1089" stop-color="#007dff"/><stop offset="0.2326" stop-color="#00a9ff"/><stop offset="0.3929" stop-color="#00f7f8"/><stop offset="0.426" stop-color="#00fee7"/><stop offset="0.5566" stop-color="#00f57f"/><stop offset="0.6124" stop-color="#00f549"/><stop offset="0.7082" stop-color="#00f517"/><stop offset="0.8075" stop-color="#00f518"/><stop offset="0.851" stop-color="#05f600"/><stop offset="0.9329" stop-color="#5cff00"/><stop offset="0.9939" stop-color="#abff00"/><stop offset="0.9991" stop-color="#abff00"/></linearGradient>
<linearGradient id="g146" gradientUnits="userSpaceOnUse" x1="0" y1="42" x2="0" y2="616"><stop offset="0.0008711" stop-color="#0044fd"/><stop offset="0.1054" stop-color="#0077ff"/><stop offset="0.2465" stop-color="#00a6ff"/><stop offset="0.4085" stop-color="#00f6f8"/><stop offset="0.4347" stop-color="#00feea"/><stop offset="0.588" stop-color="#00f569"/><stop offset="0.6716" stop-color="#00f52c"/><stop offset="0.7082" stop-color="#00f51b"/><stop offset="0.8075" stop-color="#00f522"/><stop offset="0.8667" stop-color="#05f600"/><stop offset="0.9416" stop-color="#56ff00"/><stop offset="0.9852" stop-color="#96ff00"/><stop offset="0.9991" stop-color="#9cff00"/></linearGradient>
<linearGradient id="g147" gradientUnits="userSpaceOnUse" x1="0" y1="42" x2="0" y2="616"><stop offset="0.0008711" stop-color="#003dfc"/><stop offset="0.1037" stop-color="#0071ff"/><stop offset="0.2552" stop-color="#00a2ff"/><stop offset="0.4172" stop-color="#00f3f9"/><stop offset="0.4434" stop-color="#00feed"/><stop offset="0.6611" stop-color="#00f539"/><stop offset="0.7064" stop-color="#00f520"/><stop offset="0.8057" stop-color="#00f52c"/><stop offset="0.8807" stop-color="#05f600"/><stop offset="0.9451" stop-color="#4dff00"/><stop offset="0.9782" stop-color="#81ff00"/><stop offset="0.9991" stop-color="#8eff00"/></linearGradient>
<linearGradient id="g148" gradientUnits="userSpaceOnUse" x1="0" y1="42" x2="0" y2="616"><stop offset="0.0008711" stop-color="#0036fb"/><stop offset="0.1333" stop-color="#0075ff"/><stop offset="0.2605" stop-color="#009eff"/><stop offset="0.419" stop-color="#00eefb"/><stop offset="0.4503" stop-color="#00feee"/><stop offset="0.6733" stop-color="#00f538"/><stop offset="0.7082" stop-color="#00f526"/><stop offset="0.8075" stop-color="#00f52f"/><stop offset="0.8894" stop-color="#03f600"/><stop offset="0.9469" stop-color="#48ff00"/><stop offset="0.9782" stop-color="#77ff00"/><stop offset="0.9991" stop-color="#82ff00"/></linearGradient>
<linearGradient id="g149" gradientUnits="userSpaceOnUse" x1="0" y1="42" x2="0" y2="616"><stop offset="0.0008711" stop-color="#002ffa"/><stop offset="0.1455" stop-color="#0073ff"/><stop offset="0.2744" stop-color="#009fff"/><stop offset="0.4155" stop-color="#00e6fd"/><stop offset="0.4573" stop-color="#00feef"/><stop offset="0.6838" stop-color="#00f537"/><stop offset="0.7117" stop-color="#00f52d"/><stop offset="0.8092" stop-color="#00f531"/><stop offset="0.8998" stop-color="#05f600"/><stop offset="0.9503" stop-color="#46ff00"/><stop offset="0.9782" stop-color="#6dff00"/><stop offset="0.9991" stop-color="#77ff00"/></linearGradient>
<linearGradient id="g150" gradientUnits="userSpaceOnUse" x1="0" y1="42" x2="0" y2="616"><stop offset="0.0008711" stop-color="#0029fa"/><stop offset="0.1577" stop-color="#0070ff"/><stop offset="0.2936" stop-color="#00a2ff"/><stop offset="0.4138" stop-color="#00deff"/><stop offset="0.466" stop-color="#00feef"/><stop offset="0.696" stop-color="#00f536"/><stop offset="0.811" stop-color="#00f534"/><stop offset="0.8894" stop-color="#00f50c"/><stop offset="0.9085" stop-color="#06f700"/><stop offset="0.9625" stop-color="#51ff00"/><stop offset="0.9922" stop-color="#6bff00"/><stop offset="0.9991" stop-color="#6bff00"/></linearGradient>
<linearGradient id="g151" gradientUnits="userSpaceOnUse" x1="0" y1="42" x2="0" y2="616"><stop offset="0.0008711" stop-color="#0023f9"/><stop offset="0.1699" stop-color="#006fff"/><stop offset="0.3145" stop-color="#00a5ff"/><stop offset="0.4138" stop-color="#00d7ff"/><stop offset="0.473" stop-color="#00fff1"/><stop offset="0.7012" stop-color="#00f539"/><stop offset="0.8145" stop-color="#00f537"/><stop offset="0.8859" stop-color="#00f517"/><stop offset="0.9155" stop-color="#06f600"/><stop offset="0.9782" stop-color="#57ff00"/><stop offset="0.9991" stop-color="#60ff00"/></linearGradient>
<linearGradient id="g152" gradientUnits="userSpaceOnUse" x1="0" y1="42" x2="0" y2="616"><stop offset="0.0008711" stop-color="#001cf8"/><stop offset="0.09146" stop-color="#0045fd"/><stop offset="0.2152" stop-color="#007aff"/><stop offset="0.3406" stop-color="#00aaff"/><stop offset="0.4155" stop-color="#00d2ff"/><stop offset="0.4817" stop-color="#00fff1"/><stop offset="0.7012" stop-color="#00f540"/><stop offset="0.8197" stop-color="#00f539"/><stop offset="0.8841" stop-color="#00f520"/><stop offset="0.9225" stop-color="#06f600"/><stop offset="0.9817" stop-color="#4cff00"/><stop offset="0.9991" stop-color="#53ff00"/></linearGradient>
<linearGradient id="g153" gradientUnits="userSpaceOnUse" x1="0" y1="42" x2="0" y2="616"><stop offset="0.0008711" stop-color="#0016f7"/><stop offset="0.08101" stop-color="#0037fb"/><stop offset="0.2047" stop-color="#0071ff"/><stop offset="0.358" stop-color="#00abff"/><stop offset="0.4207" stop-color="#00cfff"/><stop offset="0.4922" stop-color="#00fff0"/><stop offset="0.6176" stop-color="#00f689"/><stop offset="0.7047" stop-color="#00f547"/><stop offset="0.8319" stop-color="#00f53a"/><stop offset="0.8824" stop-color="#00f529"/><stop offset="0.9277" stop-color="#04f600"/><stop offset="0.98" stop-color="#3cff00"/><stop offset="0.9991" stop-color="#43ff00"/></linearGradient>
<linearGradient id="g154" gradientUnits="userSpaceOnUse" x1="0" y1="42" x2="0" y2="616"><stop offset="0.0008711" stop-color="#0016f7"/><stop offset="0.08101" stop-color="#0037fb"/><stop offset="0.2047" stop-color="#0071ff"/><stop offset="0.358" stop-color="#00abff"/><stop offset="0.4207" stop-color="#00cfff"/><stop offset="0.4922" stop-color="#00fff0"/><stop offset="0.6176" stop-color="#00f689"/><stop offset="0.7047" stop-color="#00f547"/><stop offset="0.8319" stop-color="#00f53a"/><stop offset="0.8824" stop-color="#00f529"/><stop offset="0.9277" stop-color="#04f600"/><stop offset="0.98" stop-color="#3cff00"/><stop offset="0.9991" stop-color="#43ff00"/></linearGradient>
<linearGradient id="g155" gradientUnits="userSpaceOnUse" x1="0" y1="42" x2="0" y2="616"><stop offset="0.0008711" stop-color="#0016f7"/><stop offset="0.08101" stop-color="#0037fb"/><stop offset="0.2047" stop-color="#0071ff"/><stop offset="0.358" stop-color="#00abff"/><stop offset="0.4207" stop-color="#00cfff"/><stop offset="0.4922" stop-color="#00fff0"/><stop offset="0.6176" stop-color="#00f689"/><stop offset="0.7047" stop-color="#00f547"/><stop offset="0.8319" stop-color="#00f53a"/><stop offset="0.8824" stop-color="#00f529"/><stop offset="0.9277" stop-color="#04f600"/><stop offset="0.98" stop-color="#3cff00"/><stop offset="0.9991" stop-color="#43ff00"/></linearGradient>
<linearGradient id="g156" gradientUnits="userSpaceOnUse" x1="0" y1="42" x2="0" y2="616"><stop offset="0.0008711" stop-color="#0016f7"/><stop offset="0.08101" stop-color="#0037fb"/><stop offset="0.2047" stop-color="#0071ff"/><stop offset="0.358" stop-color="#00abff"/><stop offset="0.4207" stop-color="#00cfff"/><stop offset="0.4922" stop-color="#00fff0"/><stop offset="0.6176" stop-color="#00f689"/><stop offset="0.7047" stop-color="#00f547"/><stop offset="0.8319" stop-color="#00f53a"/><stop offset="0.8824" stop-color="#00f529"/><stop offset="0.9277" stop-color="#04f600"/><stop offset="0.98" stop-color="#3cff00"/><stop offset="0.9991" stop-color="#43ff00"/></linearGradient>
<linearGradient id="g157" gradientUnits="userSpaceOnUse" x1="0" y1="42" x2="0" y2="616"><stop offset="0.0008711" stop-color="#0016f7"/><stop offset="0.08101" stop-color="#0037fb"/><stop offset="0.2047" stop-color="#0071ff"/><stop offset="0.358" stop-color="#00abff"/><stop offset="0.4207" stop-color="#00cfff"/><stop offset="0.4922" stop-color="#00fff0"/><stop offset="0.6176" stop-color="#00f689"/><stop offset="0.7047" stop-color="#00f547"/><stop offset="0.8319" stop-color="#00f53a"/><stop offset="0.8824" stop-color="#00f529"/><stop offset="0.9277" stop-color="#04f600"/><stop offset="0.98" stop-color="#3cff00"/><stop offset="0.9991" stop-color="#43ff00"/></linearGradient>
<linearGradient id="sC" gradientUnits="userSpaceOnUse" x1="0" y1="42" x2="0" y2="616"><stop offset="0.0008711" stop-color="#2d00e1"/><stop offset="0.0392" stop-color="#2800e6"/><stop offset="0.04094" stop-color="#0a00fa"/><stop offset="0.1176" stop-color="#0a00fa"/><stop offset="0.1193" stop-color="#001eff"/><stop offset="0.1611" stop-color="#001eff"/><stop offset="0.1629" stop-color="#003cff"/><stop offset="0.2047" stop-color="#003cff"/><stop offset="0.2064" stop-color="#0050ff"/><stop offset="0.2483" stop-color="#0050ff"/><stop offset="0.25" stop-color="#0064ff"/><stop offset="0.2988" stop-color="#0064ff"/><stop offset="0.3005" stop-color="#0078ff"/><stop offset="0.358" stop-color="#0078ff"/><stop offset="0.3598" stop-color="#008cff"/><stop offset="0.3998" stop-color="#008cff"/><stop offset="0.4016" stop-color="#00a0ff"/><stop offset="0.4503" stop-color="#00a0ff"/><stop offset="0.4521" stop-color="#00b4ff"/><stop offset="0.5026" stop-color="#00d2ff"/><stop offset="0.5497" stop-color="#00f0ff"/><stop offset="0.5984" stop-color="#00ffe6"/><stop offset="0.6768" stop-color="#00ffb4"/><stop offset="0.75" stop-color="#00ff82"/><stop offset="0.8249" stop-color="#00ff50"/><stop offset="0.8998" stop-color="#00ff28"/><stop offset="0.973" stop-color="#00ff14"/><stop offset="0.9991" stop-color="#00f000"/></linearGradient>
<linearGradient id="sA" gradientUnits="userSpaceOnUse" x1="0" y1="42" x2="0" y2="617"><stop offset="0.0008696" stop-color="#00fa8c"/><stop offset="0.04261" stop-color="#00fa82"/><stop offset="0.06" stop-color="#00f55f"/><stop offset="0.0913" stop-color="#00f55f"/><stop offset="0.1052" stop-color="#00fa8c"/><stop offset="0.1191" stop-color="#00ffbe"/><stop offset="0.133" stop-color="#00ffe1"/><stop offset="0.1609" stop-color="#00ffeb"/><stop offset="0.1852" stop-color="#00ffc8"/><stop offset="0.2148" stop-color="#00ffa0"/><stop offset="0.2583" stop-color="#00ff6e"/><stop offset="0.3191" stop-color="#00ff41"/><stop offset="0.3887" stop-color="#00ff1e"/><stop offset="0.4583" stop-color="#00f500"/><stop offset="0.5104" stop-color="#28ff00"/><stop offset="0.5626" stop-color="#5aff00"/><stop offset="0.6235" stop-color="#96ff00"/><stop offset="0.6843" stop-color="#beff00"/><stop offset="0.7452" stop-color="#a5ff00"/><stop offset="0.8148" stop-color="#c8ff00"/><stop offset="0.8843" stop-color="#f0ff00"/><stop offset="0.9452" stop-color="#ffeb00"/><stop offset="0.9852" stop-color="#fff500"/><stop offset="0.9991" stop-color="#fff500"/></linearGradient>
<linearGradient id="sB" gradientUnits="userSpaceOnUse" x1="0" y1="56" x2="0" y2="617"><stop offset="0.0008913" stop-color="#5000c3"/><stop offset="0.06684" stop-color="#4800cb"/><stop offset="0.06863" stop-color="#2d00e4"/><stop offset="0.1043" stop-color="#2800e8"/><stop offset="0.1061" stop-color="#1400f5"/><stop offset="0.1399" stop-color="#0f00f8"/><stop offset="0.1417" stop-color="#001eff"/><stop offset="0.1845" stop-color="#0023ff"/><stop offset="0.1863" stop-color="#003cff"/><stop offset="0.2291" stop-color="#0041ff"/><stop offset="0.2308" stop-color="#005aff"/><stop offset="0.2807" stop-color="#005fff"/><stop offset="0.2825" stop-color="#006eff"/><stop offset="0.3324" stop-color="#0073ff"/><stop offset="0.3342" stop-color="#008cff"/><stop offset="0.3841" stop-color="#0091ff"/><stop offset="0.3859" stop-color="#00aaff"/><stop offset="0.4358" stop-color="#00afff"/><stop offset="0.4376" stop-color="#00c8ff"/><stop offset="0.4893" stop-color="#00dcff"/><stop offset="0.5428" stop-color="#00f5ff"/><stop offset="0.5963" stop-color="#00ffdc"/><stop offset="0.6497" stop-color="#00ffb4"/><stop offset="0.7389" stop-color="#00ff78"/><stop offset="0.828" stop-color="#00ff46"/><stop offset="0.9171" stop-color="#00ff28"/><stop offset="0.9706" stop-color="#1eff00"/><stop offset="0.9991" stop-color="#2dff00"/></linearGradient>
<linearGradient id="cb" gradientUnits="userSpaceOnUse" x1="0" y1="399" x2="0" y2="59"><stop offset="0" stop-color="#5500c3"/><stop offset="0.026" stop-color="#4100d2"/><stop offset="0.07" stop-color="#1900e6"/><stop offset="0.114" stop-color="#0000f5"/><stop offset="0.158" stop-color="#002dfa"/><stop offset="0.199" stop-color="#005aff"/><stop offset="0.261" stop-color="#0091ff"/><stop offset="0.29" stop-color="#00beff"/><stop offset="0.32" stop-color="#00e1ff"/><stop offset="0.35" stop-color="#00fff5"/><stop offset="0.4" stop-color="#00fabe"/><stop offset="0.466" stop-color="#00f582"/><stop offset="0.51" stop-color="#00f550"/><stop offset="0.554" stop-color="#00f528"/><stop offset="0.598" stop-color="#00f500"/><stop offset="0.628" stop-color="#28ff00"/><stop offset="0.67" stop-color="#5aff00"/><stop offset="0.716" stop-color="#82ff00"/><stop offset="0.76" stop-color="#aaff00"/><stop offset="0.804" stop-color="#e6ff00"/><stop offset="0.833" stop-color="#ffff00"/><stop offset="0.862" stop-color="#ffcd00"/><stop offset="0.891" stop-color="#ffa500"/><stop offset="0.935" stop-color="#ff8200"/><stop offset="1" stop-color="#ff5f00"/></linearGradient>
</defs>
<rect x="0" y="0" width="1500" height="700" fill="#fff"/>
<g shape-rendering="crispEdges">
<rect x="166" y="42" width="8" height="574" fill="url(#g0)"/>
<rect x="174" y="42" width="8" height="574" fill="url(#g1)"/>
<rect x="182" y="42" width="8" height="574" fill="url(#g2)"/>
<rect x="190" y="42" width="8" height="574" fill="url(#g3)"/>
<rect x="198" y="42" width="8" height="574" fill="url(#g4)"/>
<rect x="206" y="42" width="8" height="574" fill="url(#g5)"/>
<rect x="214" y="42" width="8" height="574" fill="url(#g6)"/>
<rect x="222" y="42" width="8" height="574" fill="url(#g7)"/>
<rect x="230" y="42" width="8" height="574" fill="url(#g8)"/>
<rect x="238" y="42" width="8" height="574" fill="url(#g9)"/>
<rect x="246" y="42" width="8" height="574" fill="url(#g10)"/>
<rect x="254" y="42" width="8" height="574" fill="url(#g11)"/>
<rect x="262" y="42" width="8" height="574" fill="url(#g12)"/>
<rect x="270" y="42" width="8" height="574" fill="url(#g13)"/>
<rect x="278" y="42" width="8" height="574" fill="url(#g14)"/>
<rect x="286" y="42" width="8" height="574" fill="url(#g15)"/>
<rect x="294" y="42" width="8" height="574" fill="url(#g16)"/>
<rect x="302" y="42" width="8" height="574" fill="url(#g17)"/>
<rect x="310" y="42" width="8" height="574" fill="url(#g18)"/>
<rect x="318" y="42" width="8" height="574" fill="url(#g19)"/>
<rect x="326" y="42" width="8" height="574" fill="url(#g20)"/>
<rect x="334" y="42" width="8" height="574" fill="url(#g21)"/>
<rect x="342" y="42" width="8" height="574" fill="url(#g22)"/>
<rect x="350" y="42" width="8" height="574" fill="url(#g23)"/>
<rect x="358" y="42" width="8" height="574" fill="url(#g24)"/>
<rect x="366" y="42" width="8" height="574" fill="url(#g25)"/>
<rect x="374" y="42" width="8" height="574" fill="url(#g26)"/>
<rect x="382" y="42" width="8" height="574" fill="url(#g27)"/>
<rect x="390" y="42" width="8" height="574" fill="url(#g28)"/>
<rect x="398" y="42" width="8" height="574" fill="url(#g29)"/>
<rect x="406" y="42" width="8" height="574" fill="url(#g30)"/>
<rect x="414" y="42" width="8" height="574" fill="url(#g31)"/>
<rect x="422" y="42" width="8" height="574" fill="url(#g32)"/>
<rect x="430" y="42" width="8" height="574" fill="url(#g33)"/>
<rect x="438" y="42" width="8" height="574" fill="url(#g34)"/>
<rect x="446" y="42" width="8" height="574" fill="url(#g35)"/>
<rect x="454" y="42" width="8" height="574" fill="url(#g36)"/>
<rect x="462" y="42" width="8" height="574" fill="url(#g37)"/>
<rect x="470" y="42" width="8" height="574" fill="url(#g38)"/>
<rect x="478" y="42" width="8" height="574" fill="url(#g39)"/>
<rect x="486" y="42" width="8" height="574" fill="url(#g40)"/>
<rect x="494" y="42" width="8" height="574" fill="url(#g41)"/>
<rect x="502" y="42" width="8" height="574" fill="url(#g42)"/>
<rect x="510" y="42" width="8" height="574" fill="url(#g43)"/>
<rect x="518" y="42" width="8" height="574" fill="url(#g44)"/>
<rect x="526" y="42" width="8" height="574" fill="url(#g45)"/>
<rect x="534" y="42" width="8" height="574" fill="url(#g46)"/>
<rect x="542" y="42" width="8" height="574" fill="url(#g47)"/>
<rect x="550" y="42" width="8" height="574" fill="url(#g48)"/>
<rect x="558" y="42" width="8" height="574" fill="url(#g49)"/>
<rect x="566" y="42" width="8" height="574" fill="url(#g50)"/>
<rect x="574" y="42" width="8" height="574" fill="url(#g51)"/>
<rect x="582" y="42" width="8" height="574" fill="url(#g52)"/>
<rect x="590" y="42" width="8" height="574" fill="url(#g53)"/>
<rect x="598" y="42" width="8" height="574" fill="url(#g54)"/>
<rect x="606" y="42" width="8" height="574" fill="url(#g55)"/>
<rect x="614" y="42" width="8" height="574" fill="url(#g56)"/>
<rect x="622" y="42" width="8" height="574" fill="url(#g57)"/>
<rect x="630" y="42" width="8" height="574" fill="url(#g58)"/>
<rect x="638" y="42" width="8" height="574" fill="url(#g59)"/>
<rect x="646" y="42" width="8" height="574" fill="url(#g60)"/>
<rect x="654" y="42" width="8" height="574" fill="url(#g61)"/>
<rect x="662" y="42" width="8" height="574" fill="url(#g62)"/>
<rect x="670" y="42" width="8" height="574" fill="url(#g63)"/>
<rect x="678" y="42" width="8" height="574" fill="url(#g64)"/>
<rect x="686" y="42" width="8" height="574" fill="url(#g65)"/>
<rect x="694" y="42" width="8" height="574" fill="url(#g66)"/>
<rect x="702" y="42" width="8" height="574" fill="url(#g67)"/>
<rect x="710" y="42" width="8" height="574" fill="url(#g68)"/>
<rect x="718" y="42" width="8" height="574" fill="url(#g69)"/>
<rect x="726" y="42" width="8" height="574" fill="url(#g70)"/>
<rect x="734" y="42" width="8" height="574" fill="url(#g71)"/>
<rect x="742" y="42" width="8" height="574" fill="url(#g72)"/>
<rect x="750" y="42" width="8" height="574" fill="url(#g73)"/>
<rect x="758" y="42" width="8" height="574" fill="url(#g74)"/>
<rect x="766" y="42" width="8" height="574" fill="url(#g75)"/>
<rect x="774" y="42" width="8" height="574" fill="url(#g76)"/>
<rect x="782" y="42" width="8" height="574" fill="url(#g77)"/>
<rect x="790" y="42" width="8" height="574" fill="url(#g78)"/>
<rect x="798" y="42" width="8" height="574" fill="url(#g79)"/>
<rect x="806" y="42" width="8" height="574" fill="url(#g80)"/>
<rect x="814" y="42" width="8" height="574" fill="url(#g81)"/>
<rect x="822" y="42" width="8" height="574" fill="url(#g82)"/>
<rect x="830" y="42" width="8" height="574" fill="url(#g83)"/>
<rect x="838" y="42" width="8" height="574" fill="url(#g84)"/>
<rect x="846" y="42" width="8" height="574" fill="url(#g85)"/>
<rect x="854" y="42" width="8" height="574" fill="url(#g86)"/>
<rect x="862" y="42" width="8" height="574" fill="url(#g87)"/>
<rect x="870" y="42" width="8" height="574" fill="url(#g88)"/>
<rect x="878" y="42" width="8" height="574" fill="url(#g89)"/>
<rect x="886" y="42" width="8" height="574" fill="url(#g90)"/>
<rect x="894" y="42" width="8" height="574" fill="url(#g91)"/>
<rect x="902" y="42" width="8" height="574" fill="url(#g92)"/>
<rect x="910" y="42" width="8" height="574" fill="url(#g93)"/>
<rect x="918" y="42" width="8" height="574" fill="url(#g94)"/>
<rect x="926" y="42" width="8" height="574" fill="url(#g95)"/>
<rect x="934" y="42" width="8" height="574" fill="url(#g96)"/>
<rect x="942" y="42" width="8" height="574" fill="url(#g97)"/>
<rect x="950" y="42" width="8" height="574" fill="url(#g98)"/>
<rect x="958" y="42" width="8" height="574" fill="url(#g99)"/>
<rect x="966" y="42" width="8" height="574" fill="url(#g100)"/>
<rect x="974" y="42" width="8" height="574" fill="url(#g101)"/>
<rect x="982" y="42" width="8" height="574" fill="url(#g102)"/>
<rect x="990" y="42" width="8" height="574" fill="url(#g103)"/>
<rect x="998" y="42" width="8" height="574" fill="url(#g104)"/>
<rect x="1006" y="42" width="8" height="574" fill="url(#g105)"/>
<rect x="1014" y="42" width="8" height="574" fill="url(#g106)"/>
<rect x="1022" y="42" width="8" height="574" fill="url(#g107)"/>
<rect x="1030" y="42" width="8" height="574" fill="url(#g108)"/>
<rect x="1038" y="42" width="8" height="574" fill="url(#g109)"/>
<rect x="1046" y="42" width="8" height="574" fill="url(#g110)"/>
<rect x="1054" y="42" width="8" height="574" fill="url(#g111)"/>
<rect x="1062" y="42" width="8" height="574" fill="url(#g112)"/>
<rect x="1070" y="42" width="8" height="574" fill="url(#g113)"/>
<rect x="1078" y="42" width="8" height="574" fill="url(#g114)"/>
<rect x="1086" y="42" width="8" height="574" fill="url(#g115)"/>
<rect x="1094" y="42" width="8" height="574" fill="url(#g116)"/>
<rect x="1102" y="42" width="8" height="574" fill="url(#g117)"/>
<rect x="1110" y="42" width="8" height="574" fill="url(#g118)"/>
<rect x="1118" y="42" width="8" height="574" fill="url(#g119)"/>
<rect x="1126" y="42" width="8" height="574" fill="url(#g120)"/>
<rect x="1134" y="42" width="8" height="574" fill="url(#g121)"/>
<rect x="1142" y="42" width="8" height="574" fill="url(#g122)"/>
<rect x="1150" y="42" width="8" height="574" fill="url(#g123)"/>
<rect x="1158" y="42" width="8" height="574" fill="url(#g124)"/>
<rect x="1166" y="42" width="8" height="574" fill="url(#g125)"/>
<rect x="1174" y="42" width="8" height="574" fill="url(#g126)"/>
<rect x="1182" y="42" width="8" height="574" fill="url(#g127)"/>
<rect x="1190" y="42" width="8" height="574" fill="url(#g128)"/>
<rect x="1198" y="42" width="8" height="574" fill="url(#g129)"/>
<rect x="1206" y="42" width="8" height="574" fill="url(#g130)"/>
<rect x="1214" y="42" width="8" height="574" fill="url(#g131)"/>
<rect x="1222" y="42" width="8" height="574" fill="url(#g132)"/>
<rect x="1230" y="42" width="8" height="574" fill="url(#g133)"/>
<rect x="1238" y="42" width="8" height="574" fill="url(#g134)"/>
<rect x="1246" y="42" width="8" height="574" fill="url(#g135)"/>
<rect x="1254" y="42" width="8" height="574" fill="url(#g136)"/>
<rect x="1262" y="42" width="8" height="574" fill="url(#g137)"/>
<rect x="1270" y="42" width="8" height="574" fill="url(#g138)"/>
<rect x="1278" y="42" width="8" height="574" fill="url(#g139)"/>
<rect x="1286" y="42" width="8" height="574" fill="url(#g140)"/>
<rect x="1294" y="42" width="8" height="574" fill="url(#g141)"/>
<rect x="1302" y="42" width="8" height="574" fill="url(#g142)"/>
<rect x="1310" y="42" width="8" height="574" fill="url(#g143)"/>
<rect x="1318" y="42" width="8" height="574" fill="url(#g144)"/>
<rect x="1326" y="42" width="8" height="574" fill="url(#g145)"/>
<rect x="1334" y="42" width="8" height="574" fill="url(#g146)"/>
<rect x="1342" y="42" width="8" height="574" fill="url(#g147)"/>
<rect x="1350" y="42" width="8" height="574" fill="url(#g148)"/>
<rect x="1358" y="42" width="8" height="574" fill="url(#g149)"/>
<rect x="1366" y="42" width="8" height="574" fill="url(#g150)"/>
<rect x="1374" y="42" width="8" height="574" fill="url(#g151)"/>
<rect x="1382" y="42" width="8" height="574" fill="url(#g152)"/>
<rect x="1390" y="42" width="8" height="574" fill="url(#g153)"/>
<rect x="1398" y="42" width="8" height="574" fill="url(#g154)"/>
<rect x="1406" y="42" width="8" height="574" fill="url(#g155)"/>
<rect x="1414" y="42" width="8" height="574" fill="url(#g156)"/>
<rect x="1422" y="42" width="8" height="574" fill="url(#g157)"/>
<rect x="1429" y="42" width="17" height="574" fill="url(#sC)"/>
<path fill="#0012f7" d="M1392 42L1429 42 1429 46.3 1394 46.2 1391.1 42Z"/>
<path fill="#001ef8" d="M1376 42L1391.1 42 1394 46.2 1429 46.3 1429 70.1 1394 70.1 1384.4 54 1374.8 42Z"/>
<path fill="#002bfa" d="M1360 42L1374.8 42 1384.4 54 1394 70.1 1429 70.1 1429 83.7 1394 83.7 1381.7 70 1370 53.8 1358.5 42Z"/>
<path fill="#0039fb" d="M1344 42L1358.5 42 1370 53.8 1381.7 70 1394 83.7 1429 83.7 1429 97.2 1394 97.1 1358 56.2 1342.3 42Z"/>
<path fill="#0047fd" d="M1328 42L1342.3 42 1347.1 46 1360 58.3 1376 77.5 1394 97.1 1429 97.2 1429 110.7 1394 110.6 1376 91.7 1350.1 62 1326.6 42Z"/>
<path fill="#0054fe" d="M1312 42L1326.6 42 1344 56.2 1353.9 66 1374.5 90 1394 110.6 1429 110.7 1429 126.4 1394 126.4 1345.1 70 1310.9 42Z"/>
<path fill="#0060ff" d="M1296 42L1310.9 42 1344 69 1394 126.4 1429 126.4 1429 142.8 1394 142.7 1382.3 130 1370.2 114 1346 86.4 1330.1 70Z"/>
<path fill="#006cff" d="M1280 42L1295.2 42 1330.1 70 1346 86.4 1370.2 114 1382.3 130 1394 142.7 1429 142.8 1429 159.1 1394 159.1 1374 138.7 1356.6 114 1346 101.7 1329.4 86 1315.1 70 1292 51.6 1278.5 42Z"/>
<path fill="#0077ff" d="M1262 42L1278.5 42 1292 51.6 1315.1 70 1329.4 86 1346 101.7 1356.6 114 1374 138.7 1394 159.1 1429 159.1 1429 175.4 1394 175.4 1389.6 172 1378.1 162 1368.6 152 1356.1 136 1342 114 1320 93.5 1300.1 70 1292 63.6 1272 50.4Z"/>
<path fill="#0082ff" d="M1242 42L1261.6 42 1274 51.8 1292 63.6 1300.1 70 1320 93.5 1342 114 1354.8 134 1364 146.6 1376 159.9 1388 170.7 1394 175.4 1429 175.4 1429 194.8 1394 194.8 1385.1 186 1370 173.5 1360 163.3 1322.8 114 1306 97 1290 77.6 1281.9 70 1245.2 46 1240.3 42Z"/>
<path fill="#008dff" d="M1224 42L1240.3 42 1284.2 72 1292 79.7 1308 99.2 1322.8 114 1360 163.3 1370 173.5 1385.1 186 1394 194.8 1429 194.8 1429 218.8 1394 218.7 1378.2 202 1348.9 174 1316.4 130 1292 101.2 1260 70.5 1230 54.2 1222.2 42Z"/>
<path fill="#009dff" d="M1212 42L1222.2 42 1230 54.2 1259.4 70 1290 99.1 1316 129.5 1348.9 174 1378.2 202 1394 218.7 1429 218.8 1429 242.8 1394 242.7 1372.2 218 1346 193.6 1339.3 186 1314 150.6 1290 121 1260 92 1238 78 1230 71.9 1216.5 50 1210.5 42Z"/>
<path fill="#00b0ff" d="M1182 42L1210.5 42 1216.5 50 1230 71.9 1238 78 1260 92 1290 121 1314 150.6 1339.3 186 1346 193.6 1372.2 218 1394 242.7 1429 242.8 1429 266.7 1394 266.6 1372.4 240 1346 213.2 1334 198 1322.6 186 1290 143.4 1260 113.5 1238 99.6 1230 93.4 1218.7 70 1210 56.4 1192 56.7 1184 46.2Z"/>
<path fill="#00c2ff" d="M1174 42L1181.5 42 1192 56.7 1210 56.4 1218.7 70 1230 93.4 1238 99.6 1260 113.5 1290 143.4 1322.6 186 1334 198 1346 213.2 1372.4 240 1394 266.6 1429 266.7 1429 279.7 1394 279.7 1381 272 1362.3 250 1346 232.9 1327.9 208 1318 197.2 1304 184 1290 165.9 1260 136 1238 121.4 1230 115 1210 73.1 1192 72.2 1182 57.6 1173.3 42Z"/>
<path fill="#00d1ff" d="M1154 42L1173.3 42 1182 57.6 1192 72.2 1210 73.1 1230 115 1238 121.4 1260 136 1290 165.9 1304 184 1318 197.2 1327.9 208 1346 232.9 1362.3 250 1381 272 1394 279.7 1429 279.7 1429 290 1394 289.9 1363.7 272 1346 252.5 1330 227.4 1311.9 206 1298 193.1 1285.6 184 1260 158.4 1238 143.9 1230 136.4 1210 94.6 1192 93.7 1180.5 70 1172 55.9 1162 52.3 1154.5 48 1152.3 42Z"/>
<path fill="#00e0ff" d="M1146 42L1152.3 42 1154 47.6 1156 49.1 1162 52.3 1172 55.9 1180.5 70 1192 93.7 1210 94.6 1230 136.4 1238 143.9 1260 158.4 1285.6 184 1298 193.1 1311.9 206 1330 227.4 1346 252.5 1363.7 272 1394 289.9 1429 290 1429 300.2 1394 300.2 1346 271.7 1325.6 238 1314 223 1302 210.2 1290 199.6 1265.9 186 1258 179.2 1238 166.4 1230 157.7 1210 115.9 1192 114.9 1189.9 112 1172 73.9 1154 73 1151.5 68 1146.6 52 1144.1 42Z"/>
<path fill="#00ecfb" d="M1114 42L1118.5 42 1116 56.5ZM1138 42L1144.1 42 1149.5 62 1154 73 1172 73.9 1189.9 112 1192 114.9 1210 115.9 1230 157.7 1236 164.4 1258 179.2 1265.9 186 1290 199.6 1301.8 210 1314 223 1325.6 238 1346 271.7 1394 300.2 1429 300.2 1429 310.5 1394 310.5 1346 281.4 1336.2 272 1324.1 252 1312.5 236 1292 213.7 1278 204 1260 193.7 1238 186.7 1233.9 184 1228 175 1210 134.7 1192 132 1181 114 1172 95.5 1154 94.6 1142.4 70 1136.1 42Z"/>
<path fill="#00f9f7" d="M886 42L893.9 42 888 43.9ZM918 42L939.6 42 926 47.4ZM950 42L980 42 964 49.9ZM988 42L1012.5 42 1002 49.8ZM1030 42L1055.2 42 1047.3 52 1040 58.1ZM1062 42L1113.8 42 1116 56.5 1118.5 42 1136.1 42 1142.4 70 1154 94.6 1172 95.5 1181 114 1192 132 1210 134.7 1228 175 1233.9 184 1238 186.7 1260 193.7 1278 204 1292 213.7 1312.5 236 1324.1 252 1336.2 272 1346 281.4 1394 310.5 1429 310.5 1429 320.8 1394 320.7 1346 291 1326.6 272 1308.9 246 1290 224.7 1275.6 214 1260 204.3 1238 196.2 1228 190.1 1223.3 184 1210 153.6 1192 149.1 1172 116 1154 115.2 1151.7 112 1134 74.8 1130 74.6 1116 85.1 1098.2 70 1096 65.2 1095.5 70 1078 79.8 1066.7 70 1064.7 54Z"/>
<path fill="#00feee" d="M844 42L885.1 42 888 43.9 893.9 42 917.4 42 926 47.4 939.6 42 949.7 42 964 49.9 980 42 988 42 1002 49.8 1012.5 42 1029.7 42 1034.3 48 1040 58.1 1047.3 52 1055.2 42 1061.6 42 1064.3 52 1066.7 70 1078 79.8 1095.5 70 1096 65.2 1098.2 70 1116 85.1 1130 74.6 1134 74.8 1152.9 114 1154 115.2 1172 116 1192 149.1 1210 153.6 1223.3 184 1230 192 1238 196.2 1260 204.3 1275.6 214 1290 224.7 1308.9 246 1326.6 272 1346 291 1394 320.7 1429 320.8 1429 330.7 1394 330.7 1344 299 1330 286 1318 273.3 1301.2 250 1288 235.5 1274 224.3 1260 214.8 1230 201.4 1216.4 186 1210 172.5 1192 166.2 1172 131.5 1154 129.4 1142.9 114 1134 96.4 1130 96.2 1116 102.4 1106.8 92 1098 83.8 1096 83.2 1078 90.9 1060 74.8 1058 74 1040 76.3 1033.4 70 1028 60.4 1022 52.2 1020 52.2 1010 59.7 1002 64.2 984 51.5 964 60.4 946 50.3 926 59.2 908 47.9 890 56.3 888 56.4 870 44.6 860 49 852 50 850 49.1 842.7 42Z"/>
<path fill="#00fde0" d="M822 42L842.7 42 850 49.1 852 50 860 49 870 44.6 888 56.4 890 56.3 908 47.9 926 59.2 946 50.3 964 60.4 984 51.5 1002 64.2 1010 59.7 1020 52.2 1022 52.2 1028 60.4 1033.4 70 1040 76.3 1058 74 1060 74.8 1078 90.9 1096 83.2 1098 83.8 1106.8 92 1116 102.4 1130 96.2 1134 96.4 1142.9 114 1154 129.4 1172 131.5 1192 166.2 1210 172.5 1216.4 186 1230 201.4 1260 214.8 1274 224.3 1288 235.5 1301.2 250 1318 273.3 1330 286 1344 299 1394 330.7 1429 330.7 1429 339.1 1394 339.1 1374.3 328 1346 310.2 1321.5 288 1307.2 272 1292 251.9 1276 237.3 1258 224.1 1230 210.8 1210 188.4 1192 183.2 1172 146.9 1154 143.7 1134 116.1 1128 116.1 1116 118.1 1098 97.4 1096 96.6 1078 101.9 1060 85.5 1058 84.7 1040 87.1 1022 70.2 1020 69.8 1002 76.9 984 63.3 964 70.9 946 61.1 926 70.8 908 59.6 890 68.3 888 68.4 870 56.1 860 61 852 61.6 850 60.6 832 43.4Z"/>
<path fill="#00fcd3" d="M796 42L820.1 42 832 43.4 850 60.6 852 61.6 860 61 870 56.1 888 68.4 890 68.3 908 59.6 926 70.8 946 61.1 964 70.9 984 63.3 1002 76.9 1020 69.8 1022 70.2 1040 87.1 1058 84.7 1060 85.5 1078 101.9 1096 96.6 1098 97.4 1116 118.1 1128 116.1 1134 116.1 1154 143.7 1172 146.9 1192 183.2 1210 188.4 1230 210.8 1258 224.1 1276.8 238 1292 251.9 1307.2 272 1320 286.5 1344 308.7 1374.3 328 1394 339.1 1429 339.1 1429 347.6 1394 347.6 1346 319.8 1333.7 310 1320 297.4 1306 282.4 1290 262.4 1268 242.1 1258 234.5 1230 220.3 1210 197.9 1192 193.8 1185 186 1172 162.4 1154 157.9 1134 129.2 1128 129 1116 131.1 1098 111.1 1096 109.9 1078 113.1 1060 96.3 1058 95.5 1040 97.9 1022 81.1 1020 80.8 1002 88.5 984 75.4 982 75.5 964 84.4 946 72.4 926 84.2 908 71.7 890 79.5 888 79.5 870 68.1 860 72.3 852 72.6 850 71.7 832 53.2 816 51 806 47.2Z"/>
<path fill="#00fbc5" d="M760 42L795.8 42 806 47.2 816 51 832 53.2 850 71.7 852 72.6 860 72.3 870 68.1 888 79.5 890 79.5 908 71.7 926 84.2 946 72.4 964 84.4 982 75.5 984 75.4 1002 88.5 1020 80.8 1022 81.1 1040 97.9 1058 95.5 1060 96.3 1078 113.1 1096 109.9 1098 111.1 1116 131.1 1128 129 1134 129.2 1154 157.9 1172 162.4 1185 186 1192 193.8 1210 197.9 1230 220.3 1258 234.5 1268 242.1 1290 262.4 1305.7 282 1318.6 296 1344 318.3 1359.1 328 1394 347.6 1429 347.6 1429 356.1 1394 356 1344 328 1328.6 316 1315.4 304 1303.9 292 1283.6 268 1262 248 1250 240.1 1230 229.7 1210 207.5 1192 203.6 1176.9 186 1172 177.8 1154 172.1 1134 142.3 1128 141.8 1116 144.2 1098 124.4 1096 123.2 1078 126.5 1067.2 114 1060 107.1 1058 106.3 1040 108.6 1022 91.9 1020 91.6 1002 100.1 984 87.9 982 88.1 964 97.8 946 85.8 926 97.7 914 89.7 908 84.5 890 90.6 888 90.4 870 78.2 860 81.3 852 82 846.5 78 832 63.4 816 60.4 804 55.3 784 44.4Z"/>
<path fill="#00fab8" d="M692 42L758.4 42 784 44.4 804 55.3 816 60.4 832 63.4 846.5 78 852 82 860 81.3 870 78.2 888 90.4 890 90.6 908 84.5 914 89.7 926 97.7 946 85.8 964 97.8 982 88.1 984 87.9 1002 100.1 1020 91.6 1022 91.9 1040 108.6 1058 106.3 1060 107.1 1067.2 114 1078 126.5 1096 123.2 1098 124.4 1116 144.2 1128 141.8 1134 142.3 1154 172.1 1172 177.8 1176.9 186 1192 203.6 1210 207.5 1230 229.7 1250 240.1 1262 248 1283.6 268 1303.9 292 1315.4 304 1328.6 316 1344 328 1394 356 1429 356.1 1429 364.5 1394 364.5 1333.7 330 1322 321.1 1308 308.2 1276 272 1258.9 256 1246 247.3 1230 238.8 1210 217.1 1192 213.3 1172 190.5 1154 186.1 1134 155.4 1128 154.7 1116 157.2 1098 137.7 1096 136.6 1078 140.1 1060 119.5 1058 118.5 1040 122.4 1033.9 114 1022 102.6 1020 102.4 1002 111.7 984 100.4 982 100.7 964 111.3 946 99.3 926 111.2 914 103.2 908 97.4 890 101.7 888 101.4 870 87.8 858 90.7 852 91.4 850 90.7 832 73.8 816 69.9 804 64.2 784 52.6 758 48.8Z"/>
<path fill="#00f9ad" d="M460 42L615.2 42 612 45.4 588 44.1 536 44.1 482 46.7 470 44.9ZM638 42L691.3 42 782 52.1 816 69.9 832 73.8 850 90.7 852 91.4 858 90.7 870 87.8 888 101.4 890 101.7 908 97.4 914 103.2 926 111.2 946 99.3 964 111.3 982 100.7 984 100.4 1002 111.7 1020 102.4 1022 102.6 1033.9 114 1040 122.4 1058 118.5 1060 119.5 1078 140.1 1096 136.6 1098 137.7 1116 157.2 1128 154.7 1134 155.4 1154 186.1 1172 190.5 1192 213.3 1210 217.1 1230 238.8 1246 247.3 1258.9 256 1276 272 1307.8 308 1330.6 328 1394 364.5 1429 364.5 1429 373 1394 372.9 1320.3 330 1310.2 322 1298 310.1 1262 269.3 1246 256.6 1228 246 1210 226.7 1192 223 1172 200.6 1154 196.7 1145.5 186 1134 168.5 1128 167.5 1116 170.2 1098 151 1096 149.9 1078 153.6 1060 134.1 1058 133.2 1040 138.6 1022 113.6 1019.1 114 1002 128.7 985.4 114 984 113 982 113.5 964 128.6 946 112.9 943.4 114 928 127.7 926 128.4 914 117.8 908 110.3 890 113 888 112.3 870 97.4 852 100.8 850 100.3 832 84.6 816 82 806 76.3 799.2 70 782 60.1 750 54.5 642 47.2 640 46.8Z"/>
<path fill="#00f8a2" d="M434 42L459.5 42 470 44.9 482 46.7 536 44.1 588 44.1 612 45.4 615.2 42 620 42 614 52.4 612 53.8 588 52.3 536 52.3 480 54.1 446 52.3 432.2 42ZM634 42L637.5 42 640 46.8 642 47.2 750 54.5 782 60.1 799.2 70 806 76.3 816 82 832 84.6 850 100.3 852 100.8 870 97.4 888 112.3 890 113 908 110.3 914 117.8 926 128.4 928 127.7 943.4 114 946 112.9 964 128.6 982 113.5 984 113 985.4 114 1002 128.7 1019.1 114 1022 113.6 1040 138.6 1058 133.2 1060 134.1 1078 153.6 1096 149.9 1098 151 1116 170.2 1128 167.5 1134 168.5 1145.5 186 1154 196.7 1172 200.6 1192 223 1210 226.7 1228 246 1248 258 1262.8 270 1296 308 1317.2 328 1394 372.9 1429 373 1429 381.4 1394 381.4 1346 353.3 1326 340.6 1306.8 330 1292 316.6 1251.2 270 1238 260.2 1228 254.6 1210 236.5 1192 232.7 1172 210.7 1154 207.2 1134 181.5 1128 180.4 1116 183.2 1098 164.3 1096 163.2 1078 167.2 1060 148.7 1058 148 1040 154.8 1022 131.3 1020 131.2 1002 146.7 984 130.7 982 131.3 964 146.6 946 130.6 928 145.7 926 146.4 914 135.7 908 127.2 890 131.3 888 130.4 877.9 114 870 107.1 852 110.2 850 109.8 832 95.4 816 94.3 806 89.6 785.7 70 782 68.2 750 61.1 642 56 640 55.5 633 42Z"/>
<path fill="#00f796" d="M408 42L432.2 42 446 52.3 480 54.1 536 52.3 588 52.3 612 53.8 614 52.4 620 42 624.8 42 614 60.7 612 62.1 588 60.4 482 61.4 460 64.7 446 70 428 54 406 42ZM630 42L633 42 640 55.5 642 56 750 61.1 782 68.2 785.7 70 806 89.6 816 94.3 832 95.4 850 109.8 852 110.2 870 107.1 877.9 114 888 130.4 890 131.3 908 127.2 914 135.7 926 146.4 928 145.7 946 130.6 964 146.6 982 131.3 984 130.7 1002 146.7 1020 131.2 1022 131.3 1040 154.8 1058 148 1060 148.7 1078 167.2 1096 163.2 1098 164.3 1116 183.2 1128 180.4 1134 181.5 1154 207.2 1172 210.7 1192 232.7 1210 236.5 1228 254.6 1240 261.5 1253.4 272 1292 316.6 1303.8 328 1394 381.4 1429 381.4 1429 390.3 1394 390.3 1346 361.3 1322 345.5 1293.4 330 1290 327.4 1241.9 272 1224 260.1 1210 246.9 1192 241.9 1172 220.8 1154 217.8 1134 193.3 1128 192.3 1116 195.1 1096 176.5 1078 180.8 1060 163.3 1058 162.7 1040 170.9 1022 149.2 1020 149.1 1002 164.7 984 148.7 982 149.3 964 164.5 946 148.5 928 163.7 926 164.4 914 153.7 908 145.3 890 150 888 149.2 870 120.1 860 122.4 852 126.7 850 126 841.8 114 832 106.2 816 106.5 806 103 784 81.4 760.8 70 750 67.6 660 66.6 642 64.8 640 64.3 628.4 42Z"/>
<path fill="#00f68b" d="M380 42L406 42 428 54 446 70 460 64.7 482 61.4 588 60.4 612 62.1 614 60.7 624.8 42 628.4 42 640 64.3 642 64.8 660 66.6 750 67.6 760.8 70 784 81.4 806 103 816 106.5 832 106.2 841.8 114 850 126 852 126.7 860 122.4 870 120.1 888 149.2 890 150 908 145.3 914 153.7 926 164.4 928 163.7 946 148.5 964 164.5 982 149.3 984 148.7 1002 164.7 1020 149.1 1022 149.2 1040 170.9 1058 162.7 1060 163.3 1078 180.8 1096 176.5 1116 195.1 1128 192.3 1134 193.3 1154 217.8 1172 220.8 1192 241.9 1210 246.9 1224 260.1 1241.9 272 1292 329.1 1322 345.5 1346 361.3 1394 390.3 1429 390.3 1429 399.9 1394 399.9 1374.3 386 1346 369.3 1320.7 352 1281.8 330 1238 280.2 1210 257.7 1192 250.8 1172 230.9 1154 228.4 1134 204.5 1128 203.7 1116 206.8 1096 189.4 1078 193.8 1060 177.9 1058 177.5 1040 186.8 1022 167.1 1020 167.1 1002 182.7 984 166.6 982 167.2 964 182.5 946 166.5 928 181.6 926 182.4 914 171.7 908 163.4 890 168.8 888 168.1 870 139.6 860 142.4 852 147 850 146.4 832 120.4 816 123 806 118.4 801.1 112 784 94.5 752 79.5 660 77.3 642 75 640 74.2 630.6 54 628 49.2 626 47.9 614 69 612 70.8 588 68.6 480 69 474 70.7 463.2 76 446 87.9 438 77.1 426 67Z"/>
<path fill="#00f57f" d="M304 42L379 42 426 67 438 77.1 446 87.9 463.2 76 474 70.7 480 69 588 68.6 612 70.8 614 69 626 47.9 628 49.2 630.6 54 640 74.2 642 75 660 77.3 752 79.5 784 94.5 801.1 112 806 118.4 816 123 832 120.4 850 146.4 852 147 860 142.4 870 139.6 888 168.1 890 168.8 908 163.4 914 171.7 926 182.4 928 181.6 946 166.5 964 182.5 982 167.2 984 166.6 1002 182.7 1020 167.1 1022 167.1 1040 186.8 1058 177.5 1060 177.9 1078 193.8 1096 189.4 1116 206.8 1128 203.7 1134 204.5 1154 228.4 1172 230.9 1192 250.8 1210 257.7 1238 280.2 1281.8 330 1320.7 352 1346 369.3 1374.3 386 1394 399.9 1429 399.9 1429 409.5 1394 409.5 1363.7 388 1346 377.3 1318.8 358 1270.4 330 1236 291.3 1210 268.5 1190 258.2 1172 241.5 1154 238.6 1134 215.7 1128 215.1 1116 218.5 1098 202.5 1096 201.6 1078 206.5 1060 191.9 1058 191.5 1040 200.6 1022 184.9 1020 185 1002 196.2 984 184.5 964 194.3 946 184.4 926 193.4 912 186.3 908 181.6 892.5 186 888 186.1 870 159.2 860 162.3 852 167.2 850 166.7 832 141.5 816 144.9 806 140.8 789.9 114 782 106.5 750 93.5 642 87.5 640 86.7 634.6 70 628 57.1 626 55.7 617.9 70 614 81.7 612 84.5 588 82.2 482 79.9 476 82.3 463.7 90 454 97.8 446 105.8 437.7 90 428 79 404.6 70 374 53.7 372 53 320 53 318 52.5Z"/>
<path fill="#00f571" d="M286 42L304 42 318 52.5 320 53 372 53 374 53.7 404.6 70 428 79 437.7 90 446 105.8 454 97.8 463.7 90 476 82.3 482 79.9 588 82.2 612 84.5 614 81.7 617.9 70 626 55.7 628 57.1 634.6 70 640 86.7 642 87.5 750 93.5 782 106.5 789.9 114 806 140.8 816 144.9 832 141.5 850 166.7 852 167.2 860 162.3 870 159.2 888 186.1 892.5 186 908 181.6 912 186.3 926 193.4 946 184.4 964 194.3 984 184.5 1002 196.2 1020 185 1022 184.9 1040 200.6 1058 191.5 1060 191.9 1078 206.5 1096 201.6 1098 202.5 1116 218.5 1128 215.1 1134 215.7 1154 238.6 1172 241.5 1190 258.2 1210 268.5 1238 293.2 1270.4 330 1318.8 358 1346 377.3 1363.7 388 1394 409.5 1429 409.5 1429 419.1 1394 419 1317 364 1259 330 1236 304.4 1198.6 272 1188.5 266 1172 252.7 1154 248.3 1147.2 242 1134 226.8 1128 226.5 1116 230.1 1098 214.7 1096 213.8 1078 219.3 1060 205.1 1058 204.8 1040 214.4 1022 199.4 1020 199.4 1002 209.1 984 196.5 964 205 946 195 926 203 914 196.9 908 192.8 890 196.6 888 196.3 875.1 186 870 178.7 860 182.2 852 186.5 850 186.3 832 162.7 816 166.8 806 163.2 804 161 784 125.8 772.3 118 760.6 112 750 108 640 99.2 630.6 70 628 65 626 63.6 621.5 72 614 95.2 612 98.4 482 91.9 480 92.3 468.9 100 453.7 114 446 119.9 434.8 98 426 87.4 396.8 78 372 67.4 320 67.4 318 66.7 304 54.4 284.8 42Z"/>
<path fill="#00f562" d="M266 42L284.8 42 300.8 52 318 66.7 320 67.4 372 67.4 396.8 78 426 87.4 434.8 98 446 119.9 453.7 114 468.9 100 480 92.3 482 91.9 612 98.4 614 95.2 621.5 72 626 63.6 628 65 630.6 70 640 99.2 750 108 760.6 112 772.3 118 784 125.8 804 161 806 163.2 816 166.8 832 162.7 850 186.3 852 186.5 860 182.2 870 178.7 875.1 186 888 196.3 890 196.6 908 192.8 914 196.9 926 203 946 195 964 205 984 196.5 1002 209.1 1020 199.4 1022 199.4 1040 214.4 1058 204.8 1060 205.1 1078 219.3 1096 213.8 1098 214.7 1116 230.1 1128 226.5 1134 226.8 1147.2 242 1154 248.3 1172 252.7 1188.5 266 1198.6 272 1236 304.4 1259 330 1317 364 1394 419 1429 419.1 1429 428.7 1394 428.6 1346 394.6 1337.1 386 1315.3 370 1292 355.5 1265.9 342 1248 330.2 1236 317.5 1210.1 296 1183.6 272 1172 264.2 1152 256.4 1144 249.3 1134 238.4 1128 238 1116 241.2 1096 226.1 1078 232 1060 218.3 1058 218.1 1040 228.2 1022 213.7 1020 213.6 1002 222 984 208.2 964 215.7 946 205.2 926 212.7 908 202.4 890 206.8 888 206.5 870 192.5 860 194.8 852 198 850 197.8 832 183.8 816 187.2 806 185.2 804 183.4 784 147.8 774 140.3 752 126.8 672.7 114 640 111.7 631.1 82 628 73.6 626 71.8 619.9 88 614 108.7 612 112.3 588 112.1 536 107.2 482 103.9 480 104.3 475.3 108 458 123.4 446 131.1 442 125 432 104.9 426 97 398 89.5 372 80.4 318 75.7 307.6 70 298 61.8 286 53.2Z"/>
<path fill="#00f554" d="M254 42L265.7 42 273.6 46 292 57.3 307.6 70 318 75.7 372 80.4 398 89.5 426 97 432 104.9 442 125 446 131.1 458 123.4 475.3 108 480 104.3 482 103.9 536 107.2 588 112.1 612 112.3 614 108.7 619.9 88 626 71.8 628 73.6 631.1 82 640 111.7 672.7 114 752 126.8 774 140.3 784 147.8 804 183.4 806 185.2 816 187.2 832 183.8 850 197.8 852 198 860 194.8 870 192.5 888 206.5 890 206.8 908 202.4 926 212.7 946 205.2 964 215.7 984 208.2 1002 222 1020 213.6 1022 213.7 1040 228.2 1058 218.1 1060 218.3 1078 232 1096 226.1 1116 241.2 1128 238 1134 238.4 1144 249.3 1152 256.4 1172 264.2 1183.6 272 1210.1 296 1236 317.5 1247.7 330 1254 334.5 1272 345.5 1292.9 356 1314 369.1 1337.1 386 1346 394.6 1394 428.6 1429 428.7 1429 438.3 1394 438.2 1346 404.2 1327.4 386 1312 374.8 1292 362 1259.7 346 1232.7 328 1208 307.9 1184 286.5 1164.8 272 1154 267.2 1148 263.3 1134 250.9 1128 249.7 1116 251.6 1096 238.7 1078 243.8 1060 231.6 1058 231.4 1040 241.3 1022 228.1 1020 227.9 1002 234.6 984 219.9 964 226.4 946 215.4 926 222.4 908 211.9 890 216.9 888 216.7 870 203.4 860 206.1 852 209.5 850 209.4 832 196.4 816 199.6 806 198.1 802 195.2 793.3 186 782 167.5 752 146.8 698 137.8 660 129.2 642 129 640 128 637.4 114 633.4 100 628 83.8 626 81.9 619.7 100 614 124.3 612 129 588 128.9 482 117.6 480 118.4 473 126 464 133.1 446 142.4 440 133.5 429.9 112 426 106.7 395.5 100 356 88.8 318 82.9 294 70 280 59.6 264 50.1Z"/>
<path fill="#00f548" d="M244 42L253.9 42 264 50.1 280 59.6 294 70 318 82.9 356 88.8 395.5 100 426 106.7 429.9 112 440 133.5 446 142.4 464 133.1 473 126 480 118.4 482 117.6 588 128.9 612 129 614 124.3 619.7 100 626 81.9 628 83.8 633.4 100 637.4 114 640 128 642 129 660 129.2 698 137.8 752 146.8 782 167.5 793.3 186 802 195.2 806 198.1 816 199.6 832 196.4 850 209.4 852 209.5 860 206.1 870 203.4 888 216.7 890 216.9 908 211.9 926 222.4 946 215.4 964 226.4 984 219.9 1002 234.6 1020 227.9 1022 228.1 1040 241.3 1058 231.4 1060 231.6 1078 243.8 1096 238.7 1116 251.6 1128 249.7 1134 250.9 1148 263.3 1154 267.2 1164.8 272 1184 286.5 1208 307.9 1232.7 328 1259.7 346 1292 362 1312 374.8 1327.4 386 1346 404.2 1394 438.2 1429 438.3 1429 500.7 1394 500.6 1390.8 478 1388.6 444 1340 409.2 1328 398 1317.7 386 1310 380.4 1292 368.6 1262 355 1238 340.3 1218.8 330 1184 300.9 1162.6 288 1152 279.4 1145 272 1134 263.7 1130 261.9 1116 261.8 1096 252.4 1078 254.9 1060 246 1058 245.9 1040 253.3 1030 248.6 1022 243.4 1002 246.4 984 231.7 964 236.8 946 225.5 926 232 908 221.4 890 227 888 226.9 870 214.2 852 221 850 220.9 832 208.4 816 212 806 210.7 796 203.3 782 188.5 750 165.9 698 157.3 660 146.2 642 145.9 640 144.9 633.7 112 628 94 626 92 619.6 112 614 141 612 145.9 588 145.9 482 138 464 147.8 446 153.7 436.5 140 426 118.4 374 106.5 350 97.3 318 90.1 298 80.2 280.5 70 256 53.3 242.6 42Z"/>
<path fill="#00f53d" d="M232 42L242.6 42 258 54.8 280.5 70 298 80.2 318 90.1 350 97.3 374 106.5 426 118.4 436.5 140 446 153.7 464 147.8 482 138 588 145.9 612 145.9 614 141 619.6 112 626 92 628 94 633.7 112 640 144.9 642 145.9 660 146.2 698 157.3 750 165.9 782 188.5 796 203.3 806 210.7 816 212 832 208.4 850 220.9 852 221 870 214.2 888 226.9 890 227 908 221.4 926 232 946 225.5 964 236.8 984 231.7 1002 246.4 1022 243.4 1030 248.6 1040 253.3 1058 245.9 1060 246 1078 254.9 1096 252.4 1116 261.8 1130 261.9 1134 263.7 1145 272 1152 279.4 1162.6 288 1184 300.9 1218.8 330 1238 340.3 1262 355 1292 368.6 1310 380.4 1317.7 386 1328 398 1340 409.2 1388.6 444 1390.8 478 1394 500.6 1429 500.7 1429 527.2 1394 527.1 1388 518.7 1382 512.5 1374 506.4 1366.1 502 1365.6 500 1369.1 488 1371.8 474 1375.1 444 1330.7 412 1318.8 400 1308 386 1292 375.1 1260 361.7 1238 349.2 1220 340.6 1206 332.7 1199 328 1184 315.2 1164 306.5 1150 298 1140 289.7 1128 276.4 1096 266.6 1078 266 1060 261.4 1040 265.1 1020 259.8 1002 257.5 984 244.2 964 246.6 946 235.9 926 241.2 908 231 888 236.9 870 225.1 852 232.5 850 232.4 832 220.4 816 224.4 804 222.7 794 216 782 205.7 750 185.9 698 176.8 660 163.2 642 162.9 640 161.8 631 114 628 104.2 626 102.1 622.3 114 614 157.7 612 162.9 588 162.8 482 158.4 464 162.5 446 165 437 154 426 134.8 398 129 374 122.7 364.3 114 356 109.5 340 103.3 318 97.3 304 90.9 282 79.3 257.6 64 242 52.1Z"/>
<path fill="#00f531" d="M220 42L231.3 42 252 60 284 80.4 318 97.3 340 103.3 357.1 110 364.3 114 374 122.7 398 129 426 134.8 437 154 446 165 464 162.5 482 158.4 588 162.8 612 162.9 614 157.7 622.3 114 626 102.1 628 104.2 631 114 640 161.8 642 162.9 660 163.2 698 176.8 750 185.9 782 205.7 794 216 804 222.7 816 224.4 832 220.4 850 232.4 852 232.5 870 225.1 888 236.9 908 231 926 241.2 946 235.9 964 246.6 984 244.2 1002 257.5 1020 259.8 1040 265.1 1060 261.4 1078 266 1096 266.6 1128 276.4 1140 289.7 1150 298 1164 306.5 1184 315.2 1199 328 1208 333.9 1238 349.2 1258 360.7 1292 375.1 1300 380.4 1308 386 1320 401.4 1332 413.1 1375.1 444 1371.8 474 1369.1 488 1365.6 500 1366.1 502 1374 506.4 1382 512.5 1388 518.7 1394 527.1 1429 527.2 1429 546.8 1394 546.8 1390 544 1382 531.3 1372 520.5 1360.2 512 1346 505.1 1342.9 502 1346 488.4 1351.4 478 1356 465.7 1361.6 444 1332 424.2 1321.9 416 1310 403.1 1298.4 386 1292 381.7 1262 370.4 1238 358.1 1214 347.7 1198 338.9 1184 329.5 1162 323.4 1148 317.8 1122 302.1 1088 286.2 1074 281.1 1022 278.4 1010.9 272 998 266.6 984 257.6 964 256.2 946 247 926 250.1 908 241 888 246.4 870 236.2 852 243.3 850 243.3 832 232.4 816 236.8 806 236.1 796 231.7 784 224.1 750 206.3 698 198.3 674.1 186 660 180.2 642 179.8 640 178.7 630.5 126 628 114.8 626 112.3 620 140.1 614 174.4 612 179.8 482 178.7 446 176.3 436.1 166 426 151.2 392 146.3 372 142.2 343.7 114 307.4 100 274 83.1 256 72.5 242 62.7 230 52.5Z"/>
<path fill="#00f526" d="M208 42L220 42 232 54.3 246 65.7 258 73.8 284 88.7 312 102 343.7 114 372 142.2 392 146.3 426 151.2 436.1 166 446 176.3 482 178.7 612 179.8 614 174.4 620 140.1 626 112.3 628 114.8 630.5 126 640 178.7 642 179.8 660 180.2 674.1 186 698 198.3 750 206.3 784 224.1 796 231.7 806 236.1 816 236.8 832 232.4 850 243.3 852 243.3 870 236.2 888 246.4 908 241 926 250.1 946 247 964 256.2 984 257.6 998 266.6 1010.9 272 1022 278.4 1074 281.1 1088 286.2 1122 302.1 1148 317.8 1162 323.4 1184 329.5 1198 338.9 1214 347.7 1238 358.1 1262 370.4 1292 381.7 1298.4 386 1310 403.1 1321.9 416 1332 424.2 1361.6 444 1356 465.7 1351.4 478 1346 488.4 1342.9 502 1346 505.1 1360.2 512 1372 520.5 1381 530 1390 544 1392.7 546 1394 546.8 1429 546.8 1429 553.6 1394 553.5 1378.2 544 1366 529.7 1356.6 522 1346 515.5 1333.6 502 1334.8 490 1338.3 472 1341.8 460 1348.1 444 1328 432.7 1314 421.8 1303.3 410 1292 391.9 1288.5 388 1285.2 386 1260 377.2 1238 367.1 1212 357 1197.5 350 1184 342.1 1136 333.2 1123.4 330 1092 313.2 1074 304.8 1020 296.1 1008 290.2 998.1 284 990.5 278 985.2 272 982 270.1 964 265.7 946 258.5 926 258.8 908 251.5 888 255.5 870 248.2 850 253.6 832 245.5 816 249.2 804 248.4 790 243.7 750 226.7 696 220.7 677.1 214 660 206.1 642 203.8 640 201.8 638.2 184 633.5 156 628 128.6 626 125.6 612 201.1 588 199.6 482 199.6 449.9 192 446 190.8 443.1 186 434.8 178 426 167.6 372 162.7 346 139.2 323.2 114 288 98.9 248 78 226 60.8 210 44.1 206.7 42Z"/>
<path fill="#00f51b" d="M184 42L206.7 42 210 44.1 228 62.6 248 78 288 98.9 323.2 114 346 139.2 372 162.7 426 167.6 434.8 178 443.1 186 446 190.8 452 192.6 482 199.6 588 199.6 612 201.1 626 125.6 628 128.6 633.5 156 638.2 184 640 201.8 642 203.8 660 206.1 677.1 214 696 220.7 750 226.7 790 243.7 804 248.4 816 249.2 832 245.5 850 253.6 870 248.2 888 255.5 908 251.5 926 258.8 946 258.5 964 265.7 982 270.1 985.2 272 990.5 278 998.1 284 1008 290.2 1020 296.1 1074 304.8 1092 313.2 1123.4 330 1136 333.2 1184 342.1 1197.5 350 1212 357 1238 367.1 1260 377.2 1285.2 386 1288.5 388 1292 391.9 1303.3 410 1314 421.8 1328 432.7 1348.1 444 1341.8 460 1338.3 472 1334.8 490 1333.6 502 1346 515.5 1356.6 522 1366 529.7 1378.2 544 1380.8 546 1394 553.5 1429 553.6 1429 560.3 1394 560.3 1369 546 1356.6 534 1344 524 1324.4 502 1325 472 1327.4 444 1316 437.2 1307 430 1299.3 422 1290 409.8 1266.1 388 1262.9 386 1238 376 1208 365.9 1184 354.6 1130 346.4 1059.8 324 1020 314.3 1006 309.9 992 304 981.6 298 956.3 278 950.9 272 946 270 926 267.5 908 262.3 888 264.7 870 260.8 852 263.8 832 259.5 816 261.6 802 261 782 257.4 750 247 696 243.8 672 239 642 231 640 228.8 635.9 186 633.6 172 628 142.5 626 139.3 617.7 184 614 217.3 612 224.4 588 220.5 492 221 446 217.7 436 196.6 430 187.8 426 183.9 372 183.1 352 167.2 333.5 150 315.2 130 303.6 114 264 95.2 252 90.9 240 84.9 230 77.7 210 58.6 194 51.2 187.3 46Z"/>
<path fill="#00f50f" d="M168 42L183.4 42 194 51.2 210 58.6 230 77.7 240 84.9 252 90.9 264 95.2 303.6 114 315.2 130 333.5 150 352 167.2 372 183.1 426 183.9 430 187.8 436 196.6 446 217.7 492 221 588 220.5 612 224.4 614 217.3 617.7 184 626 139.3 628 142.5 633.6 172 635.9 186 640 228.8 642 231 672 239 696 243.8 750 247 782 257.4 802 261 816 261.6 832 259.5 852 263.8 870 260.8 888 264.7 908 262.3 926 267.5 946 270 950.9 272 956.3 278 981.6 298 992 304 1006 309.9 1020 314.3 1059.8 324 1130 346.4 1184 354.6 1208 365.9 1238 376 1262.9 386 1266.1 388 1290 409.8 1299.3 422 1307 430 1316 437.2 1327.4 444 1325 472 1324.4 502 1344 524 1356.6 534 1369 546 1393.4 560 1429 560.3 1429 567.1 1394 567.1 1364 550.5 1354.6 544 1346 536.4 1315.1 502 1310.8 466 1308.2 454 1304.9 444 1297.5 438 1264 405.9 1240.6 386 1208 376.5 1184 367.2 1130 360.7 1076 342.3 1022 332 988.9 328 974 324.2 954 316.8 938 308.6 926 299.7 912 285.7 852 280.4 832 277 784 275.6 750 267.4 696 266.9 658 265 642 258.2 640 255.8 633.4 186 628 156.4 626 153.1 620.2 184 614 241.1 612 247.7 606 246.1 590 239.2 584 238.1 570 241.2 556 246.4 544 241.4 534 239.3 524.2 246 518 255.6 506 250.7 492 246.7 482 241 472 237.9 466 241.2 460.9 246 457.3 252 454 262.1 452 261.8 446 249.3 442.4 234 438.2 222 431.3 208 426 200.8 374 202 372 201.7 362.1 196 340 179.6 308 149.7 295.4 134 284.2 114 264 104.3 246 99.7 232 93.9 220.2 86 210 75 184 69.4 174 65.6 169.2 62 166 58.2 166 42Z"/>
<path fill="#00f504" d="M167.3 60L172 64.3 179.4 68 210 75 220.2 86 232 93.9 246 99.7 264 104.3 284.2 114 296 134.9 310 151.8 346 184.6 358 193.4 372 201.7 426 200.8 431.3 208 438.2 222 442.4 234 446 249.3 452 261.8 454 262.1 457.3 252 460.9 246 466 241.2 472 237.9 482 241 492 246.7 506 250.7 518 255.6 524.2 246 534 239.3 544 241.4 556 246.4 570 241.2 584 238.1 590 239.2 606 246.1 612 247.7 614 241.1 620.2 184 626 153.1 628 156.4 633.4 186 640 255.8 642 258.2 658 265 696 266.9 750 267.4 784 275.6 832 277 852 280.4 912 285.7 926 299.7 938 308.6 954 316.8 974 324.2 988.9 328 1022 332 1076 342.3 1130 360.7 1184 367.2 1208 376.5 1240.6 386 1264 405.9 1297.5 438 1304.9 444 1308.2 454 1310.8 466 1315.1 502 1346 536.4 1354.6 544 1364 550.5 1394 567.1 1429 567.1 1429 573.9 1394 573.9 1368 560.8 1346 546.5 1305.9 502 1301.4 482 1297 468 1292 457.1 1283.2 444 1238 402.2 1203.7 386 1182 379.3 1130 375.1 1076 355.4 1022 346.4 966 344.1 914 345.8 891.1 336 860 328.8 846.3 318 836 311.8 822 305.6 806 300.5 782 295.8 750 287.8 700 284.4 660 283 642 279.3 640 278 638.9 272 630.8 186 628 170.3 626 166.8 622.5 186 614 264.9 612 271 606 268.8 592.4 258 584 254.2 572 260 556 272.6 544 261.8 536 256.7 534 256.9 528 265 518 282.9 492 273.1 482 260.8 472 254 466 262.1 454 287 452 286.9 446 277.8 441 252 437 238 432 227 426 217.6 372 220.4 346 207 332 197.3 318 185 302 174.4 290 162.9 283.1 154 276 142.2 264.4 114 239.1 110 226 106.8 196 93.5 166 84.5 166 58.2ZM526 615.9L536 615.3 590.5 616Z"/>
<path fill="#0bf800" d="M168 85L197.2 94 226 106.8 239.1 110 264.4 114 271.2 132 277 144 284 155.3 292 165.1 302 174.4 318 185 335.5 200 356 212.7 374 220.6 426 217.6 432 227 437 238 441 252 446 277.8 452 286.9 454 287 466 262.1 472 254 482 260.8 492 273.1 518 282.9 528 265 534 256.9 536 256.7 544 261.8 556 272.6 572 260 584 254.2 592.4 258 606 268.8 612 271 614 264.9 622.5 186 626 166.8 628 170.3 630.8 186 638.9 272 640 278 642 279.3 660 283 700 284.4 750 287.8 782 295.8 806 300.5 822 305.6 836 311.8 846.3 318 860 328.8 891.1 336 914 345.8 966 344.1 1022 346.4 1076 355.4 1130 375.1 1182 379.3 1203.7 386 1238 402.2 1283.2 444 1292 457.1 1297 468 1301.4 482 1305.9 502 1346 546.5 1368 560.8 1394 573.9 1429 573.9 1429 580.6 1394 580.6 1368 568.5 1346 555.3 1334.3 544 1296.6 502 1292 487.7 1289.1 482 1276.3 462 1262.7 444 1236 420.1 1184 395.9 1130 390.2 1110 381.4 1076 368.5 1020 360.7 968 363 960 364.6 946 368.7 934 373.5 924 379.1 914 386.8 911.6 386 904 376.8 896 369.3 880 358.6 860 349.9 838 337.9 792 319.4 752 308.7 736 305.8 698 300.4 658 297.2 641.1 294 640 293.5 639.2 290 636.4 274 628.3 186 626 180.6 616.2 272 614 284.4 612 288 604 285.5 590 274.1 584 270.8 576 275.7 556 291.3 536 274.5 534 274.7 518 301 492 291.8 480 277.5 472 270.7 454 305 452 304.9 446 296 438.1 260 434 246.2 428 235.9 426 233.9 414 239.1 406 236.3 396 234.1 386 238.2 376 245.8 372 244.4 348 229.4 326 219.3 300 201.8 269.3 184 252 157.5 243.4 148 234 140 224 133.4 210 126.1 193.6 114 166 102 166 84.5ZM518 615.9L536 614.6 588 615.1 594.6 616 536 615.3Z"/>
<path fill="#1cfc00" d="M168 102.8L193.6 114 210 126.1 225 134 236.6 142 245.4 150 252 157.5 266 179.7 271.9 186 298 200.5 326 219.3 350 230.5 372 244.4 376 245.8 386 238.2 396 234.1 406 236.3 414 239.1 426 233.9 428 235.9 434 246.2 438.1 260 446 296 452 304.9 454 305 472 270.7 480 277.5 492 291.8 518 301 534 274.7 536 274.5 556 291.3 576 275.7 584 270.8 590 274.1 604 285.5 612 288 614 284.4 616.2 272 626 180.6 628.3 186 636.1 272 640 293.5 658 297.2 698 300.4 738 306.1 752 308.7 793.7 320 838 337.9 860 349.9 880 358.6 896 369.3 904 376.8 911.6 386 914 386.8 924 379.1 934 373.5 946 368.7 960 364.6 968 363 1020 360.7 1076 368.5 1110 381.4 1130 390.2 1184 395.9 1236 420.1 1262.7 444 1276.3 462 1289.1 482 1292 487.7 1296.6 502 1334.3 544 1346 555.3 1368 568.5 1394 580.6 1429 580.6 1429 588.9 1394 588.9 1363.5 574 1346 564 1325.1 544 1292 507.1 1284.4 502 1260 465.3 1239 444 1230 440.1 1222 433.8 1212.1 428 1198 423 1184 416.4 1130 408.2 1087.5 386 1076 381.6 1022 375.1 990 378.5 966 382.4 914 408.7 912 408.2 896.9 396 842 357.2 825.4 348 806 339.8 758 330.6 726 322.3 698 316.4 640 309 636.9 298 634.9 286 628 213.3 626 205.2 617.8 284 614.7 300 612 304.7 604 302.6 584 287.5 556 309.2 536 292 534 292.2 518 318.9 492 309.7 480 295.3 472 287.3 454 323 452 322.8 446 314 434 261.2 428 251.1 426 249.7 424 251.3 414 263.2 406 254.2 396 247.8 386.9 256 378 271.7 376 273.4 358 259 348 248.6 338 241.8 330 245.2 324.8 250 321.5 256 318 267.4 311.3 244 308 237.5 303.8 232 296 225.3 264 205.4 239.7 186 226.1 170 210 155.8 195.5 140 182 129.4 166 119.9 166 102ZM510 615.9L536 614 588 614.5 598.8 616 588 615.1 536 614.6Z"/>
<path fill="#2cff00" d="M166.1 120L182 129.4 195.5 140 210 155.8 226.1 170 239.7 186 264 205.4 296 225.3 302 230.2 307 236 311.3 244 318 267.4 321.5 256 324.8 250 330 245.2 338 241.8 348 248.6 358 259 376 273.4 378 271.7 386.9 256 396 247.8 406 254.2 414 263.2 420 255.4 426 249.7 428 251.1 434 261.2 446 314 452 322.8 454 323 472 287.3 480 295.3 492 309.7 518 318.9 534 292.2 536 292 556 309.2 584 287.5 604 302.6 612 304.7 614.7 300 617.8 284 626 205.2 628 213.3 634.9 286 636.9 298 640 309 698 316.4 726 322.3 758 330.6 806 339.8 825.4 348 842 357.2 896.9 396 912 408.2 914 408.7 966 382.4 990 378.5 1022 375.1 1076 381.6 1087.5 386 1130 408.2 1184 416.4 1198 423 1212.1 428 1222 433.8 1230 440.1 1239 444 1260 465.3 1284.4 502 1292 507.1 1325.1 544 1346 564 1363.5 574 1394 588.9 1429 588.9 1429 597.5 1394 597.5 1382 589.1 1363.7 582 1346 572.8 1332 557.9 1316 544 1292 517.2 1268.4 502 1258 487.3 1244 472 1238 466.1 1230 463.5 1228 461.8 1217.7 450 1210 443.5 1192 444.9 1184 437.7 1174 432.7 1154 432.5 1140 427.5 1128 425.3 1116 420.2 1074 398.6 1022 390.7 968 403.3 926 425.4 914 429.9 884.9 406 858 388.8 835.9 370 822 361.1 806 353 752 349 729.5 346 706 340.4 680.5 330 660 326.3 640 324.5 636 316 633.3 304 628 243.7 626 235.6 619.5 302 616 315.9 614 320.2 612 321.5 604 319.8 584 305.5 556 327.2 536 309.9 534 310.2 518 335.6 492 327.7 480 313.3 472 305.2 459.3 330 454 337.2 452 337 445.7 330 434 277 432 272.1 428 266.4 426 265.5 414 284.1 404.5 270 396 261.3 390 268.9 378 291.3 376 292.7 358 279.3 344 263.1 338 257.5 332.5 264 328.2 272 318 284.5 307.8 272 303.1 260 298 250.5 296 248.7 280 242 270 231.6 210.7 186 200 170.5 190 158.6 178.7 148 166 138.5ZM528 613.9L588 613.9 602.9 616 588 614.5 536 614 500.9 616Z"/>
<path fill="#3bff00" d="M168 139.9L180 149.1 191.3 160 200 170.5 210.7 186 270 231.6 280 242 296 248.7 298 250.5 303.1 260 307.8 272 318 284.5 328.2 272 332.5 264 338 257.5 344 263.1 358 279.3 376 292.7 378 291.3 390 268.9 396 261.3 404.5 270 414 284.1 426 265.5 428 266.4 432 272.1 434 277 445.7 330 452 337 454 337.2 459.3 330 472 305.2 480 313.3 492 327.7 518 335.6 534 310.2 536 309.9 556 327.2 584 305.5 604 319.8 612 321.5 614 320.2 616 315.9 619.5 302 626 235.6 628 243.7 633.3 304 636 316 640 324.5 660 326.3 680.5 330 706 340.4 729.5 346 752 349 806 353 822 361.1 835.9 370 858 388.8 884.9 406 914 429.9 926 425.4 968 403.3 1022 390.7 1074 398.6 1116 420.2 1128 425.3 1140 427.5 1154 432.5 1174 432.7 1184 437.7 1192 444.9 1210 443.5 1217.7 450 1228 461.8 1230 463.5 1238 466.1 1244 472 1258 487.3 1268.4 502 1292 517.2 1316 544 1332 557.9 1346 572.8 1363.7 582 1382 589.1 1394 597.5 1429 597.5 1429 609.7 1394 609.6 1387.5 600 1379.4 594 1366 587.7 1346 581.6 1330.3 564 1306.9 544 1292 527.4 1260 506.8 1250.9 502 1238 488 1230 484.8 1228 483 1210 462 1192 465.5 1182 455.8 1172 448.6 1154 454.8 1136 442.1 1134 441.5 1116 442.5 1108 435.6 1100 430.4 1086 424.9 1076 419.9 1022 411.3 982 421.4 970 425.6 960 430.7 946 434 926 449.2 914 447.9 908 442.3 894 433.2 879.9 420 858 404.5 828 380.2 806 366.1 784 366.5 740 369.8 720 372.1 698 376.6 696 376.3 664 358.7 640 349.4 634 338.5 629.9 328 628.5 312 627.4 272 626 265.9 624.7 310 623.3 326 620 333.6 614 341.2 612 341.7 606 340.4 592 328.7 584 323.5 562 340.3 556 343.9 536 327.9 534 328.2 518 350.6 492 342.9 472 323.2 468.4 330 458 344.6 454 349.7 452 349.3 446 342.7 444 337.8 441.1 328 434 294.4 432 288.9 428 283.1 426 282.4 414 302.1 396 275.9 378 309.2 376 310.6 372 308.2 358 295.6 346 281.1 338 273.5 318 297.4 314.4 294 298 273 296 271.6 280 270.5 278 268.6 271.4 254 262 242.2 250 240.5 244 238.6 232.6 224 210 205.7 182 172.3 166 157.1 166 138.5ZM518 614L536 612.8 588 613.2 607 616 588 613.9 536 613.4 492.8 616Z"/>
<path fill="#4aff00" d="M167.1 158L182 172.3 210 205.7 234.6 226 242 236.8 244 238.6 248.1 240 262 242.2 271.4 254 278 268.6 280 270.5 296 271.6 298 273 314.4 294 318 297.4 338 273.5 346 281.1 358 295.6 372 308.2 376 310.6 378 309.2 396 275.9 414 302.1 426 282.4 428 283.1 432 288.9 434 294.4 441.1 328 444 337.8 446 342.7 452 349.3 454 349.7 458 344.6 468.4 330 472 323.2 492 342.9 518 350.6 534 328.2 536 327.9 556 343.9 562 340.3 584 323.5 592 328.7 606 340.4 612 341.7 614 341.2 620 333.6 623.3 326 624.7 310 626 265.9 627.4 272 628.5 312 629.9 328 634 338.5 640 349.4 664 358.7 696 376.3 698 376.6 720 372.1 740 369.8 784 366.5 806 366.1 828 380.2 858 404.5 879.9 420 894 433.2 908 442.3 914 447.9 926 449.2 946 434 960 430.7 970 425.6 982 421.4 1022 411.3 1076 419.9 1086 424.9 1100 430.4 1108 435.6 1116 442.5 1134 441.5 1136 442.1 1154 454.8 1172 448.6 1182 455.8 1192 465.5 1210 462 1228 483 1230 484.8 1238 488 1250.9 502 1260 506.8 1292 527.4 1306.9 544 1330.3 564 1346 581.6 1366 587.7 1379.4 594 1387.5 600 1394 609.6 1429 609.7 1429 616 1387 616 1386.5 610 1380 601.6 1376.1 598 1364.6 592 1346 585.6 1339.2 582 1322 563.5 1297.8 544 1290 536 1258 515.6 1238 505.2 1230 503.7 1226.7 502 1210 482.3 1192 484.8 1182 474.7 1172 466.6 1154 473.3 1134 457.8 1116 462.7 1098 445.7 1096 444.8 1078 446.4 1072 441 1060 435.1 1052 435.6 1040 438 1030 432.9 1022 430.2 1020 430.5 1010 435.4 1002 441.6 984 439.2 982 440 964 452.8 946 449.9 926 463.5 914 461 908 455.2 890 449.9 888 448.5 878.4 436 872 429.7 844.6 410 815.9 386 806 379.3 804 378.8 738 390.7 696 399.9 668 392.2 652.7 386 639.7 378 633.9 372 626 361.5 614 365 606 362.5 584 342.4 564 356.2 556 360.6 536 343.1 534 343.3 518 365.5 492 357.9 472 338.5 454 362.1 452 361.6 446 354.5 444 350.2 438.8 334 434 312.4 432 306.9 428 301 426 300.4 414 320 396 293.1 378 327.2 376 328.6 372 326.1 358 311.8 338 286.7 318 310.3 313.5 306 298 286.6 296 285.4 280 286.3 278 285.3 262 257.6 254 262 244 273.1 242 273.8 234.9 252 228 240 224 235.5 210 225.7 192 202.8 166 175.6 166 157.1ZM626 488.6L628 494.8 628.4 502 626 507.8 625.1 502ZM510 613.9L536 612.1 588 612.6 611 616 588 613.2 536 612.8 484.8 616Z"/>
<path fill="#59ff00" d="M166.4 176L192 202.8 210 225.7 224 235.5 228 240 234.9 252 242 273.8 244 273.1 254 262 262 257.6 278 285.3 280 286.3 296 285.4 298 286.6 313.5 306 318 310.3 338 286.7 358 311.8 372 326.1 376 328.6 378 327.2 396 293.1 414 320 426 300.4 428 301 432 306.9 434 312.4 438.8 334 444 350.2 446 354.5 452 361.6 454 362.1 472 338.5 492 357.9 518 365.5 534 343.3 536 343.1 556 360.6 564 356.2 584 342.4 606 362.5 614 365 626 361.5 633.9 372 639.7 378 652.7 386 668 392.2 696 399.9 738 390.7 804 378.8 806 379.3 815.9 386 844.6 410 872 429.7 878.4 436 888 448.5 890 449.9 908 455.2 914 461 926 463.5 946 449.9 964 452.8 982 440 984 439.2 1002 441.6 1012 434.2 1022 430.2 1032 433.7 1040 438 1052 435.6 1060 435.1 1072 441 1078 446.4 1096 444.8 1100.7 448 1116 462.7 1134 457.8 1154 473.3 1172 466.6 1182 474.7 1192 484.8 1210 482.3 1226.7 502 1230 503.7 1238 505.2 1258 515.6 1290 536 1297.8 544 1322 563.5 1339.2 582 1346 585.6 1364.6 592 1376.1 598 1380 601.6 1386.5 610 1387 616 1379.3 616 1378.7 610 1369.8 600 1360 594.7 1344 588.5 1332.4 582 1316 565.1 1297.2 550 1260 526.7 1238 515 1228 512.9 1210 502 1192 503 1189.8 502 1182 493.6 1172 485.4 1154 491.6 1134 475.9 1116 481.2 1098 464 1096 463 1078 467.9 1060 451.8 1058 451.4 1040 457.6 1026 448.5 1022 446.5 1020 446.7 1002 458.7 984 454.3 964 468.7 946 464.3 926 477.3 914 474.4 908 468.7 890 464.5 888 463.3 870 442.2 852 433.2 806 394.6 804 393.9 784 398.1 750 403.1 696 418 660 411.9 640 402.2 632 405.7 628 410 626 409.3 623.2 400 618.1 392 604 382.9 592 369.3 584 361.8 562 374.6 556 377.2 536 358.2 534 358.3 518 380.5 492 372.9 472 352.5 454 374.5 452 373.8 446 366.4 442.9 360 438.5 348 432 324.8 428 319 426 318.3 414 341.5 407.3 328 396 311.1 378 345.4 376 346.6 372 343.6 358 328 338 301 318 323.1 314 319.7 298 300.5 296 299.4 280 301.2 278 300.4 262 273.6 254.4 280 244 291.7 242 292.6 229.1 262 224 252.6 222 250.7 210 244.9 186.4 214 166 192.7ZM626 460.5L628 463.5 628.6 468 630.9 500 628 518.2 626 521.4 622.9 500ZM625.9 490L625.1 502 626 507.8 628.4 502 628 494.8 626 488.6ZM528 611.9L536 611.4 588 612 613.6 616 588 612.6 536 612.1 478.9 616Z"/>
<path fill="#64ff00" d="M167.4 194L186.4 214 210 244.9 222 250.7 224 252.6 229.1 262 242 292.6 244 291.7 254.4 280 262 273.6 278 300.4 280 301.2 296 299.4 298 300.5 314 319.7 318 323.1 338 301 358 328 372 343.6 376 346.6 378 345.4 396 311.1 407.3 328 414 341.5 426 318.3 428 319 432 324.8 438.5 348 442.9 360 446 366.4 452 373.8 454 374.5 472 352.5 492 372.9 518 380.5 534 358.3 536 358.2 556 377.2 562 374.6 584 361.8 592 369.3 604 382.9 618.1 392 623.2 400 626 409.3 628 410 632 405.7 640 402.2 660 411.9 696 418 750 403.1 784 398.1 804 393.9 806 394.6 852 433.2 870 442.2 888 463.3 890 464.5 908 468.7 914 474.4 926 477.3 946 464.3 964 468.7 984 454.3 1002 458.7 1020 446.7 1022 446.5 1026 448.5 1040 457.6 1058 451.4 1060 451.8 1078 467.9 1096 463 1098 464 1116 481.2 1134 475.9 1154 491.6 1172 485.4 1182 493.6 1189.8 502 1192 503 1210 502 1228 512.9 1238 515 1260 526.7 1297.2 550 1316 565.1 1332.4 582 1344 588.5 1360 594.7 1369.8 600 1378.7 610 1379.3 616 1371.6 616 1370.9 610 1360.9 600 1344 592.3 1325.7 582 1310 566.5 1292 552.4 1271.4 544 1258 535.4 1238 524.9 1228 522.9 1210 512.6 1192 514.2 1172 503.1 1154 506.8 1144.6 502 1134 493.9 1116 499.8 1098 483.4 1096 482.5 1078 488.3 1060 469.8 1058 469.2 1040 473.7 1022 460.2 1020 460.5 1002 473.6 984 469.6 964 484.5 946 479.2 926 491.2 914 487.7 908 482.2 890 478.7 888 477.6 870 456.1 852 451.6 834 433.2 804 411.8 750 417.9 724 425.9 696 436.1 660 434.2 640 424.2 635.5 432 631.5 444 632.8 464 633.3 502 628 532 626 535.1 620.7 502 621.6 466 623.4 444 619.9 426 614 410.8 604 403.9 584 381.2 582 381.5 558 395.2 556 395.6 546 383 536 373.2 534 373.2 524.8 386 518 399.2 492 388.4 472 366.6 454 387.3 452 386.1 443.4 374 438 362 434 348.9 432 344.7 428 340.6 426 340.6 418 359.5 414 366.5 404.9 346 396 329.2 381.3 358 378 363.7 376 364.5 372 361.1 358 345 347.4 328 338 315.3 318 337.6 298 314.4 296 313.3 280 316.2 278 315.4 262 288.5 244 309.1 242 310.2 224 269.9 222 267.5 210 263.8 196.9 248 180 223.8 166 208.2 166 192.7ZM625.8 462L622.9 500 626 521.4 628 518.2 630.9 500 628.4 466 627.1 462 626 460.5ZM520 611.8L536 610.5 588 611.2 610 614.4 615.1 616 588 612 536 611.4 475.1 616Z"/>
<path fill="#6fff00" d="M167.7 210L180 223.8 196.9 248 210 263.8 222 267.5 224 269.9 242 310.2 244 309.1 262 288.5 278 315.4 280 316.2 296 313.3 298 314.4 318 337.6 338 315.3 347.4 328 358 345 372 361.1 376 364.5 378 363.7 381.3 358 396 329.2 404.9 346 414 366.5 418 359.5 426 340.6 428 340.6 432 344.7 434 348.9 438 362 443.4 374 452 386.1 454 387.3 472 366.6 492 388.4 518 399.2 524.8 386 534 373.2 536 373.2 546 383 556 395.6 558 395.2 582 381.5 584 381.2 604 403.9 614 410.8 619.9 426 623.4 444 621.6 466 620.7 502 626 535.1 628 532 633.3 502 632.8 464 631.5 444 635.5 432 640 424.2 660 434.2 696 436.1 724 425.9 750 417.9 804 411.8 834 433.2 852 451.6 870 456.1 888 477.6 890 478.7 908 482.2 914 487.7 926 491.2 946 479.2 964 484.5 984 469.6 1002 473.6 1020 460.5 1022 460.2 1040 473.7 1058 469.2 1060 469.8 1078 488.3 1096 482.5 1098 483.4 1116 499.8 1134 493.9 1144.6 502 1154 506.8 1172 503.1 1192 514.2 1210 512.6 1228 522.9 1238 524.9 1258 535.4 1271.4 544 1292 552.4 1310 566.5 1325.7 582 1344 592.3 1360.9 600 1370.9 610 1371.6 616 1363.9 616 1363.2 610 1352.1 600 1336 592 1318.9 582 1306 569.6 1292 558.3 1255.5 544 1238 534.7 1228 533 1210 523.2 1192 525.4 1172 514.5 1154 518.1 1134 508 1116 511.6 1096 501.6 1078 505.4 1072.4 502 1060 488.1 1058 487.2 1040 489.7 1022 474.6 1020 474.9 1002 488.5 984 485.1 964 500.3 946 494 926 505.9 914 501.2 908 495.7 890 492.9 888 491.9 870 471.1 860 468.7 852 467.8 850 466.7 832 445.8 816 438.2 804 429.7 750 432.6 719.2 444 696 461.5 660 461.5 640 447.2 637.4 466 635.8 502 628.4 544 626 547.9 618.5 502 617.5 450 617.2 444 615.6 438 614 432.9 612 429.8 604 424.8 584 401.4 582 401.7 558 416.1 556 416.5 536 389 534 388.9 518 420.3 492 409.5 476.6 386 472 380.6 465.9 388 454 408.8 452 407.4 444 388 438 377.4 434 367.4 432 365.2 428 366.8 426 369.1 417.7 386 414 391 404.5 368 396 350.2 381.7 376 378 381.9 376 382.5 358 362.1 338 329.8 318 353.6 298 328.3 296 327.3 280 330.9 278 330.4 262 304.7 244 326.6 242 327.9 224 288 222 285.4 210 283.5 206 279.2 186 254.7 177.4 238 166 223.7 166 208.2ZM532 609.8L588 610.3 612 614.1 616.4 616 588 611.2 536 610.5 471.4 616 482 614.1Z"/>
<path fill="#7aff00" d="M166.2 224L177.4 238 186 254.7 206 279.2 210 283.5 222 285.4 224 288 242 327.9 244 326.6 262 304.7 278 330.4 280 330.9 296 327.3 298 328.3 318 353.6 338 329.8 358 362.1 376 382.5 378 381.9 381.7 376 396 350.2 404.5 368 414 391 417.7 386 426 369.1 428 366.8 432 365.2 434 367.4 438 377.4 444 388 452 407.4 454 408.8 465.9 388 472 380.6 476.6 386 492 409.5 518 420.3 534 388.9 536 389 556 416.5 558 416.1 582 401.7 584 401.4 604 424.8 612 429.8 614 432.9 615.6 438 617.2 444 617.5 450 618.5 502 626 547.9 628.4 544 635.8 502 637.4 466 640 447.2 660 461.5 696 461.5 719.2 444 750 432.6 804 429.7 816 438.2 832 445.8 850 466.7 852 467.8 860 468.7 870 471.1 888 491.9 890 492.9 908 495.7 914 501.2 926 505.9 946 494 964 500.3 984 485.1 1002 488.5 1020 474.9 1022 474.6 1040 489.7 1058 487.2 1060 488.1 1072.4 502 1078 505.4 1096 501.6 1116 511.6 1134 508 1154 518.1 1172 514.5 1192 525.4 1210 523.2 1228 533 1238 534.7 1255.5 544 1292 558.3 1306 569.6 1318.9 582 1336 592 1352.1 600 1363.2 610 1363.9 616 1356.2 616 1355.4 610 1343.5 600 1312.2 582 1299.1 570 1290 563.3 1238 544.4 1228 543 1210 533.8 1192 536.5 1172 525.9 1154 529.4 1134 519.3 1116 522.8 1096 512.8 1078 516.4 1058 503.9 1040 504.6 1022 489.1 1020 489.3 1002 503.1 984 500.5 964 513.1 946 508.5 926 522.8 914 520 908 512.3 890 508.6 888 507.3 870 486.2 852 483.8 850 482.7 832 461.7 816 455.9 804 447.7 750 449.8 724.9 468 696 492.8 660 492.8 642 479.2 640 479.3 638.2 502 633.4 532 628.7 554 628 556.5 626 558.6 622.6 544 617.3 510 614.1 464 612 454.8 606 449.6 602.6 444 584 422 582 422.3 558 437 556 437.4 536 410.2 534 410 518 441.4 492 430.7 482 416.4 472 398.8 454 430.4 452 429.1 434 385.9 432 385.7 414 413.6 396 371.2 387.3 386 378 405.3 376 406.2 363.7 386 358 379.2 338 346.2 318 369.5 298 342.9 296 341.9 280 344.7 278 344 266.2 328 262 320.8 244 340.8 242 341.8 233.4 328 224 307.2 222 304.8 210 304 186 276.8 176 253.2 172 246.6 166 239.2ZM532 607.9L588 609 612 613.4 617.7 616 612 614.1 588 610.3 536 609.3 467.6 616 480 613.6 520.6 610Z"/>
<path fill="#85ff00" d="M166.6 240L176 253.2 186 276.8 210 304 222 304.8 224 307.2 233.4 328 242 341.8 244 340.8 262 320.8 266.2 328 278 344 280 344.7 296 341.9 298 342.9 318 369.5 338 346.2 358 379.2 363.7 386 376 406.2 378 405.3 387.3 386 396 371.2 414 413.6 432 385.7 434 385.9 452 429.1 454 430.4 472 398.8 482 416.4 492 430.7 518 441.4 534 410 536 410.2 556 437.4 558 437 582 422.3 584 422 602.6 444 606 449.6 612 454.8 614.1 464 617.3 510 622.6 544 626 558.6 628 556.5 628.7 554 633.4 532 638.2 502 640 479.3 642 479.2 660 492.8 696 492.8 724.9 468 750 449.8 804 447.7 816 455.9 832 461.7 850 482.7 852 483.8 870 486.2 888 507.3 890 508.6 908 512.3 914 520 926 522.8 946 508.5 964 513.1 984 500.5 1002 503.1 1020 489.3 1022 489.1 1040 504.6 1058 503.9 1078 516.4 1096 512.8 1116 522.8 1134 519.3 1154 529.4 1172 525.9 1192 536.5 1210 533.8 1228 543 1238 544.4 1290 563.3 1299.1 570 1312.2 582 1343.5 600 1355.4 610 1356.2 616 1348.5 616 1347.6 610 1338.5 602 1305.4 582 1292 570.2 1258 558.3 1238 551.6 1228 550.6 1210 544.3 1192 546.7 1190 546.2 1172 537.3 1154 540.8 1134 530.5 1116 534 1096 523.9 1078 527.4 1058 515.3 1040 516.4 1022 503.2 1020 503.4 1002 515.3 984 513 964 525.6 946 522.8 926 539.7 914 539 908 531.2 890 526.4 888 525.1 870 501.3 860 499.8 852 499.7 850 498.7 832 478.6 816 473.7 804 466.2 752 474.6 740 483.3 717.8 502 698 509.2 660 513.1 642 506.4 640 506.9 632.3 552 628 567.5 626 569.3 620.3 546 612 487.4 606 482.3 604 479.4 590 452 584 442.6 580.2 444 562 459.7 558 462.8 556 463.2 545.4 444 536 431.3 534 431.2 518 465.4 492 452.3 480 434.4 472 420.1 454 453 452 451.5 434 407.6 432 407.5 414 436.2 396 393.1 378 430.6 376 431.6 372 426.4 360 405.7 352 386 338 362.7 318 385.4 298 357.7 296 356.5 280 358.5 278 357.7 262 335.5 244 354.4 242 355.5 222 324.1 210 324.6 186 298.1 175.8 270 172 262.6 166 254.8 166 239.2ZM532 605.9L588 607.2 612 612.7 619.1 616 612 613.4 588 609 536 607.5 520.6 610 480 613.6 463.9 616 478 613.1 510.4 610Z"/>
<path fill="#90ff00" d="M167 256L172 262.6 175.8 270 186 298.1 210 324.6 222 324.1 242 355.5 244 354.4 262 335.5 278 357.7 280 358.5 296 356.5 298 357.7 318 385.4 338 362.7 352 386 360 405.7 372 426.4 376 431.6 378 430.6 396 393.1 414 436.2 432 407.5 434 407.6 452 451.5 454 453 472 420.1 480 434.4 492 452.3 518 465.4 534 431.2 536 431.3 545.4 444 556 463.2 558 462.8 562 459.7 580.2 444 584 442.6 590 452 604 479.4 606 482.3 612 487.4 620.3 546 626 569.3 628 567.5 632.3 552 640 506.9 642 506.4 660 513.1 698 509.2 717.8 502 740 483.3 752 474.6 804 466.2 816 473.7 832 478.6 850 498.7 852 499.7 860 499.8 870 501.3 888 525.1 890 526.4 908 531.2 914 539 926 539.7 946 522.8 964 525.6 984 513 1002 515.3 1020 503.4 1022 503.2 1040 516.4 1058 515.3 1078 527.4 1096 523.9 1116 534 1134 530.5 1154 540.8 1172 537.3 1184.5 544 1192 546.7 1210 544.3 1228 550.6 1238 551.6 1290 569.3 1305.4 582 1338.5 602 1347.6 610 1348.5 616 1341.7 616 1340.9 610 1336 605.7 1328.3 600 1302 584.3 1292 576.1 1238 558.6 1228 557.8 1210 551.7 1192 554.1 1172 547.4 1154 549.8 1134 541.8 1116 544.9 1096 535 1078 538.4 1058 526.6 1040 528.2 1022 515.4 1020 515.6 1002 527.6 984 525.2 964 538.1 946 537.1 926 553 914 552.7 908 548.1 890 544.3 888 542.9 870 518.1 860 516.1 852 516.5 850 515.6 832 495.5 816 491.4 806 485.2 804 484.8 758 498 728 510.8 698 520.5 676 524.9 660 529.3 642 523.7 640 524.2 633.2 562 628.2 578 626 580.1 620.1 560 614 519.4 612 512.1 606 509.4 599 502 584 473.7 582 473.9 562.7 488 558 491.1 556 491.2 536 454.3 534 454.1 518 489.7 492 474.8 472 441.4 454 477 452 475.7 434 429.3 432 429.2 426 438.6 414 462.4 407.4 444 396 416.9 383.2 444 378 457.9 376 459.3 358 429.3 343 388 338 379.2 330.9 388 318 417.3 315.2 412 307.4 386 298 372.4 296 371.1 280 372.3 278 371.4 262 348.6 244 368 242 369.2 224 341.3 222 339.7 210 340.6 196.1 330 186 319 172 280.8 166 270.3 166 254.8ZM534 603.8L590 605.7 614 612.5 620.4 616 612 612.7 588 607.2 536 605.6 510.4 610 480 612.8 460.1 616 470 613.4 500.2 610 514 606.6Z"/>
<path fill="#9bff00" d="M167.2 272L174 285.8 186 319 196.1 330 210 340.6 222 339.7 224 341.3 242 369.2 244 368 262 348.6 278 371.4 280 372.3 296 371.1 298 372.4 307.4 386 315.2 412 318 417.3 330.9 388 338 379.2 343 388 358 429.3 376 459.3 378 457.9 383.2 444 396 416.9 407.4 444 414 462.4 426 438.6 432 429.2 434 429.3 452 475.7 454 477 472 441.4 492 474.8 518 489.7 534 454.1 536 454.3 556 491.2 558 491.1 562.7 488 582 473.9 584 473.7 599 502 606 509.4 612 512.1 614 519.4 620.1 560 626 580.1 628.2 578 633.2 562 640 524.2 642 523.7 660 529.3 676 524.9 698 520.5 728 510.8 758 498 804 484.8 806 485.2 816 491.4 832 495.5 850 515.6 852 516.5 860 516.1 870 518.1 888 542.9 890 544.3 908 548.1 914 552.7 926 553 946 537.1 964 538.1 984 525.2 1002 527.6 1020 515.6 1022 515.4 1040 528.2 1058 526.6 1078 538.4 1096 535 1116 544.9 1134 541.8 1154 549.8 1172 547.4 1192 554.1 1210 551.7 1228 557.8 1238 558.6 1258 564.9 1292 576.1 1302 584.3 1328.3 600 1336 605.7 1340.9 610 1341.7 616 1335.4 616 1335.4 612 1334.6 610 1332 607.9 1292 582.1 1238 565.7 1228 564.9 1210 559 1192 561.6 1172 555 1154 557.6 1134 550.6 1116 553.3 1096 545.8 1078 548.6 1058 538 1040 540 1022 527.7 1020 527.9 1002 539.8 984 537.5 964 550.8 946 550.4 926 564.7 914 564.1 908 560.1 906 559.8 890 559.4 888 558.5 884 554 870 535 860 532.5 852 533.3 850 532.6 832 513.5 816 510.3 806 503.9 804 503.6 784 510 750 516.3 724 525.1 682 536.3 660 545.6 658 545.8 642 541 640 541.5 636.6 562 632.6 578 631.2 582 628 585.5 626 586.1 622.2 582 619.8 574 614 537.6 612 530.8 606 528.6 602 525.5 584 504.3 582 504.3 560 515 556 516 536 480.1 534 479.7 518 513.5 492 497.3 472 463.7 454 501 452 499.9 434 452.7 432 452.6 414 490.6 396 440.8 378 487.6 376 489.1 372 483.5 358 458.2 338 403.1 318 450.2 314.1 444 308.9 430 303 410 298 388.6 296.4 386 280 386.2 278 385.1 262 361.8 244 381.7 242 382.9 224 355.5 222 354 210 355.3 198 348.5 186 339.2 172 301.9 166 291 166 270.3ZM534 602L590.5 604 602 606.7 616 612.6 621.7 616 614 612.5 590 605.7 536 603.8 516 606.2 500.2 610 474 612.8 460.1 616 456.4 616 466 613.1 490.1 610 508 605Z"/>
<path fill="#a7ff00" d="M166.6 292L172 301.9 186 339.2 198 348.5 210 355.3 222 354 224 355.5 242 382.9 244 381.7 262 361.8 278 385.1 280 386.2 296.4 386 298 388.6 303 410 308.9 430 314.1 444 318 450.2 338 403.1 358 458.2 372 483.5 376 489.1 378 487.6 396 440.8 414 490.6 432 452.6 434 452.7 452 499.9 454 501 472 463.7 492 497.3 518 513.5 534 479.7 536 480.1 556 516 560 515 582 504.3 584 504.3 602 525.5 606 528.6 612 530.8 614 537.6 619.8 574 622.2 582 626 586.1 628 585.5 631.2 582 632.6 578 636.6 562 640 541.5 642 541 658 545.8 660 545.6 682 536.3 724 525.1 750 516.3 784 510 804 503.6 806 503.9 816 510.3 832 513.5 850 532.6 852 533.3 860 532.5 870 535 884 554 888 558.5 890 559.4 906 559.8 908 560.1 914 564.1 926 564.7 946 550.4 964 550.8 984 537.5 1002 539.8 1020 527.9 1022 527.7 1040 540 1058 538 1078 548.6 1096 545.8 1116 553.3 1134 550.6 1154 557.6 1172 555 1192 561.6 1210 559 1228 564.9 1238 565.7 1292 582.1 1332 607.9 1334.6 610 1335.4 612 1335.4 616 1329.2 616 1329.2 612 1328 609.8 1292 586.9 1238 572.8 1228 572.1 1210 566.3 1192 569 1172 562.7 1154 565.4 1134 558.6 1116 561.6 1096 554.5 1078 557.7 1058 548.7 1040 551.1 1022 539.9 1020 540.1 1002 552 984 549.8 964 563.7 946 562.7 926 576.4 914 575.5 908 572.2 890 574.3 888 573.9 881.7 568 870 553.5 860 551.2 852 553.4 850 552.5 843.9 544 832 532.1 816 530.5 804 525 784 528 752 530.8 726 537.5 696 543.6 676 556.2 660 564.4 642 561.9 640 562.6 635.9 582 631.1 588 626 590.5 621.9 588 617.5 582 612 552.9 604 548.9 590.8 538 584 530.9 582 530.7 566 534.9 556 536.2 546.6 526 536 506.4 534 505.8 528.8 518 523.8 526 518 531.8 514 530.2 492 519.9 472 486.2 459.9 512 454 521.8 452 521.1 447 512 434 479.1 432 479.4 419.9 506 414 515.3 407.9 502 396 469 382 505.5 378 513.5 376 514.4 372 510.8 366.8 504 358 488.8 338 432.9 318 482.7 316 480 299.6 444 298 438.6 296 436.4 291.3 444 280 452.3 278 451.9 273.9 444 269.7 386 262 374.9 251.9 386 251.4 388 245.3 444 242 448.2 240.9 444 234.7 386 224 369.7 222 368.3 210 370.1 198 365.3 186 358.7 172 322.9 166 312.1ZM510 601.9L536 600.1 592 602.3 606 605.3 612.3 610 623.1 616 602 606.7 590.5 604 536 601.9 510 604.6 498 607.2 490.1 610 468 612.7 456.4 616 452.6 616 462 612.6 479.7 610 486 606.9 494 604.4Z"/>
<path fill="#b6ff00" d="M167.1 314L172 322.9 186 358.7 198 365.3 210 370.1 222 368.3 224 369.7 234.7 386 240.9 444 242 448.2 245.3 444 251.4 388 251.9 386 262 374.9 269.7 386 273.9 444 278 451.9 280 452.3 291.3 444 296 436.4 298 438.6 299.6 444 316 480 318 482.7 338 432.9 358 488.8 366.8 504 372 510.8 376 514.4 378 513.5 382 505.5 396 469 407.9 502 414 515.3 419.9 506 432 479.4 434 479.1 447 512 452 521.1 454 521.8 459.9 512 472 486.2 492 519.9 514 530.2 518 531.8 523.8 526 528.8 518 534 505.8 536 506.4 546.6 526 556 536.2 566 534.9 582 530.7 584 530.9 590.8 538 604 548.9 612 552.9 617.5 582 621.9 588 626 590.5 631.1 588 635.9 582 640 562.6 642 561.9 660 564.4 676 556.2 696 543.6 726 537.5 752 530.8 784 528 804 525 816 530.5 832 532.1 843.9 544 850 552.5 852 553.4 860 551.2 870 553.5 881.7 568 888 573.9 890 574.3 908 572.2 914 575.5 926 576.4 946 562.7 964 563.7 984 549.8 1002 552 1020 540.1 1022 539.9 1040 551.1 1058 548.7 1078 557.7 1096 554.5 1116 561.6 1134 558.6 1154 565.4 1172 562.7 1192 569 1210 566.3 1228 572.1 1238 572.8 1292 586.9 1328 609.8 1329.2 612 1329.2 616 1322.9 616 1322.9 612 1321.9 610 1292 591.8 1268 585.3 1238 579.7 1228 579.2 1210 573.6 1192 576.5 1172 570.3 1154 573.2 1134 566.6 1116 569.9 1096 563.2 1078 566.8 1058 558.6 1040 561.8 1022 551.8 1020 552 1002 564.1 984 562.4 964 576.5 946 575.1 935.7 582 926 585.5 914 586.5 908 584.4 890 586.7 878 582 870 574.1 852 579.6 850 578.9 832 553.9 816 553.7 804 547.1 752 546.6 704 564.6 680 575.9 664 581.9 640 583.4 637.5 588 634 591.3 626 593.2 618 591.3 612 583.4 588 584.1 580 583.2 568 579.4 556.7 574 547.6 568 542.2 562 539.5 556 537.4 544 534 541.4 526 549.7 518 552.5 503.3 544 492 539.8 482.8 530 472 510.1 464 528.2 459.6 534 454 538.8 452 538.4 449.4 536 443.3 528 434 505.6 432 506.2 422.2 526 418 531 414 534 405.7 522 396 497.9 385.5 522 379.7 530 378 531.7 376 532.2 368 526.5 358 515.6 351.6 502 338 463.8 323 502 318 510.8 316 508.9 312.5 502 298 468.1 296 466.7 280 475.8 278 475.1 262.8 444 262 418.3 260.3 444 253 456 242 477.6 232.9 444 225.3 386 222 382.6 210 384.8 186 378.3 166 334.4 166 312.1ZM534 587.5L546 588 554 589.6 558.3 592 561.5 598 598 600.9 608 602.6 612 605.8 614.7 610 624.5 616 623.1 616 612.3 610 607.6 606 598 603.2 588 602 534 600.1 498 603.6 488 606.1 479.7 610 462 612.6 452.6 616 448.9 616 454 613 467.1 610 474 605.7 482 602.5 510.2 598ZM640 615.5L641.2 616 638.3 616Z"/>
<path fill="#c7ff00" d="M166.8 336L186 378.3 210 384.8 222 382.6 225.3 386 232.9 444 242 477.6 253 456 260.3 444 262 418.3 262.8 444 278 475.1 280 475.8 296 466.7 298 468.1 312.5 502 316 508.9 318 510.8 323 502 338 463.8 351.6 502 357.1 514 366 524.6 372 530 375.6 532 378 531.7 379.7 530 385.5 522 396 497.9 405.7 522 414 534 418 531 422.2 526 432 506.2 434 505.6 443.3 528 449.4 536 452 538.4 454 538.8 459.6 534 464 528.2 472 510.1 482.8 530 492 539.8 503.3 544 518 552.5 526 549.7 534 541.4 536 542.2 538 546 540.2 558 542.2 562 546 566.6 560 575.8 578 582.8 588 584.1 612 583.4 618 591.3 622 592.6 628 593 632.6 592 635.8 590 640 583.4 664 581.9 682 575.1 698 567 750 546.9 804 547.1 816 553.7 832 553.9 850 578.9 852 579.6 870 574.1 878 582 888 586.6 908 584.4 914 586.5 928 584.8 935.7 582 946 575.1 964 576.5 984 562.4 1002 564.1 1020 552 1022 551.8 1040 561.8 1058 558.6 1078 566.8 1096 563.2 1116 569.9 1134 566.6 1154 573.2 1172 570.3 1192 576.5 1210 573.6 1228 579.2 1238 579.7 1270 585.7 1292 591.8 1321.9 610 1322.9 612 1322.9 616 1316.6 616 1316.6 612 1315.5 610 1290 595.8 1276 591.2 1258 586.9 1210 581.1 1190 582.7 1172 578 1154 580.8 1134 574.6 1116 578.1 1096 571.9 1078 575.8 1058 568.4 1040 572.4 1022 563.4 1020 563.7 1002 576.2 984 574.9 974.1 582 964 584.1 946 584.4 912 597.2 908 596 888 596.5 870 590.3 852 591.2 832 582.4 812.4 582 804 578.3 784 578.3 752 571.4 723.9 582 660 592.4 638 595.1 622 595 614 596.8 611.6 598 611.6 600 616.6 610 626.1 616 624.5 616 614.7 610 612 605.8 608 602.6 598 600.9 561.5 598 559.9 594 555.1 590 548 588.2 536 587.2 526 590.7 510.2 598 482 602.5 474 605.7 467.1 610 454 613 448.9 616 444.5 616 448 612.8 454.5 610 460.6 604 468 600 470.6 598 474 592 477.7 588 488.1 582 480 573.3 470 564.9 464 562.7 452 560.6 444 556 438 550.2 434 543.3 432 543.4 428 547.8 424.4 550 414 553.1 408 549.5 404 545.7 399.6 540 396 532.1 391.4 540 384.5 546 378 549.3 372 547.9 358 537.5 354 532.2 348 520.5 338 495.5 327.3 518 322.9 524 318 528.7 314.8 526 309.1 518 298 495.2 296 493.3 280 499.3 278 498.2 262 463.8 255.2 476 244.5 502 242 505.4 238 496 232 475.6 222 429.2 186 429.9 179.2 386 172 370.4 166 361.3 166 334.4ZM638 613.4L642 613 646.8 616 630.6 616Z"/>
<path fill="#d8ff00" d="M166.4 362L172 370.4 179.2 386 186 429.9 222 429.2 232 475.6 238 496 242 505.4 244.5 502 255.2 476 262 463.8 278 498.2 280 499.3 296 493.3 298 495.2 309.1 518 314.8 526 318 528.7 322.9 524 327.3 518 338 495.5 348 520.5 354 532.2 358 537.5 372 547.9 378 549.3 384.5 546 391.4 540 396 532.1 402 543.3 406.3 548 412 552.1 414 553.1 422 551 427.7 548 432 543.4 434 543.3 438 550.2 444 556 452 560.6 464 562.7 470 564.9 480 573.3 488.1 582 478 587.8 474 592 470.6 598 460 604.4 454.5 610 448 612.8 444.5 616 436.8 616 442 610 445.2 600 445.1 598 442 592.8 436 586.8 426 581.9 372 571.8 358 565.6 352 561.4 347.3 556 338 530.9 335.1 536 330.9 540 318 545.2 307 536 296 520.3 280 523.7 278 522.7 269.7 502 262 485.6 248.9 514 244 521.3 242 522.5 229.3 502 224 481.9 222 477.9 216 482.7 210 489.4 186 499.6 175 444 172 422.9 166 395.1ZM1020 563.7L1022 563.4 1040 572.4 1058 568.4 1078 575.8 1096 571.9 1116 578.1 1134 574.6 1154 580.8 1172 578 1190 582.7 1210 581.1 1258 586.9 1278 591.8 1292 596.7 1315.5 610 1316.6 612 1316.6 616 1310.4 616 1310.4 612 1309.2 610 1292 600.9 1264 591.9 1238 586.9 1210 585 1192 586.2 1172 583.9 1154 585.2 1134 582.4 1116 584.1 1096 580.8 1078 583.2 1069.6 582 1058 578.3 1040 582.3 1022 575 1020 575.5 1010.8 582 1004 583.5 984 583.8 964 587.9 945 590 924 600.1 918.7 604 912 611.2 908 609.5 888 606.8 870 603.2 858 602.4 848.7 600 832 592.9 804 589 784 589 750 587.4 660 601.4 652 604.3 646.6 610 652.2 616 646.8 616 644 613.9 640 612.7 630.6 616 626 616 616.6 610 611.6 600 612 597.8 620 595.3 638 595.1 658 592.7 723.9 582 752 571.4 784 578.3 804 578.3 812.4 582 832 582.4 852 591.2 870 590.3 888 596.5 908 596 912 597.2 946 584.4 964 584.1 974.1 582 984 574.9 1002 576.2ZM618.6 598L616.3 600 615.7 604 618 609.8 621.1 612 628 614.9 634 613.1 639 610 640.3 606 639.7 602 638.5 600 635.6 598 628 596.2 622 596.6Z"/>
<path fill="#e8ff00" d="M166.2 396L172 422.9 175 444 186 499.6 210 489.4 216 482.7 222 477.9 224 481.9 229.3 502 242 522.5 244 521.3 248.9 514 262 485.6 269.7 502 278 522.7 280 523.7 296 520.3 307 536 318 545.2 330.9 540 335.1 536 338 530.9 346.2 554 350 559.5 354 563 360 566.6 372 571.8 426 581.9 432 584.3 439.6 590 445.1 598 445.2 600 442 610 436.8 616 428.9 616 429.7 610 426.6 604 422.9 600 412.7 594 399.5 590 374 586.3 320 583.3 313.4 582 307.4 570 296 553.7 290 550 278 545.8 274 540.9 268.5 530 262 509.5 257.3 522 254 528.3 248 534.6 242 537.3 234 528.3 224 511.8 222 510.4 210 515.1 186 520.4 178 511 166 489.8ZM1020 575.5L1022 575 1040 582.3 1058 578.3 1069.6 582 1078 583.2 1096 580.8 1116 584.1 1134 582.4 1154 585.2 1172 583.9 1192 586.2 1210 585 1238 586.9 1264 591.9 1292 600.9 1309.2 610 1310.4 612 1310.4 616 1304.1 616 1304.1 612 1302.9 610 1292 604.2 1260 594.5 1238 589.9 1210 588.4 1192 589.7 1172 587.8 1154 589 1134 586.7 1116 588 1096 585.6 1078 587 1058 584.6 1040 586.1 1022 583.7 1002 587.6 982 588 946 595 935.7 600 924.8 608 922 611.7 921.9 616 855.2 616 855.1 612 853.4 610 844 606.3 832 602.2 804 597 752 596.6 726.4 600 686 603 672 605.3 660 608.4 657.3 610 657.6 616 652.2 616 646.6 610 652 604.3 660 601.4 752 587.3 782 589 804 589 832 592.9 848.7 600 858 602.4 870 603.2 888 606.8 908 609.5 912 611.2 918.7 604 924 600.1 945 590 964 587.9 984 583.8 1004 583.5 1010.8 582ZM620 597.3L630 596.3 636 598.2 638.5 600 640.3 604 639 610 634 613.1 628 614.9 620 611.3 616.8 608 615.7 604 616.3 600ZM622 598L618.7 600 617.2 604 619.6 610 624 612.6 628 613.6 632 612.5 635.8 610 637 608 637.4 604 635.2 600 630 597.5Z"/>
<path fill="#f3ff00" d="M166.1 490L178 511 186 520.4 210 515.1 222 510.4 224 511.8 234 528.3 242 537.3 248 534.6 254 528.3 257.3 522 262 509.5 268.5 530 274 540.9 278 545.8 290 550 296 553.7 307.4 570 313.4 582 320 583.3 378 586.7 394 588.9 406 591.7 417 596 424.9 602 429.7 610 428.9 616 413.9 616 413.1 610 406 604 396 598.2 384 594.7 372 592.3 318 589.3 302 586.6 290 583.1 287.4 582 278.3 572 262 557.9 241.8 556 237.3 552 232.3 544 222 531.8 210 532.4 186 537.4 184 536.7 172 527.7 166 525.9ZM168 563.6L180 571 188.9 582 166 588.5 166 562.8ZM1020 583.9L1040 586.1 1058 584.6 1078 587 1096 585.6 1116 588 1134 586.7 1154 589 1172 587.8 1192 589.7 1210 588.4 1238 589.9 1260 594.5 1292 604.2 1302.9 610 1304.1 612 1304.1 616 1297.9 616 1297.9 612 1296.5 610 1292 607.6 1258 597.5 1238 592.8 1210 591.8 1192 593.1 1172 591.7 1154 592.7 1134 590.9 1116 592 1098 589.9 1078 590.9 1058 588.7 1040 589.9 1022 587.8 1002 591.3 982 592 953 598 944 601.5 932 609.7 930.7 612 930.6 616 921.9 616 922 611.7 924.8 608 935.7 600 946 595 982 588 1002 587.6ZM622 598L630 597.5 635.2 600 637.4 604 637 608 635.8 610 632 612.5 628 613.6 624 612.6 619.6 610 617.4 606 617.6 602 618.7 600ZM620.6 600L619 602 618.5 606 622 610.7 628 612.4 632 611.1 635.1 608 635.7 604 634.9 602 632 599.4 626 598.2ZM744 597.8L752 596.6 806 597.2 832 602.2 846 607 853.4 610 855.1 612 855.2 616 835.9 616 836 612 834 610 820.3 606 804 602.8 696 605.7 674.8 610 672.2 612 672.2 616 657.6 616 657.3 610 661.3 608 672 605.3 694 602.1 726.4 600Z"/>
<path fill="#fdff00" d="M166.2 526L172 527.7 179.5 534 186 537.4 210 532.4 222 531.8 232.3 544 237.3 552 241.8 556 262 557.9 278.3 572 288 582.2 300 586.2 316 589.1 372 592.3 388 595.7 400 600 408 605.5 413.1 610 413.9 616 396.1 616 396.1 612 395.1 610 382 602.3 372 598.5 286 593.6 272 590.8 264 586.4 212 590.5 192 595.4 166 598 166 588.5 188.9 582 184.8 576 178.8 570 166 562.8ZM1020 587.9L1040 589.9 1060 588.8 1078 590.9 1096 589.8 1116 592 1134 590.9 1154 592.7 1172 591.7 1192 593.1 1210 591.8 1238 592.8 1258 597.5 1292 607.6 1296.5 610 1297.9 612 1297.9 616 1291.4 616 1291.4 612 1288.9 610 1238 595.8 1210 595.2 1192 596.5 1172 595.6 1154 596.5 1134 595.2 1116 595.9 1096 594 1078 594.7 1060 592.9 1040 593.7 1022 591.8 1002 595 984 595.7 966 598.6 954 602.5 943.3 608 940.4 610 939.4 612 939.4 616 930.6 616 931.6 610 944 601.5 952 598.3 982 592 1002 591.3ZM622 599.1L628 598.2 633 600 635.7 604 635.1 608 633.7 610 628 612.4 621 610 619.3 608 618.4 604 620 600.6ZM622.5 600L619.5 604 620 607 622 609.7 628 611.4 631.7 610 633.6 608 634.3 604 632 600.7 628 599.1ZM748 603.9L806 603 834 610 836 612 835.9 616 816.6 616 816.6 612 813.9 610 804 607.8 752 610 698 609.4 693.8 610 690.4 612 690.4 616 672.2 616 672.2 612 674.8 610 692 606.4Z"/>
<path fill="#ffec00" d="M250 587.9L264 586.4 274 591.4 292 594.2 372 598.5 382 602.3 395.1 610 396.1 612 396.1 616 378.4 616 378.4 612 377 610 372 607.7 318 604.5 264 609.5 210 609.6 202.9 612 202.9 616 166 616 166 598 192 595.4 212 590.5ZM1020 592L1040 593.7 1058 592.9 1078 594.7 1096 594 1116 595.9 1134 595.2 1154 596.5 1172 595.6 1192 596.5 1210 595.2 1238 595.8 1288.9 610 1291.4 612 1291.4 616 1278.4 616 1278.4 612 1275.6 610 1238 598.8 1154 600.2 1116 599.6 1096 598.2 1078 598.4 1058 597 1040 597.5 1022 595.9 968 602 949.3 610 948.1 612 948.2 616 939.4 616 939.4 612 940.4 610 950 604.3 961.2 600 982 596 1002 595ZM624 599.4L630 599.5 633.4 602 634.4 606 632 609.8 626 611.4 622.5 610 620.5 608 619.6 606 620 602.7ZM625.4 600L621.6 602 620.6 606 624 609.8 626 610.5 630 609.8 632.2 608 633.1 604 630 600.6ZM800 608L806 608 813.9 610 816.6 612 816.6 616 690.4 616 690.4 612 693.8 610 698 609.4 752 610Z"/>
<path fill="#ffd700" d="M1022 595.9L1040 597.5 1058 597 1078 598.4 1096 598.2 1116 599.6 1154 600.2 1238 598.8 1275.6 610 1278.4 612 1278.4 616 1264.9 616 1264.9 612 1262.2 610 1236 602.4 1184 604.5 1130 603.3 1096 601 1022 599.6 984 603 968 605.9 958.4 610 957 612 956.9 616 948.2 616 948.1 612 949.3 610 968 602ZM626 599.9L630 600.6 633.1 604 632.2 608 628 610.4 624 609.8 620.6 606 621.6 602ZM623 602L621.6 604 621.6 606 624 608.8 628 609.4 630.7 608 632 606 631.9 604 630 601.6 626 600.8ZM300 606L318 604.5 372 607.7 377 610 378.4 612 378.4 616 202.9 616 202.9 612 210 609.6 264 609.5Z"/>
<path fill="#ffc400" d="M1018 599.9L1096 601 1130 603.3 1184 604.5 1236 602.4 1262.2 610 1264.9 612 1264.9 616 1251.4 616 1251.4 612 1248.8 610 1236 606.5 1184 608.9 1130 607 1090 602.9 1022 602 990 605.5 976 608 967.8 610 965.8 612 965.7 616 956.9 616 957 612 958.4 610 968 605.9 984 603ZM624 601.3L628 600.9 630.5 602 631.9 604 632 606 630.7 608 626 609.5 622.9 608 621.6 606 621.6 604ZM624.9 602L622.8 604 622.8 606 624 607.6 628 608.4 630 607 630.7 606 630 603.1 628 601.8Z"/>
<path fill="#ffb200" d="M626 601.7L628.6 602 630.7 604 630.7 606 628 608.4 624.7 608 622.8 606 622.8 604ZM624.1 604L624.1 606 626 607.2 629.2 606 629.1 604 628 603.1 626 602.9ZM1004 603.9L1022 602 1074 602.3 1098 603.4 1130 607 1184 608.9 1236 606.5 1248.8 610 1251.4 612 1251.4 616 1237.4 616 1237.1 612 1236 611.8 1234.5 612 1234 616 1132.6 616 1133.2 612 1120 608.7 1094 605.3 1060 604 1022 604.3 1014 605.2 982.9 610 979.7 612 979.7 616 965.7 616 965.8 612 968 609.9 984 606.4Z"/>
<path fill="#ffa300" d="M626 602.9L629.1 604 629.2 606 628 607 626 607.2 624.1 606 624.1 604ZM1008 606L1022 604.3 1076 604.1 1108 606.9 1124 609.4 1133.2 612 1132.6 616 1115.5 616 1115.3 612 1111.3 610 1092 607.3 1074 605.8 1022 606.6 998.9 610 994.8 612 994.7 616 979.7 616 979.7 612 982.9 610ZM1236 611.8L1237.1 612 1237.4 616 1234 616 1234.5 612Z"/>
<path fill="#ff9900" d="M1058 606L1076 605.9 1110 609.8 1115.3 612 1115.5 616 1101.1 616 1101.1 612 1096.4 610 1074 607.6 1020 609.1 1014.3 610 1009.8 612 1009.8 616 994.7 616 994.8 612 998.9 610 1006 608.8 1022 606.6Z"/>
<path fill="#ff8f00" d="M1056 608L1076 607.7 1096.4 610 1101.1 612 1101.1 616 1086.7 616 1086.7 612 1080.8 610 1074 609.4 1053.3 610 1033.8 612 1033.6 616 1009.8 616 1009.8 612 1014.3 610 1022 608.9Z"/>
<path fill="#ff8500" d="M1054 610L1074 609.4 1080.8 610 1086.7 612 1086.7 616 1033.6 616 1033.8 612Z"/>
</g>
<g shape-rendering="crispEdges" fill="none" stroke="#000" stroke-width="1">
<rect x="156.5" y="41.5" width="1297" height="575"/>
<path d="M192.5 616v-15M192.5 42v14M228.5 616v-15M228.5 42v14M264.5 616v-15M264.5 42v14M300.5 616v-15M300.5 42v14M336.5 616v-15M336.5 42v14M372.5 616v-29M372.5 42v28M408.5 616v-15M408.5 42v14M444.5 616v-15M444.5 42v14M480.5 616v-15M480.5 42v14M516.5 616v-15M516.5 42v14M552.5 616v-15M552.5 42v14M588.5 616v-29M588.5 42v28M624.5 616v-15M624.5 42v14M660.5 616v-15M660.5 42v14M696.5 616v-15M696.5 42v14M732.5 616v-15M732.5 42v14M768.5 616v-15M768.5 42v14M805.5 616v-29M805.5 42v28M841.5 616v-15M841.5 42v14M877.5 616v-15M877.5 42v14M913.5 616v-15M913.5 42v14M949.5 616v-15M949.5 42v14M985.5 616v-15M985.5 42v14M1021.5 616v-29M1021.5 42v28M1057.5 616v-15M1057.5 42v14M1093.5 616v-15M1093.5 42v14M1129.5 616v-15M1129.5 42v14M1165.5 616v-15M1165.5 42v14M1201.5 616v-15M1201.5 42v14M1237.5 616v-29M1237.5 42v28M1273.5 616v-15M1273.5 42v14M1309.5 616v-15M1309.5 42v14M1345.5 616v-15M1345.5 42v14M1381.5 616v-15M1381.5 42v14M1417.5 616v-15M1417.5 42v14M157 587.5h13M1453 587.5h-13M157 558.5h13M1453 558.5h-13M157 529.5h13M1453 529.5h-13M157 501.5h13M1453 501.5h-13M157 472.5h26M1453 472.5h-26M157 443.5h13M1453 443.5h-13M157 414.5h13M1453 414.5h-13M157 386.5h13M1453 386.5h-13M157 357.5h13M1453 357.5h-13M157 328.5h26M1453 328.5h-26M157 299.5h13M1453 299.5h-13M157 271.5h13M1453 271.5h-13M157 242.5h13M1453 242.5h-13M157 213.5h13M1453 213.5h-13M157 184.5h26M1453 184.5h-26M157 156.5h13M1453 156.5h-13M157 127.5h13M1453 127.5h-13M157 98.5h13M1453 98.5h-13M157 69.5h13M1453 69.5h-13"/>
</g>
<g shape-rendering="crispEdges">
<rect x="765" y="42" width="33" height="575" fill="url(#sA)"/>
<rect x="1395" y="56" width="33" height="561" fill="url(#sB)"/>
</g>
<g shape-rendering="crispEdges" fill="none" stroke="#000" stroke-width="1">
<path d="M764.5 41v576M798.5 41v576M1394.5 41v576M1428.5 41v576"/>
</g>
<g shape-rendering="crispEdges">
<rect x="1312" y="59" width="38" height="340" fill="url(#cb)"/>
<rect x="1313.5" y="58.5" width="37" height="341" fill="none" stroke="#000" stroke-width="1"/>
<path d="M1314 126.5h5M1350 126.5h-5M1314 194.5h5M1350 194.5h-5M1314 262.5h5M1350 262.5h-5M1314 331.5h5M1350 331.5h-5" fill="none" stroke="#000" stroke-width="1"/>
</g>
<text x="106.50" y="56.75" font-size="25" font-weight="200" textLength="41.57" lengthAdjust="spacingAndGlyphs" stroke="#000" stroke-width="0.3">2.0</text>
<text x="107.50" y="194.25" font-size="25" font-weight="200" textLength="41.57" lengthAdjust="spacingAndGlyphs" stroke="#000" stroke-width="0.3">1.5</text>
<text x="107.50" y="338.25" font-size="25" font-weight="200" textLength="40.97" lengthAdjust="spacingAndGlyphs" stroke="#000" stroke-width="0.3">1.0</text>
<text x="106.00" y="481.75" font-size="25" font-weight="200" textLength="42.57" lengthAdjust="spacingAndGlyphs" stroke="#000" stroke-width="0.3">0.5</text>
<text x="106.00" y="618.25" font-size="25" font-weight="200" textLength="41.77" lengthAdjust="spacingAndGlyphs" stroke="#000" stroke-width="0.3">0.0</text>
<text x="146.00" y="648.52" font-size="24" font-weight="200" textLength="18.48" lengthAdjust="spacingAndGlyphs" stroke="#000" stroke-width="0.3">0</text>
<text x="364.50" y="648.52" font-size="24" font-weight="200" textLength="15.88" lengthAdjust="spacingAndGlyphs" stroke="#000" stroke-width="0.3">4</text>
<text x="578.50" y="648.52" font-size="24" font-weight="200" textLength="17.48" lengthAdjust="spacingAndGlyphs" stroke="#000" stroke-width="0.3">8</text>
<text x="787.00" y="648.52" font-size="24" font-weight="200" textLength="34.75" lengthAdjust="spacingAndGlyphs" stroke="#000" stroke-width="0.3">12</text>
<text x="1006.00" y="648.52" font-size="24" font-weight="200" textLength="30.55" lengthAdjust="spacingAndGlyphs" stroke="#000" stroke-width="0.3">16</text>
<text x="1219.50" y="648.52" font-size="24" font-weight="200" textLength="33.55" lengthAdjust="spacingAndGlyphs" stroke="#000" stroke-width="0.3">20</text>
<text x="1436.00" y="648.52" font-size="24" font-weight="200" textLength="34.15" lengthAdjust="spacingAndGlyphs" stroke="#000" stroke-width="0.3">24</text>
<text x="103.50" y="691.75" font-size="43.5" font-weight="200" textLength="203.07" lengthAdjust="spacingAndGlyphs">ICECAPS</text>
<text x="1210.00" y="73.75" font-size="25" font-weight="200" textLength="94.53" lengthAdjust="spacingAndGlyphs">−13.50</text>
<text x="1210.00" y="135.25" font-size="25" font-weight="200" textLength="94.53" lengthAdjust="spacingAndGlyphs">−17.50</text>
<text x="1210.00" y="203.75" font-size="25" font-weight="200" textLength="94.53" lengthAdjust="spacingAndGlyphs">−21.50</text>
<text x="1210.00" y="271.75" font-size="25" font-weight="200" textLength="94.53" lengthAdjust="spacingAndGlyphs">−25.50</text>
<text x="1209.00" y="340.25" font-size="25" font-weight="200" textLength="95.33" lengthAdjust="spacingAndGlyphs">−29.50</text>
<text x="1209.00" y="399.25" font-size="25" font-weight="200" textLength="95.33" lengthAdjust="spacingAndGlyphs">−33.50</text>
<text transform="translate(1386.20,274.00) rotate(-90)" font-size="25" font-weight="200" textLength="89.14" lengthAdjust="spacingAndGlyphs">Celcius</text>
<text x="265.00" y="29.80" font-size="28.5" font-weight="200" textLength="72.89" lengthAdjust="spacingAndGlyphs" stroke="#000" stroke-width="0.3">Sept</text>
<text x="352.50" y="29.80" font-size="28.5" font-weight="200" textLength="37.87" lengthAdjust="spacingAndGlyphs" stroke="#000" stroke-width="0.3">01</text>
<text x="410.50" y="29.80" font-size="28.5" font-weight="200" textLength="83.13" lengthAdjust="spacingAndGlyphs" stroke="#000" stroke-width="0.3">2016</text>
<text x="506.50" y="29.80" font-size="28.5" font-weight="200" textLength="72.78" lengthAdjust="spacingAndGlyphs" stroke="#000" stroke-width="0.3">MWR</text>
<text x="597.00" y="29.80" font-size="28.5" font-weight="200" textLength="199.15" lengthAdjust="spacingAndGlyphs" stroke="#000" stroke-width="0.3">Temperature</text>
<text x="812.00" y="29.80" font-size="28.5" font-weight="200" textLength="120.67" lengthAdjust="spacingAndGlyphs" stroke="#000" stroke-width="0.3">Profiles</text>
<text x="946.00" y="29.80" font-size="28.5" font-weight="200" textLength="39.37" lengthAdjust="spacingAndGlyphs" stroke="#000" stroke-width="0.3">(ll</text>
<text x="1000.00" y="29.80" font-size="28.5" font-weight="200" textLength="51.09" lengthAdjust="spacingAndGlyphs" stroke="#000" stroke-width="0.3">are</text>
<text x="1066.50" y="29.80" font-size="28.5" font-weight="200" textLength="143.59" lengthAdjust="spacingAndGlyphs" stroke="#000" stroke-width="0.3">sounding</text>
<text x="1226.00" y="29.80" font-size="28.5" font-weight="200" textLength="131.00" lengthAdjust="spacingAndGlyphs" stroke="#000" stroke-width="0.3">profiles)</text>
<text x="732.00" y="674.25" font-size="25" font-weight="200" textLength="49.56" lengthAdjust="spacingAndGlyphs" stroke="#000" stroke-width="0.3">UTC</text>
<text x="792.00" y="674.25" font-size="25" font-weight="200" textLength="84.98" lengthAdjust="spacingAndGlyphs" stroke="#000" stroke-width="0.3">[hour]</text>
<text x="1048.50" y="694.20" font-size="28" font-weight="200" textLength="75.40" lengthAdjust="spacingAndGlyphs" stroke="#000" stroke-width="0.3">SSEC</text>
<text x="1141.50" y="694.20" font-size="28" font-weight="200" textLength="23.87" lengthAdjust="spacingAndGlyphs" stroke="#000" stroke-width="0.3">−</text>
<text x="1180.00" y="694.20" font-size="28" font-weight="200" textLength="61.99" lengthAdjust="spacingAndGlyphs" stroke="#000" stroke-width="0.3">Univ</text>
<text x="1256.50" y="694.20" font-size="28" font-weight="200" textLength="28.20" lengthAdjust="spacingAndGlyphs" stroke="#000" stroke-width="0.3">of</text>
<text x="1300.50" y="694.20" font-size="28" font-weight="200" textLength="63.64" lengthAdjust="spacingAndGlyphs" stroke="#000" stroke-width="0.3">Wisc</text>
<text transform="translate(87.40,407.00) rotate(-90)" font-size="25" font-weight="200" textLength="78.98" lengthAdjust="spacingAndGlyphs" stroke="#000" stroke-width="0.3">Height</text>
<text transform="translate(87.40,314.00) rotate(-90)" font-size="25" font-weight="200" textLength="60.74" lengthAdjust="spacingAndGlyphs" stroke="#000" stroke-width="0.3">[km]</text>
</svg>
</body></html>
